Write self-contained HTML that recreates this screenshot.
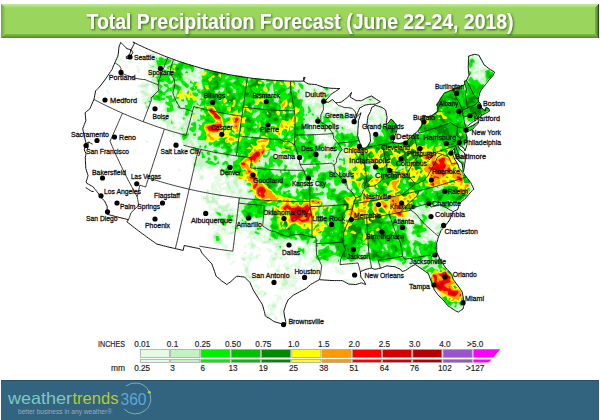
<!DOCTYPE html>
<html><head><meta charset="utf-8"><style>
html,body{margin:0;padding:0;background:#fff;width:600px;height:420px;overflow:hidden}
svg{display:block;font-family:"Liberation Sans",sans-serif}
</style></head><body>
<svg width="600" height="420" viewBox="0 0 600 420">
<defs>
<filter id="tsh" x="-5%" y="-30%" width="110%" height="160%"><feGaussianBlur in="SourceAlpha" stdDeviation="0.9"/><feOffset dx="1" dy="1.2" result="o"/><feFlood flood-color="#1a3a00" flood-opacity="0.75"/><feComposite in2="o" operator="in"/><feMerge><feMergeNode/><feMergeNode in="SourceGraphic"/></feMerge></filter>
</defs>
<rect width="600" height="420" fill="#fff"/>
<!-- header -->
<defs>
<linearGradient id="gt" x1="0" y1="0" x2="0" y2="1"><stop offset="0" stop-color="#C2EC9C"/><stop offset="1" stop-color="#A3DA6A"/></linearGradient>
<linearGradient id="gb" x1="0" y1="0" x2="0" y2="1"><stop offset="0" stop-color="#82BD4A"/><stop offset="1" stop-color="#4F8A24"/></linearGradient>
<linearGradient id="gl" x1="0" y1="0" x2="1" y2="0"><stop offset="0" stop-color="#6DAA38"/><stop offset="1" stop-color="#92CD58"/></linearGradient>
<linearGradient id="gr" x1="0" y1="0" x2="1" y2="0"><stop offset="0" stop-color="#7FB848"/><stop offset="1" stop-color="#3E6E1C"/></linearGradient>
</defs>
<rect x="1" y="4" width="598" height="34" fill="#9AD55D"/>
<polygon points="1,4 599,4 595,7.5 5,7.5" fill="url(#gt)"/>
<polygon points="1,4 5,7.5 5,34 1,38" fill="url(#gl)"/>
<polygon points="1,38 5,34 595,34 599,38" fill="url(#gb)"/>
<polygon points="599,4 599,38 595,34 595,7.5" fill="url(#gr)"/>
<line x1="598.6" y1="4" x2="598.6" y2="38" stroke="#203810" stroke-width="0.8"/>
<text x="86.5" y="29" font-size="21.3" font-weight="bold" fill="#fff" textLength="427" lengthAdjust="spacingAndGlyphs" filter="url(#tsh)">Total Precipitation Forecast (June 22-24, 2018)</text>
<!-- map -->
<g id="precip"><path fill="#E6FBE6" fill-rule="evenodd" d="M134.0 50.7 133.0 50.8 131.8 49.0 133.0 47.6 134.8 48.0 135.3 49.0 134.0 50.7ZM141.0 50.3 140.0 50.5 138.8 49.0 141.0 48.3 141.7 49.0 141.0 50.3ZM131.0 54.9 129.2 52.0 130.0 50.5 131.9 52.0 131.0 54.9ZM458.0 312.1 456.0 310.1 453.0 309.1 451.0 307.1 446.9 305.0 443.8 300.0 439.0 296.0 438.5 295.0 439.7 293.0 439.0 290.6 437.0 292.1 434.9 291.0 430.8 283.0 430.8 280.0 427.8 273.0 415.0 264.1 413.0 263.8 413.0 265.0 410.0 266.1 407.0 269.0 403.0 268.0 402.0 270.1 401.0 270.0 400.9 268.0 400.0 266.7 397.0 266.8 395.4 266.0 394.0 263.6 393.0 263.5 392.0 264.7 390.0 263.3 385.9 263.0 383.2 265.0 382.0 267.0 380.0 268.1 378.3 268.0 378.0 265.9 374.0 264.1 371.8 268.0 369.4 268.0 368.1 265.0 369.0 262.7 366.0 261.4 363.0 262.2 361.0 261.1 356.0 261.7 353.1 264.0 353.3 266.0 351.0 267.5 349.3 267.0 348.9 266.0 350.4 265.0 350.5 264.0 348.0 262.5 341.0 262.4 337.0 264.3 335.0 263.8 333.0 264.9 331.0 263.2 329.0 262.9 327.8 264.0 328.0 266.1 325.0 265.8 324.0 267.2 320.0 263.8 318.1 266.0 317.5 269.0 315.1 270.0 317.2 272.0 317.7 273.0 317.0 274.0 314.0 271.3 310.8 270.0 310.7 269.0 313.4 266.0 313.0 263.6 310.0 266.3 303.7 264.0 304.0 262.8 306.0 263.5 309.0 262.3 310.5 260.0 308.4 257.0 310.0 256.5 311.0 257.6 312.0 257.3 313.7 255.0 313.9 254.0 311.6 253.0 311.2 252.0 312.1 251.0 312.4 248.0 313.5 247.0 313.0 245.4 312.0 245.1 310.2 249.0 307.6 259.0 305.0 261.1 304.0 258.0 303.0 257.3 302.0 257.9 299.6 269.0 300.2 270.0 300.0 271.7 298.6 271.0 297.0 268.1 295.0 268.7 293.0 266.5 290.0 270.4 289.8 271.0 291.0 271.1 293.0 273.0 297.0 273.8 298.1 275.0 297.0 276.8 296.0 274.3 294.3 275.0 297.0 277.0 298.3 280.0 298.1 282.0 295.7 284.0 295.8 286.0 298.8 289.0 296.0 291.0 297.0 293.0 292.0 294.5 291.0 294.0 291.0 292.6 293.0 293.0 294.5 292.0 295.0 288.0 294.0 287.4 290.1 288.0 288.0 290.2 284.0 289.3 281.0 290.2 278.1 289.0 278.5 288.0 280.8 287.0 280.3 281.0 282.2 276.0 283.0 275.2 286.0 277.7 287.2 277.0 286.7 275.0 287.6 272.0 285.1 270.0 284.4 267.0 282.5 266.0 282.2 265.0 288.0 261.0 289.0 262.9 288.3 265.0 289.0 266.0 291.0 264.2 294.0 263.5 296.0 261.9 297.0 262.4 299.3 259.0 291.7 253.0 293.3 250.0 289.0 245.6 287.0 245.5 283.4 248.0 286.0 249.5 287.0 251.0 289.7 252.0 290.7 253.0 290.5 254.0 288.6 255.0 286.0 251.6 281.3 254.0 281.0 255.0 282.0 255.8 286.0 255.6 287.0 256.3 287.8 258.0 287.0 259.9 286.0 260.5 284.0 259.8 281.0 260.5 278.0 258.6 275.4 261.0 275.0 267.7 273.0 267.0 268.0 267.7 267.0 267.4 266.3 265.0 268.0 262.8 268.3 266.0 269.0 266.9 270.7 265.0 269.2 261.0 270.1 256.0 271.0 254.7 273.5 254.0 274.0 252.1 275.6 251.0 272.0 244.1 271.0 243.7 269.0 244.6 261.9 244.0 260.0 242.2 257.0 241.6 253.0 238.7 252.2 239.0 251.7 240.0 256.0 244.0 257.0 246.8 259.0 246.9 260.8 249.0 261.0 250.3 259.0 251.6 258.7 249.0 257.0 247.2 252.0 249.7 248.4 249.0 250.4 247.0 250.0 245.5 247.0 245.1 246.0 245.5 245.9 247.0 244.0 247.9 242.9 247.0 245.0 244.5 247.0 244.6 250.3 241.0 250.0 238.9 246.3 238.0 245.7 237.0 248.6 235.0 246.8 232.0 243.0 231.5 241.0 235.5 237.0 232.0 234.0 234.4 228.3 235.0 226.0 237.0 224.0 233.2 222.0 232.9 222.6 238.0 224.2 240.0 223.6 243.0 225.0 244.3 228.3 245.0 227.1 251.0 231.0 252.5 233.0 251.4 234.3 254.0 234.0 255.1 231.0 254.9 230.5 258.0 228.0 260.7 227.0 258.0 224.5 255.0 225.0 253.0 226.6 252.0 226.4 250.0 220.0 245.2 218.0 245.6 214.0 244.0 212.9 242.0 211.7 236.0 214.7 231.0 216.7 230.0 216.7 228.0 217.9 226.0 215.3 226.0 214.0 227.0 212.0 223.5 209.2 222.0 209.1 221.0 211.3 220.0 210.3 218.0 210.0 212.5 212.2 213.0 213.4 212.0 213.2 211.0 210.0 210.2 209.0 209.2 208.2 205.0 205.1 203.0 205.0 200.4 202.0 201.1 201.0 199.0 202.0 195.7 203.0 195.0 205.0 196.3 206.0 195.0 206.5 194.0 205.1 192.0 206.0 190.0 208.0 189.1 210.0 190.8 211.3 190.0 210.7 183.0 214.2 181.0 214.8 179.0 213.6 177.0 214.2 176.0 217.0 175.1 218.3 173.0 217.0 167.4 214.6 168.0 214.7 170.0 213.0 170.9 207.0 169.8 204.9 168.0 202.8 170.0 203.5 172.0 203.0 172.5 201.7 171.0 200.0 170.8 199.0 174.0 197.0 172.1 195.0 172.7 194.0 172.0 192.8 171.0 194.6 169.0 194.1 168.0 192.0 167.1 191.2 157.0 190.3 155.0 187.8 153.0 187.8 151.0 185.2 148.0 184.0 148.1 183.1 147.0 178.5 134.0 177.0 133.2 174.6 137.0 172.8 137.0 171.4 133.0 172.0 131.6 171.0 131.0 170.3 132.0 170.8 133.0 169.6 134.0 168.0 133.3 167.7 130.0 166.4 128.0 166.1 125.0 165.0 123.1 158.0 121.1 154.2 117.0 156.0 114.1 157.0 113.7 159.0 115.2 164.8 114.0 165.1 113.0 164.0 112.1 160.3 112.0 161.0 110.0 163.0 109.0 162.7 106.0 164.0 104.0 163.5 103.0 163.0 102.4 162.0 104.6 160.5 105.0 160.0 108.8 157.7 108.0 159.2 104.0 157.0 102.0 153.0 103.4 152.8 107.0 152.0 107.9 150.0 107.6 148.8 110.0 147.0 110.1 144.6 108.0 144.5 105.0 141.9 103.0 142.2 101.0 140.5 97.0 141.4 95.0 139.5 92.0 140.0 90.3 143.8 89.0 138.0 87.5 136.8 86.0 141.9 83.0 143.0 81.4 145.0 83.4 147.0 82.2 150.0 82.9 150.7 82.0 150.8 79.0 148.5 77.0 148.0 74.0 147.1 73.0 148.3 66.0 147.8 63.0 151.0 63.7 152.8 61.0 152.0 60.2 148.0 60.6 147.3 59.0 147.6 57.0 146.3 54.0 144.3 52.0 145.0 51.4 147.0 52.0 149.0 54.0 153.0 51.3 154.0 51.5 156.6 53.0 156.7 55.0 158.0 55.7 163.0 55.1 164.0 57.1 169.0 57.0 175.0 59.9 180.0 60.9 181.0 61.8 183.0 61.8 187.0 63.8 192.0 64.8 193.0 65.8 200.0 66.8 204.0 68.8 208.0 68.8 209.0 69.8 215.0 70.8 216.0 71.7 225.0 72.8 226.0 73.8 229.0 73.8 230.0 74.8 236.0 74.8 237.0 75.8 250.0 76.8 251.0 77.8 257.0 77.8 258.0 78.8 268.0 78.8 269.0 79.8 286.0 79.9 287.0 80.9 302.8 81.0 302.7 82.0 304.0 82.9 306.0 81.9 309.0 83.9 316.0 84.0 315.3 85.0 316.0 86.7 318.0 85.7 322.0 85.9 323.0 86.8 327.0 86.8 328.0 87.8 337.7 88.0 338.1 89.0 336.0 90.0 335.0 88.6 334.0 88.2 333.0 89.0 332.7 90.0 334.1 92.0 330.0 94.1 325.1 100.0 325.2 101.0 326.0 101.9 328.0 101.9 332.0 98.9 335.4 102.0 332.0 106.2 334.0 107.4 337.0 105.4 339.0 106.1 339.6 107.0 339.0 111.4 343.0 111.0 342.8 109.0 344.0 105.4 347.0 107.3 350.0 105.5 351.0 105.7 352.0 108.7 355.0 109.4 358.0 104.7 360.0 104.4 362.0 102.2 365.7 102.0 366.1 100.0 364.9 98.0 366.0 96.9 368.0 96.9 371.0 94.9 375.0 98.9 380.0 101.0 379.0 102.1 377.0 102.1 375.0 104.2 366.0 104.0 365.0 105.1 363.0 105.1 356.5 110.0 357.0 112.0 356.0 112.4 353.0 112.2 348.0 108.7 346.0 109.0 346.0 112.0 350.0 113.1 351.6 115.0 351.0 116.6 349.1 118.0 348.5 120.0 350.4 122.0 350.8 124.0 350.0 125.1 348.0 123.3 344.0 122.2 342.8 124.0 344.0 125.1 346.0 124.9 347.9 126.0 348.3 127.0 351.0 128.0 354.0 127.5 354.7 127.0 353.1 125.0 352.4 121.0 360.0 114.6 360.0 116.0 358.0 119.0 358.0 123.1 356.3 125.0 357.5 127.0 356.9 129.0 357.2 136.0 359.2 140.0 359.1 143.0 360.1 145.0 363.0 147.8 366.8 146.0 369.9 141.0 370.0 137.4 371.0 136.0 370.0 135.6 370.0 133.0 372.0 132.9 374.0 134.5 375.0 134.3 375.6 132.0 377.2 130.0 376.9 129.0 375.0 127.8 373.9 128.0 373.8 130.0 369.0 130.8 368.3 129.0 369.4 126.0 369.0 125.4 367.0 125.9 365.9 125.0 367.7 121.0 367.0 118.0 367.9 117.0 368.0 115.0 369.0 113.1 371.0 113.3 374.8 111.0 375.0 110.0 374.0 109.4 371.0 108.9 370.9 107.0 372.0 106.0 374.0 106.8 376.0 105.8 380.0 106.0 384.0 109.0 386.1 113.0 386.1 116.0 387.1 117.0 386.1 118.0 386.1 123.0 387.0 123.9 391.0 118.8 393.2 120.0 397.1 128.0 396.2 129.0 396.3 132.0 394.2 135.0 394.3 137.0 392.3 141.0 396.0 142.8 402.0 142.7 403.0 141.8 405.0 141.8 407.0 139.8 408.0 139.8 409.8 138.0 409.8 137.0 412.7 135.0 412.7 134.0 415.0 132.8 418.8 129.0 421.8 123.0 419.8 119.0 421.0 117.8 423.0 117.7 425.0 115.8 431.0 115.8 436.8 111.0 436.7 108.0 437.7 106.0 435.7 105.0 438.8 101.0 439.8 98.0 445.0 91.8 449.0 90.8 450.0 89.8 452.0 89.7 454.0 87.8 456.0 87.7 457.0 86.7 459.0 86.7 464.8 84.0 463.8 81.0 466.9 79.0 468.8 75.0 468.8 73.0 467.8 72.0 467.8 56.0 472.0 53.9 475.6 54.0 475.2 55.0 476.0 56.5 478.0 55.3 482.7 63.0 479.7 65.0 478.7 67.0 480.0 67.8 482.0 67.6 484.9 66.0 485.0 65.0 486.0 67.4 494.1 71.0 493.2 72.0 493.3 74.0 492.3 76.0 486.2 82.0 484.2 86.0 479.3 92.0 479.3 94.0 478.2 95.0 478.3 101.0 480.3 103.0 480.3 105.0 479.2 106.0 481.0 106.7 484.0 109.7 486.0 106.8 488.2 108.0 489.3 111.0 487.0 111.3 477.0 119.2 475.0 119.2 467.2 125.0 466.2 127.0 467.0 127.8 473.0 124.8 478.2 121.0 475.2 126.0 472.0 129.2 468.0 130.2 465.2 133.0 467.3 137.0 467.2 142.0 466.2 143.0 464.1 150.0 463.9 149.0 460.0 145.2 458.0 144.2 457.2 145.0 462.0 150.9 464.1 152.0 464.0 154.0 465.0 155.0 465.0 156.8 464.0 156.2 463.3 157.0 464.2 167.0 463.2 168.0 463.2 171.0 462.2 172.0 463.2 174.0 465.0 175.7 466.0 175.8 466.2 177.0 469.2 180.0 471.0 184.0 471.0 186.9 473.0 188.0 473.0 189.0 468.1 193.0 467.3 196.0 464.2 198.0 464.1 199.0 461.2 201.0 459.0 204.1 456.0 204.7 452.8 208.0 451.8 211.0 448.1 213.0 448.2 214.0 450.0 215.4 450.1 218.0 449.0 219.8 447.3 219.0 447.3 216.0 446.0 214.1 443.0 212.5 441.0 213.2 437.5 208.0 435.0 206.3 429.6 213.0 431.5 215.0 431.4 220.0 432.0 220.7 434.0 220.3 435.0 220.9 436.0 222.9 439.0 223.0 441.0 222.2 442.0 223.8 443.5 223.0 443.0 221.7 442.0 221.8 440.0 220.4 438.0 220.8 437.3 220.0 439.0 218.8 442.0 220.6 444.0 219.2 446.7 222.0 446.1 224.0 441.1 229.0 438.1 235.0 438.1 237.0 437.0 238.0 437.1 240.0 436.2 241.0 436.2 253.0 439.1 257.0 442.2 264.0 450.2 272.0 453.2 278.0 453.2 280.0 459.2 287.0 459.2 288.0 462.1 292.0 462.1 296.0 463.1 297.0 463.2 301.0 464.0 302.0 464.0 304.0 462.1 308.0 458.0 312.1ZM120.0 65.1 117.0 65.5 117.0 62.4 116.0 61.4 115.0 61.7 114.9 60.0 118.0 55.2 119.0 55.1 119.5 56.0 118.9 58.0 120.0 58.3 121.2 58.0 123.0 55.4 123.9 56.0 123.5 58.0 119.7 63.0 120.0 65.1ZM131.0 57.6 129.1 57.0 131.0 55.0 131.8 56.0 131.0 57.6ZM133.0 63.1 128.0 63.2 127.2 60.0 129.0 57.7 129.1 59.0 134.0 61.4 134.0 62.9 133.0 63.1ZM126.0 69.3 125.1 68.0 125.4 66.0 128.0 64.3 128.6 67.0 126.0 69.3ZM143.0 66.6 141.1 66.0 143.0 64.9 143.7 66.0 143.0 66.6ZM140.0 73.0 138.6 73.0 136.6 71.0 137.6 68.0 135.7 67.0 136.0 65.6 137.0 65.6 139.9 68.0 140.0 73.0ZM146.0 70.2 145.0 70.7 144.0 70.0 144.3 69.0 145.8 69.0 146.0 70.2ZM477.7 76.0 477.0 74.8 475.6 75.0 475.3 76.0 476.0 76.6 477.7 76.0ZM303.0 80.9 303.0 77.2 304.0 77.8 304.0 79.0 303.0 80.9ZM152.1 93.0 152.6 92.0 151.1 90.0 151.7 87.0 151.0 85.8 150.0 85.6 147.5 88.0 147.0 91.0 151.0 93.4 152.1 93.0ZM322.1 91.0 323.4 90.0 321.0 87.9 319.7 90.0 320.4 91.0 322.1 91.0ZM108.0 95.0 105.6 90.0 106.0 88.8 109.3 92.0 109.2 94.0 108.0 95.0ZM309.1 98.0 311.0 97.0 309.1 95.0 309.0 93.1 311.5 92.0 311.0 90.7 307.0 90.1 305.0 92.0 304.6 94.0 306.0 97.3 309.1 98.0ZM331.8 92.0 332.0 91.0 331.0 90.4 329.7 91.0 330.0 92.2 331.0 92.7 331.8 92.0ZM138.0 93.0 137.0 93.8 136.0 93.5 135.2 93.0 135.3 92.0 137.4 92.0 138.0 93.0ZM320.5 98.0 321.2 96.0 320.0 92.7 319.6 97.0 320.0 98.5 320.5 98.0ZM99.0 99.1 96.9 98.0 97.0 95.1 98.0 95.0 99.0 96.1 99.5 98.0 99.0 99.1ZM132.0 98.1 130.9 97.0 131.5 96.0 134.0 95.4 135.6 96.0 135.5 97.0 132.0 98.1ZM115.0 98.7 113.6 97.0 114.0 96.3 115.6 97.0 115.0 98.7ZM345.0 103.0 342.4 102.0 342.0 100.0 344.6 99.0 345.8 102.0 345.0 103.0ZM313.2 103.0 314.0 101.9 316.5 101.0 315.5 100.0 313.0 99.7 311.9 103.0 313.2 103.0ZM308.2 103.0 309.3 102.0 309.0 101.0 306.3 101.0 305.5 102.0 308.2 103.0ZM339.0 103.6 337.8 102.0 340.2 102.0 339.0 103.6ZM357.0 104.1 355.3 103.0 356.0 101.2 357.0 101.0 357.7 102.0 357.0 104.1ZM117.0 107.5 116.1 107.0 117.0 105.9 117.8 107.0 117.0 107.5ZM337.1 116.0 335.3 113.0 335.0 111.0 332.3 110.0 331.0 107.5 324.0 107.8 323.1 109.0 324.0 111.0 327.0 112.4 330.0 110.4 332.0 110.2 332.7 113.0 334.6 114.0 336.0 116.4 337.1 116.0ZM383.2 114.0 383.0 112.0 382.0 112.0 382.0 113.8 383.2 114.0ZM318.6 114.0 318.0 112.5 317.0 112.3 316.4 113.0 316.7 114.0 318.6 114.0ZM178.4 127.0 179.6 125.0 178.2 124.0 178.1 123.0 179.7 120.0 177.0 117.4 176.5 114.0 174.0 113.2 173.3 114.0 174.7 118.0 174.4 120.0 176.0 123.9 177.2 125.0 177.2 127.0 178.0 127.6 178.4 127.0ZM180.3 115.0 180.0 114.3 178.4 115.0 179.0 115.7 180.3 115.0ZM377.8 116.0 376.0 114.2 374.0 114.1 373.6 115.0 377.0 116.9 377.8 116.0ZM164.3 118.0 165.7 116.0 165.0 115.7 162.8 117.0 163.0 118.1 164.3 118.0ZM378.2 124.0 379.3 120.0 379.0 118.7 378.0 118.6 376.0 120.0 377.8 122.0 378.0 124.7 378.2 124.0ZM183.4 122.0 182.0 120.4 180.6 120.0 181.0 122.0 183.4 122.0ZM375.3 122.0 375.0 120.9 374.3 122.0 375.0 122.8 375.3 122.0ZM313.3 132.0 314.0 131.0 316.8 130.0 318.0 127.5 319.3 127.0 317.0 126.4 315.2 124.0 313.0 123.8 312.0 121.3 311.0 121.1 310.4 124.0 312.6 129.0 312.7 132.0 313.3 132.0ZM338.4 123.0 340.0 122.9 340.4 122.0 338.0 121.2 337.0 121.6 337.0 122.4 338.4 123.0ZM372.1 125.0 372.8 123.0 371.0 121.8 370.1 125.0 372.1 125.0ZM160.0 128.0 159.7 126.0 161.0 125.9 161.0 127.5 160.0 128.0ZM353.0 126.4 351.6 126.0 353.0 125.1 353.7 126.0 353.0 126.4ZM331.3 142.0 331.3 139.0 327.0 138.3 326.8 135.0 326.0 134.4 325.0 134.1 323.0 135.3 321.2 134.0 322.5 131.0 322.0 129.7 317.7 134.0 319.1 137.0 319.0 142.1 321.7 141.0 323.0 138.3 326.0 138.8 330.0 142.7 331.3 142.0ZM330.3 132.0 330.0 130.9 328.7 132.0 330.3 132.0ZM372.3 140.0 372.0 138.6 371.0 138.1 370.0 139.0 372.3 140.0ZM149.0 143.0 146.0 142.9 144.7 141.0 146.0 140.3 147.0 140.7 149.1 142.0 149.0 143.0ZM190.1 150.0 191.1 149.0 190.0 146.3 188.9 148.0 190.1 150.0ZM328.7 150.0 329.5 149.0 329.0 147.9 324.6 149.0 324.5 150.0 326.0 151.0 328.7 150.0ZM137.0 150.7 135.0 150.4 135.0 149.1 137.0 149.3 137.0 150.7ZM462.8 170.0 461.7 164.0 455.7 157.0 453.7 153.0 453.8 150.0 453.0 149.2 451.2 151.0 453.3 155.0 453.3 158.0 456.3 161.0 458.3 165.0 459.2 169.0 461.0 170.8 462.8 170.0ZM198.7 156.0 197.0 152.8 195.0 151.7 194.5 153.0 196.0 155.0 197.0 156.1 198.7 156.0ZM300.9 161.0 301.8 159.0 300.0 157.9 297.3 160.0 297.1 161.0 299.0 161.7 300.9 161.0ZM296.2 168.0 295.7 167.0 293.9 167.0 295.0 168.3 296.2 168.0ZM137.0 169.1 135.9 169.0 136.0 167.8 136.9 168.0 137.0 169.1ZM180.0 171.3 178.0 170.6 178.0 167.6 180.6 170.0 180.9 171.0 180.0 171.3ZM203.0 180.3 201.0 180.6 200.0 180.0 198.8 177.0 199.0 174.0 200.0 173.5 201.0 174.4 204.0 174.3 204.8 178.0 203.0 180.3ZM221.3 183.0 224.8 181.0 225.0 178.0 220.7 178.0 222.7 180.0 219.7 182.0 219.6 183.0 221.3 183.0ZM230.7 181.0 232.7 178.0 231.0 177.5 230.0 178.0 228.8 180.0 230.7 181.0ZM216.2 184.0 214.9 183.0 215.0 184.6 216.2 184.0ZM225.1 187.0 226.1 185.0 225.0 183.4 221.3 186.0 221.1 187.0 222.0 187.6 225.1 187.0ZM245.1 192.0 246.2 190.0 246.3 187.0 242.5 185.0 240.0 184.8 240.0 186.5 242.0 187.2 244.0 191.7 245.1 192.0ZM219.9 190.0 219.4 188.0 218.0 186.7 217.0 185.9 216.0 186.5 217.0 189.0 219.0 190.7 219.9 190.0ZM294.2 190.0 294.0 189.0 290.8 189.0 293.0 190.5 294.2 190.0ZM236.7 208.0 238.1 202.0 235.0 195.3 233.7 195.0 233.1 196.0 233.5 198.0 229.0 199.7 228.4 198.0 230.7 195.0 230.0 193.2 229.0 192.7 227.0 193.9 226.0 193.6 225.0 190.7 224.0 190.1 222.3 191.0 221.3 192.0 221.6 196.0 219.0 199.7 217.9 200.0 220.0 204.7 225.0 205.0 229.0 201.3 230.0 202.6 231.0 207.0 233.0 207.0 236.0 208.9 236.7 208.0ZM236.6 192.0 237.0 190.6 236.0 190.4 236.0 192.3 236.6 192.0ZM211.8 195.0 211.7 193.0 210.0 191.8 207.8 194.0 210.0 195.9 211.8 195.0ZM204.0 194.0 203.0 195.0 202.7 194.0 204.0 192.9 204.0 194.0ZM217.9 194.0 218.0 192.8 216.8 193.0 216.4 194.0 217.9 194.0ZM211.4 199.0 211.0 197.6 210.0 197.5 210.0 199.6 211.0 199.7 211.4 199.0ZM217.0 207.0 216.9 206.0 214.0 203.9 212.2 204.0 211.6 205.0 211.3 207.0 212.0 207.8 217.0 207.0ZM178.0 208.1 177.0 208.9 175.3 208.0 175.8 207.0 177.0 206.8 178.2 207.0 178.0 208.1ZM419.9 212.0 418.0 209.0 415.8 210.0 415.6 211.0 417.0 212.3 419.0 212.6 419.9 212.0ZM236.8 212.0 236.0 209.6 235.0 210.1 235.0 212.0 236.8 212.0ZM215.4 216.0 214.0 215.0 213.3 216.0 215.4 216.0ZM268.1 217.0 268.0 215.1 267.0 214.2 265.9 215.0 265.9 216.0 267.0 217.8 268.1 217.0ZM411.3 220.0 410.2 216.0 409.0 214.7 407.5 215.0 406.9 216.0 408.0 218.0 411.3 220.0ZM434.0 217.3 433.0 217.0 433.0 215.8 434.4 216.0 434.0 217.3ZM239.1 221.0 239.0 219.6 237.7 219.0 238.0 221.7 239.1 221.0ZM268.1 220.0 267.0 218.3 265.7 220.0 267.0 220.8 268.1 220.0ZM256.2 223.0 256.4 221.0 255.0 219.9 254.0 220.0 255.0 222.9 256.2 223.0ZM416.3 221.0 415.0 220.2 413.6 221.0 415.0 221.7 416.3 221.0ZM254.9 227.0 255.2 226.0 254.0 224.2 252.0 224.1 249.5 222.0 250.0 226.0 253.0 227.9 254.9 227.0ZM435.7 239.0 436.8 236.0 435.0 234.0 435.6 231.0 432.9 231.0 433.7 229.0 433.2 226.0 434.3 224.0 430.0 222.6 429.0 223.0 431.0 223.0 431.9 227.0 431.0 228.7 429.0 230.0 429.3 231.0 433.3 235.0 433.0 235.9 431.0 235.9 430.9 237.0 433.0 236.1 434.0 238.7 435.7 239.0ZM234.4 224.0 233.0 223.4 232.6 224.0 234.0 224.6 234.4 224.0ZM213.0 229.9 211.9 229.0 213.0 226.4 213.9 227.0 213.0 229.9ZM411.1 230.0 410.0 227.8 409.4 230.0 411.1 230.0ZM229.9 231.0 229.4 229.0 228.0 228.6 228.0 232.0 229.9 231.0ZM233.2 230.0 232.0 229.2 230.4 230.0 232.0 230.6 233.2 230.0ZM240.7 231.0 241.0 229.8 240.0 229.7 239.3 231.0 240.7 231.0ZM267.6 236.0 268.0 234.0 265.0 231.7 264.0 231.2 261.9 232.0 262.1 234.0 263.0 234.5 266.0 233.2 266.2 236.0 267.0 237.0 267.6 236.0ZM426.2 235.0 426.0 233.7 425.0 233.2 424.4 234.0 426.2 235.0ZM261.7 237.0 261.8 236.0 261.0 235.3 260.1 236.0 261.0 237.6 261.7 237.0ZM263.3 240.0 264.2 239.0 263.0 238.4 262.4 239.0 263.3 240.0ZM296.4 248.0 297.0 245.5 303.0 246.5 304.6 246.0 303.0 244.0 300.0 242.4 299.0 240.3 298.0 240.4 296.4 242.0 296.3 245.0 294.3 246.0 295.0 248.9 296.0 249.0 296.4 248.0ZM294.0 243.0 293.0 242.0 290.4 243.0 294.0 243.0ZM235.0 245.5 234.0 245.9 232.2 244.0 233.1 243.0 237.0 242.9 237.5 244.0 235.0 245.5ZM238.0 249.0 235.0 247.8 239.0 247.7 238.0 249.0ZM271.0 253.4 269.5 253.0 266.1 248.0 268.0 247.7 271.0 248.9 272.0 248.3 272.5 251.0 273.9 252.0 271.0 253.4ZM246.0 254.1 244.0 253.9 242.8 252.0 246.0 252.0 247.3 253.0 246.0 254.1ZM253.0 282.4 250.6 282.0 248.8 279.0 245.0 277.0 245.6 275.0 244.1 271.0 244.6 267.0 243.0 266.1 242.3 264.0 244.0 263.0 243.7 262.0 239.3 258.0 245.0 256.0 247.0 257.2 250.1 253.0 252.0 251.7 253.0 252.6 253.0 255.0 254.0 256.5 258.0 253.5 261.0 254.3 261.1 255.0 260.8 256.0 259.0 256.5 258.0 259.1 255.0 259.1 250.4 262.0 249.7 265.0 248.7 266.0 249.2 275.0 254.0 276.1 255.0 278.4 258.2 277.0 258.0 280.7 256.0 280.7 253.0 282.4ZM246.6 264.0 246.7 262.0 249.2 261.0 247.0 258.3 245.3 262.0 244.0 263.0 246.0 265.0 246.6 264.0ZM232.0 265.0 229.0 264.0 235.0 259.9 235.0 263.0 233.0 263.5 232.0 265.0ZM279.0 273.1 278.0 273.5 277.0 273.0 275.3 271.0 276.0 268.2 278.0 268.0 279.0 262.5 280.7 264.0 279.9 269.0 281.0 271.0 279.0 273.1ZM347.0 267.1 345.9 267.0 346.0 265.8 347.0 266.0 347.0 267.1ZM341.0 275.1 335.0 272.2 335.5 270.0 334.0 267.0 336.0 266.4 338.0 267.4 338.8 268.0 339.0 270.8 341.0 270.1 345.0 272.7 345.6 274.0 341.0 275.1ZM341.0 269.8 340.0 269.8 339.3 268.0 341.0 267.5 341.0 269.8ZM358.0 271.3 356.0 271.0 356.2 270.0 358.0 269.6 360.0 267.7 362.0 267.4 364.0 268.9 365.0 268.3 365.0 269.0 363.0 270.0 361.0 270.1 360.0 271.0 359.0 270.2 358.0 271.3ZM294.0 270.0 292.3 270.0 292.4 269.0 294.0 268.0 294.8 269.0 294.0 270.0ZM322.0 275.1 320.6 275.0 322.0 272.5 323.0 274.0 322.0 275.1ZM240.0 276.0 238.0 276.0 237.7 275.0 239.0 274.3 240.0 274.8 240.0 276.0ZM350.0 278.3 349.0 278.7 349.0 276.2 350.2 277.0 350.0 278.3ZM361.0 282.0 358.6 282.0 359.7 280.0 357.3 278.0 359.0 277.6 360.0 276.5 362.8 280.0 361.0 282.0ZM292.7 280.0 292.0 278.7 288.8 279.0 290.0 280.5 292.7 280.0ZM349.0 284.0 348.0 284.0 345.0 281.1 344.1 281.0 344.0 279.0 349.0 279.2 349.0 284.0ZM354.0 284.0 351.7 284.0 355.0 279.7 354.9 284.0 354.0 284.0ZM269.0 284.3 267.9 284.0 268.0 282.8 269.2 283.0 269.0 284.3ZM261.0 298.1 260.0 295.6 257.0 296.0 256.0 295.0 257.6 292.0 254.0 291.1 254.0 289.8 256.6 289.0 257.4 288.0 255.0 287.7 253.3 286.0 256.0 283.6 257.9 284.0 259.0 285.6 261.2 286.0 261.0 287.3 259.0 288.0 259.1 290.0 265.0 290.3 266.7 292.0 267.4 294.0 266.9 295.0 265.0 297.0 261.0 298.1ZM301.0 290.0 299.1 290.0 300.0 285.5 301.8 288.0 301.0 290.0ZM271.0 319.0 270.0 319.0 268.0 317.1 266.0 317.0 265.0 315.0 265.0 313.9 267.0 312.4 269.0 313.2 270.4 312.0 267.2 306.0 269.0 304.3 271.0 304.0 273.0 301.3 274.0 301.1 275.0 302.6 276.2 302.0 275.8 301.0 277.7 297.0 277.0 296.2 274.0 296.2 273.8 295.0 277.0 294.4 281.0 295.1 283.1 299.0 278.4 301.0 277.0 304.0 277.3 307.0 275.9 310.0 273.9 311.0 273.6 312.0 274.8 315.0 270.4 316.0 270.3 318.0 271.6 319.0 271.0 319.0ZM285.0 296.2 284.0 296.6 283.4 296.0 284.0 294.3 285.6 295.0 285.0 296.2ZM283.0 317.1 279.8 316.0 280.2 314.0 279.3 311.0 281.0 307.3 282.8 310.0 283.0 317.1ZM278.0 320.3 275.0 319.9 274.3 319.0 275.0 315.1 276.4 316.0 278.0 320.3ZM283.0 323.0 280.9 323.0 281.0 321.1 283.0 321.8 283.0 323.0Z"/>
<path fill="#C4F3C4" fill-rule="evenodd" d="M153.0 56.4 151.3 54.0 153.0 52.9 154.8 54.0 153.3 55.0 153.0 56.4ZM456.0 309.3 453.0 309.0 451.0 307.0 446.9 305.0 446.9 304.0 440.0 295.8 439.8 295.0 441.4 293.0 440.0 289.0 437.0 289.2 435.0 290.5 430.9 283.0 430.9 280.0 429.9 279.0 430.0 276.6 431.0 275.6 430.7 274.0 430.0 273.3 429.0 274.9 426.0 271.1 425.0 271.1 419.4 267.0 419.9 265.0 419.0 263.5 417.0 265.7 414.0 262.5 408.0 262.1 405.3 265.0 408.9 266.0 407.0 268.2 405.8 268.0 404.3 266.0 402.0 266.3 400.0 265.2 397.0 265.7 396.8 264.0 398.3 262.0 397.3 261.0 394.0 260.0 392.0 262.3 385.0 262.5 380.0 266.6 378.0 264.1 371.0 262.4 369.0 259.0 368.0 258.9 367.0 260.2 363.0 261.1 361.0 260.3 357.0 260.4 351.0 263.1 347.0 260.6 343.0 261.9 341.0 261.1 337.0 263.4 335.6 263.0 335.0 261.6 333.0 262.9 330.0 261.4 326.0 263.2 324.0 263.4 323.0 264.4 321.5 263.0 322.0 261.6 323.0 262.0 323.5 261.0 323.0 260.7 321.0 261.8 317.0 260.1 315.9 261.0 316.0 262.1 312.0 262.2 311.8 261.0 314.0 259.6 314.0 257.0 316.6 253.0 313.8 251.0 314.0 249.0 315.2 248.0 314.9 247.0 314.0 245.0 312.0 244.1 309.0 246.7 307.0 246.6 305.3 244.0 305.0 240.9 302.0 242.2 301.0 242.0 299.0 239.1 296.0 240.8 293.0 240.2 291.0 240.8 289.0 239.6 285.7 240.0 281.5 244.0 282.6 247.0 281.0 249.6 279.0 250.5 277.3 250.0 277.9 248.0 277.0 246.9 276.0 247.8 275.6 246.0 273.0 243.0 274.0 242.4 276.0 244.1 278.0 242.2 280.0 243.7 280.0 242.7 277.4 241.0 274.0 239.8 273.0 241.0 273.0 242.8 271.0 241.8 269.0 243.1 262.6 243.0 262.6 242.0 265.0 240.8 267.4 241.0 269.4 234.0 268.6 232.0 270.2 230.0 269.0 229.8 267.0 231.4 266.0 231.0 265.0 229.4 266.8 229.0 266.9 228.0 265.0 227.4 263.7 225.0 265.0 224.0 268.3 225.0 268.3 223.0 269.6 221.0 269.4 218.0 272.3 217.0 272.0 215.2 271.0 214.5 269.0 215.1 268.8 213.0 268.0 212.6 266.0 213.3 264.6 215.0 265.0 218.6 262.0 218.8 260.5 220.0 262.0 223.0 259.9 226.0 263.8 229.0 259.4 231.0 260.7 234.0 258.0 236.6 256.8 236.0 256.0 234.1 254.6 234.0 253.0 235.5 250.0 234.4 249.1 233.0 251.0 230.4 253.0 230.7 254.8 230.0 255.5 228.0 256.8 227.0 256.2 225.0 257.6 223.0 257.4 220.0 254.0 218.0 252.6 220.0 253.5 222.0 253.0 223.2 252.0 223.0 251.0 220.8 248.9 221.0 247.7 222.0 248.7 224.0 248.4 226.0 250.3 228.0 250.0 228.6 245.0 226.6 242.0 228.3 240.0 228.1 238.0 230.3 237.0 230.4 231.0 227.1 232.0 225.4 234.0 226.6 237.0 226.1 240.0 226.9 245.2 225.0 242.0 222.7 239.5 223.0 240.3 218.0 243.0 217.5 243.4 216.0 237.6 210.0 239.5 205.0 238.0 195.0 239.0 197.2 241.0 195.4 242.0 195.6 242.4 198.0 245.0 197.6 247.0 199.0 246.0 203.1 248.0 201.0 250.0 200.4 251.0 198.6 253.0 197.2 253.0 195.7 251.2 195.0 253.0 193.0 252.0 192.5 250.0 194.4 246.4 193.0 247.0 189.9 248.0 189.0 249.7 189.0 249.0 187.7 244.1 184.0 243.0 179.9 238.0 179.0 237.5 182.0 238.3 185.0 238.0 187.8 236.5 187.0 233.2 183.0 233.4 181.0 235.5 178.0 234.6 177.0 230.0 176.5 227.0 179.4 224.9 175.0 224.0 174.6 222.9 176.0 220.8 176.0 219.3 171.0 219.9 166.0 219.0 165.0 214.0 166.5 210.0 169.1 207.5 168.0 207.3 167.0 209.6 166.0 207.0 164.5 206.1 165.0 206.0 166.2 203.0 165.8 202.0 167.0 202.3 168.0 200.0 169.4 199.2 169.0 200.4 167.0 198.0 166.2 195.0 167.2 193.0 166.0 193.0 163.1 195.5 161.0 195.0 159.2 192.9 158.0 195.0 156.8 199.0 157.6 200.5 156.0 196.0 150.5 193.0 152.5 190.0 152.9 189.5 152.0 192.0 149.0 191.0 144.0 189.0 142.8 187.0 145.3 185.0 146.0 184.0 145.1 182.5 143.0 180.1 135.0 180.0 134.0 182.2 132.0 180.0 130.4 177.2 130.0 180.0 128.0 180.4 126.0 185.4 122.0 180.9 118.0 180.6 117.0 183.2 116.0 182.7 114.0 183.3 112.0 182.5 111.0 178.0 109.8 176.0 111.4 169.2 113.0 168.0 115.2 167.0 114.8 164.3 110.0 165.7 106.0 164.0 101.7 162.0 101.1 161.0 102.8 157.0 101.1 154.0 102.0 151.0 98.2 150.0 99.0 151.8 101.0 151.8 102.0 150.0 103.6 148.0 103.0 147.1 104.0 147.1 105.0 150.0 106.0 148.0 109.2 145.7 108.0 145.5 105.0 143.1 102.0 146.2 101.0 149.5 96.0 153.8 93.0 156.5 89.0 156.0 88.0 153.0 87.2 151.7 85.0 152.0 83.6 153.9 82.0 152.5 81.0 151.0 77.0 152.0 76.4 154.0 76.8 155.0 76.0 152.0 74.2 151.0 76.9 150.0 76.5 149.0 75.1 149.0 72.0 153.0 70.9 158.0 74.1 158.0 72.0 160.0 70.4 162.0 70.3 162.2 69.0 165.0 68.0 165.4 67.0 164.0 66.2 163.0 66.6 161.0 69.6 159.0 68.6 157.8 69.0 157.0 71.2 156.0 68.0 153.0 68.4 150.0 67.7 149.6 65.0 152.0 65.2 155.3 64.0 153.3 58.0 156.0 56.4 162.0 56.4 165.0 58.0 168.0 57.4 173.0 59.6 174.0 59.0 175.0 60.0 177.0 60.0 175.1 61.0 176.0 62.4 177.3 62.0 177.6 61.0 180.0 60.9 181.0 61.9 186.0 62.9 187.0 63.9 192.0 64.8 193.0 65.9 200.0 66.9 204.0 68.9 208.0 68.9 209.0 69.9 215.0 70.8 216.0 71.8 225.0 72.9 226.0 73.9 229.0 73.9 230.0 74.9 236.0 74.9 237.0 75.8 250.0 76.9 251.0 77.9 257.0 77.9 258.0 78.8 268.0 78.9 269.0 79.9 286.0 80.0 287.0 80.9 300.2 81.0 300.4 82.0 303.0 83.5 304.9 86.0 304.6 88.0 305.3 90.0 302.0 92.0 304.3 96.0 303.7 103.0 308.0 104.3 310.0 103.6 313.0 106.7 314.9 106.0 315.0 102.7 320.0 103.8 320.6 103.0 322.7 94.0 324.7 91.0 321.7 87.0 322.0 86.0 323.0 86.9 327.0 86.9 328.0 87.9 330.4 88.0 330.4 89.0 328.0 92.0 331.0 94.0 330.0 94.1 328.1 96.0 328.1 97.0 325.1 100.0 325.1 101.0 327.0 102.0 329.0 100.9 330.8 101.0 331.0 101.9 333.0 100.0 334.0 102.0 332.0 103.1 331.0 102.0 328.0 103.1 326.0 102.4 323.2 106.0 319.0 108.7 317.0 106.7 316.0 106.9 314.7 110.0 315.0 114.4 316.0 115.1 321.0 115.4 322.2 114.0 321.4 112.0 322.0 111.6 324.0 112.1 326.0 114.5 329.0 111.9 331.0 111.3 331.7 114.0 333.8 115.0 333.9 116.0 332.2 118.0 335.5 122.0 334.7 125.0 335.5 126.0 337.0 126.4 339.0 124.5 345.0 126.1 345.8 127.0 344.5 130.0 345.0 132.8 346.7 132.0 345.5 130.0 346.0 128.9 349.0 128.9 354.0 131.6 357.0 131.0 357.1 136.0 359.1 140.0 359.6 145.0 363.0 147.8 366.9 146.0 369.0 142.0 373.0 141.6 373.4 140.0 372.2 137.0 373.0 135.6 375.0 135.8 379.8 134.0 380.4 133.0 378.8 131.0 379.4 124.0 380.9 119.0 379.4 117.0 380.0 115.0 383.2 119.0 382.2 123.0 383.0 124.2 384.9 123.0 384.5 121.0 386.0 118.8 386.0 123.0 387.0 124.0 391.0 118.9 393.2 120.0 396.1 126.0 396.9 128.0 396.1 129.0 396.2 132.0 394.1 135.0 394.2 137.0 392.2 141.0 393.0 141.8 395.0 142.8 402.0 142.8 408.0 139.9 409.9 138.0 409.9 137.0 412.8 135.0 413.0 133.8 415.0 132.9 418.0 129.9 420.8 126.0 420.8 124.0 421.9 122.0 419.8 119.0 420.8 118.0 423.0 117.8 425.0 115.9 431.0 115.8 436.8 111.0 436.8 108.0 437.8 106.0 435.8 105.0 438.9 101.0 439.9 98.0 445.0 91.9 449.0 90.9 450.0 89.9 452.0 89.8 454.0 87.9 459.0 86.8 464.9 84.0 463.8 81.0 467.0 79.0 468.9 75.0 468.9 73.0 467.9 72.0 468.5 69.0 468.0 58.9 471.7 57.0 472.2 54.0 474.0 54.0 473.6 55.0 475.0 59.6 478.8 62.0 477.0 64.5 474.0 64.8 474.0 67.0 477.0 68.0 472.4 71.0 472.1 75.0 474.8 79.0 478.0 77.7 479.0 79.9 480.0 80.1 482.0 77.2 483.0 77.6 484.0 76.9 484.8 75.0 484.0 73.0 482.0 72.9 480.0 71.0 479.0 71.1 478.0 73.8 475.0 73.8 474.7 73.0 476.0 71.0 479.0 70.8 481.0 69.5 483.0 69.7 484.0 67.9 486.0 69.1 488.0 68.4 490.0 69.0 494.0 71.0 493.1 72.0 493.2 74.0 492.2 76.0 486.1 82.0 484.1 86.0 479.2 92.0 479.2 94.0 478.2 95.0 478.2 101.0 480.2 103.0 480.2 105.0 479.1 106.0 481.0 106.8 484.0 109.8 485.8 108.0 486.0 106.9 488.1 108.0 489.2 111.0 487.0 111.2 477.0 119.1 475.0 119.1 468.0 124.0 466.2 127.0 467.0 127.9 473.0 124.9 478.1 121.0 475.2 126.0 472.0 129.1 468.0 130.1 465.1 133.0 467.2 137.0 467.1 142.0 466.1 143.0 466.0 145.0 464.0 146.3 463.0 148.0 460.0 145.1 458.0 144.2 457.2 145.0 461.0 150.0 461.0 152.0 462.0 152.8 463.0 152.0 463.0 153.2 461.0 153.1 460.4 155.0 462.1 157.0 462.4 160.0 464.0 161.2 464.1 167.0 463.1 168.0 463.1 171.0 462.1 172.0 463.1 174.0 465.0 175.8 466.0 175.9 466.1 177.0 469.1 180.0 470.6 184.0 469.6 186.0 471.4 190.0 471.0 191.1 470.0 191.1 468.1 193.0 467.2 196.0 464.1 198.0 464.1 199.0 463.0 199.1 461.1 201.0 459.1 203.0 459.0 204.0 457.0 203.2 456.0 203.6 450.9 208.0 448.7 209.0 448.0 211.0 441.0 211.4 440.0 210.0 440.9 208.0 440.0 206.1 436.0 204.6 434.0 205.0 432.0 207.3 430.0 207.4 430.0 210.0 429.0 211.5 427.0 212.3 424.3 212.0 427.0 214.7 429.8 215.0 430.0 220.3 428.0 221.2 426.0 221.0 426.5 223.0 424.1 225.0 425.0 226.4 427.3 227.0 429.5 235.0 429.0 235.8 428.0 235.4 427.2 233.0 426.0 232.2 424.0 232.3 421.9 234.0 426.0 237.0 428.0 236.8 429.0 239.1 432.0 238.8 435.0 240.3 437.0 239.7 436.1 241.0 436.1 253.0 439.0 257.0 442.1 264.0 450.1 272.0 453.1 278.0 453.1 280.0 461.1 290.0 462.0 296.0 463.1 297.0 463.6 304.0 463.1 306.0 461.4 308.0 460.0 308.4 459.6 306.0 458.0 305.1 457.0 308.6 456.0 309.3ZM469.0 56.5 468.0 56.9 467.9 56.0 469.5 56.0 469.0 56.5ZM150.0 60.0 148.9 60.0 148.3 59.0 149.0 57.6 151.0 59.0 150.0 60.0ZM481.0 60.7 479.2 59.0 480.0 58.3 481.0 60.7ZM200.4 81.0 200.0 79.3 197.5 78.0 200.3 76.0 200.0 74.1 197.9 73.0 200.8 70.0 198.0 67.5 196.0 67.8 194.4 74.0 196.7 77.0 195.0 78.0 193.1 77.0 190.2 74.0 190.0 72.7 189.4 78.0 193.0 80.6 200.0 81.6 200.4 81.0ZM203.4 72.0 203.0 70.8 201.5 71.0 203.0 72.9 203.4 72.0ZM186.0 77.0 187.3 76.0 187.2 75.0 185.0 74.1 183.8 76.0 186.0 77.0ZM187.1 82.0 188.0 79.7 185.9 79.0 185.1 80.0 187.1 82.0ZM484.0 83.0 484.0 81.6 481.4 82.0 481.3 83.0 484.0 83.0ZM311.0 87.0 310.0 87.0 307.0 84.7 306.3 83.0 308.0 83.0 311.0 84.9 311.0 87.0ZM146.0 87.6 141.0 87.0 140.0 86.0 142.0 84.2 144.0 85.1 147.0 83.5 148.6 84.0 149.1 85.0 146.0 87.6ZM200.5 88.0 202.0 87.2 202.0 86.0 201.0 84.1 200.0 83.8 198.2 88.0 200.5 88.0ZM297.2 89.0 298.1 87.0 297.0 85.2 295.2 88.0 296.0 89.6 297.2 89.0ZM315.0 97.3 313.9 96.0 310.8 95.0 311.0 94.1 313.6 93.0 312.1 90.0 314.0 87.4 315.6 88.0 316.8 90.0 316.3 93.0 314.6 95.0 316.0 96.0 315.0 97.3ZM223.1 90.0 223.0 88.7 221.7 89.0 223.1 90.0ZM149.0 95.6 145.0 95.8 143.0 93.2 141.0 92.2 140.9 91.0 143.6 91.0 149.0 94.6 149.0 95.6ZM186.3 92.0 186.0 90.7 184.7 91.0 185.0 92.3 186.3 92.0ZM302.1 98.0 301.0 93.9 299.1 98.0 302.1 98.0ZM174.6 97.0 174.9 96.0 174.0 94.9 173.3 97.0 174.6 97.0ZM372.0 101.9 369.0 102.0 367.5 101.0 367.4 97.0 371.0 94.9 374.9 99.0 373.2 100.0 372.0 101.9ZM277.5 99.0 277.0 97.8 276.0 97.8 277.0 99.9 277.5 99.0ZM319.0 101.0 316.9 99.0 318.0 98.3 319.6 100.0 319.0 101.0ZM364.0 105.0 362.0 105.9 361.3 104.0 364.2 104.0 364.0 105.0ZM183.3 107.0 183.6 105.0 182.0 104.4 181.3 106.0 182.0 107.7 183.0 107.8 183.3 107.0ZM337.0 111.9 334.3 109.0 337.0 106.9 338.2 108.0 337.0 111.9ZM350.0 108.7 348.8 108.0 350.0 106.7 350.0 108.7ZM358.0 108.2 356.9 108.0 357.3 107.0 359.0 106.6 358.0 108.2ZM194.9 110.0 194.0 108.9 192.9 109.0 193.0 110.3 194.0 110.7 194.9 110.0ZM307.3 110.0 307.0 108.5 306.0 108.4 306.0 111.0 307.3 110.0ZM381.0 110.4 380.2 109.0 381.0 108.1 382.3 109.0 381.0 110.4ZM258.9 113.0 258.8 112.0 258.0 111.8 257.5 113.0 258.9 113.0ZM306.3 113.0 306.0 111.0 304.7 113.0 305.0 113.6 306.3 113.0ZM386.0 116.6 384.6 115.0 385.0 111.9 386.0 113.0 386.0 116.6ZM340.0 120.2 336.7 120.0 335.9 119.0 339.2 116.0 339.7 113.0 341.0 112.1 345.0 113.6 346.8 117.0 346.5 118.0 345.0 119.6 340.0 120.2ZM198.0 116.0 198.0 113.7 196.6 115.0 196.7 116.0 198.0 116.0ZM230.0 115.0 230.1 114.0 228.6 114.0 228.6 115.0 230.0 115.0ZM240.1 116.0 240.9 115.0 240.0 114.2 238.9 115.0 240.1 116.0ZM160.0 118.8 159.1 118.0 161.3 116.0 160.0 118.8ZM172.0 116.6 171.0 116.3 171.0 115.5 172.0 115.8 172.0 116.6ZM192.1 121.0 192.8 120.0 192.7 117.0 192.0 116.5 190.0 115.7 186.2 118.0 186.1 120.0 187.0 120.5 190.0 120.1 192.1 121.0ZM372.0 120.3 369.0 120.0 368.0 118.0 370.4 117.0 371.0 115.4 372.0 115.4 372.8 117.0 372.8 120.0 372.0 120.3ZM168.0 127.7 167.0 126.7 165.9 122.0 162.0 121.7 160.3 119.0 161.0 118.5 163.0 119.2 167.0 116.7 168.0 117.4 169.0 120.0 172.0 119.0 174.6 124.0 173.0 125.5 170.0 124.1 168.9 125.0 168.0 127.7ZM322.2 120.0 322.0 118.0 321.0 116.8 322.0 120.7 322.2 120.0ZM327.6 152.0 331.1 151.0 331.5 146.0 335.1 140.0 333.6 139.0 333.0 135.8 330.0 137.4 328.0 137.0 329.4 134.0 334.2 129.0 333.8 126.0 333.0 125.8 332.0 126.7 331.8 129.0 331.0 129.5 328.0 130.0 327.0 128.2 326.0 128.2 324.0 129.8 316.0 123.2 314.0 122.9 313.1 122.0 313.0 119.1 310.1 120.0 309.0 124.0 311.4 129.0 311.2 132.0 314.0 133.2 316.4 136.0 316.0 137.4 317.0 137.0 318.0 138.0 318.0 139.3 315.9 142.0 318.0 143.5 322.0 142.0 326.0 143.8 328.0 143.5 328.0 146.6 325.0 145.6 325.1 147.0 321.8 150.0 323.0 152.0 327.0 153.0 327.6 152.0ZM467.1 122.0 466.0 119.9 465.6 122.0 467.0 122.6 467.1 122.0ZM357.0 122.8 355.2 122.0 356.0 120.3 357.5 122.0 357.0 122.8ZM306.1 123.0 305.0 121.4 305.0 123.8 306.0 123.8 306.1 123.0ZM368.0 124.3 367.0 124.7 367.0 122.6 369.0 122.6 368.0 124.3ZM188.2 125.0 188.8 124.0 188.0 123.6 187.7 125.0 188.2 125.0ZM232.4 125.0 232.0 123.9 231.0 124.0 231.2 125.0 232.4 125.0ZM185.7 128.0 186.4 127.0 185.0 125.6 184.0 125.7 183.9 128.0 185.7 128.0ZM173.0 129.1 172.3 128.0 173.0 126.3 175.0 126.2 175.8 127.0 175.4 128.0 173.0 129.1ZM371.0 129.1 370.0 129.1 369.9 128.0 371.0 126.8 371.5 128.0 371.0 129.1ZM306.1 131.0 306.7 130.0 306.0 128.2 305.5 130.0 306.1 131.0ZM320.0 130.2 319.0 130.9 318.3 130.0 319.0 128.9 320.4 129.0 320.0 130.2ZM340.5 130.0 340.0 128.8 339.2 129.0 339.5 130.0 340.5 130.0ZM199.5 135.0 200.0 131.6 197.8 133.0 198.3 135.0 199.0 135.5 199.5 135.0ZM324.0 133.1 323.0 133.0 324.0 131.3 325.0 131.2 325.7 132.0 324.0 133.1ZM307.0 134.0 307.0 133.0 306.0 132.6 305.5 134.0 306.0 134.6 307.0 134.0ZM256.3 136.0 256.0 134.8 253.8 135.0 254.2 136.0 256.3 136.0ZM197.7 146.0 198.7 145.0 196.2 142.0 196.7 139.0 196.0 138.3 194.0 139.8 192.0 138.1 190.9 138.0 190.5 139.0 193.8 143.0 194.2 146.0 196.0 146.5 197.7 146.0ZM201.2 143.0 201.4 142.0 199.3 142.0 200.0 143.3 201.2 143.0ZM281.1 151.0 281.3 150.0 280.0 148.9 276.8 148.0 279.6 151.0 281.1 151.0ZM200.1 151.0 201.1 150.0 200.6 149.0 198.6 149.0 199.0 151.2 200.1 151.0ZM319.0 152.0 318.9 150.0 317.9 149.0 317.2 150.0 319.0 152.0ZM350.4 155.0 352.9 153.0 352.8 152.0 351.0 151.6 348.0 152.8 346.4 152.0 345.0 149.7 344.0 150.0 342.8 153.0 344.0 153.0 346.0 154.8 350.4 155.0ZM462.9 170.0 461.8 164.0 455.8 157.0 453.8 153.0 453.9 150.0 453.0 149.1 451.1 151.0 453.2 155.0 453.3 158.0 457.2 163.0 459.1 169.0 461.0 170.9 462.9 170.0ZM271.4 154.0 273.0 153.0 273.2 152.0 272.0 151.5 271.1 152.0 270.7 154.0 271.4 154.0ZM280.1 157.0 280.8 156.0 278.0 153.1 276.0 152.4 274.3 153.0 275.0 156.5 279.0 157.6 280.1 157.0ZM297.4 173.0 298.3 169.0 296.3 166.0 294.3 165.0 294.2 164.0 296.0 162.6 301.0 162.9 303.1 159.0 303.0 157.9 299.0 155.3 297.0 156.0 297.6 158.0 293.0 161.5 293.1 164.0 291.0 165.6 288.5 164.0 291.0 161.0 289.5 159.0 291.0 158.5 290.9 157.0 289.0 154.9 286.0 153.5 282.3 155.0 288.2 158.0 288.0 158.7 286.0 158.3 285.0 160.0 288.8 167.0 290.0 167.6 292.0 167.1 295.6 170.0 295.6 172.0 297.0 173.8 297.4 173.0ZM222.2 162.0 226.4 159.0 225.0 157.3 222.0 158.6 221.1 158.0 220.4 155.0 218.0 154.9 217.9 156.0 220.4 159.0 221.0 162.8 222.2 162.0ZM233.1 158.0 233.5 157.0 232.0 154.5 229.9 156.0 230.0 158.2 232.0 159.0 233.1 158.0ZM342.0 157.0 341.9 156.0 340.5 156.0 340.6 157.0 342.0 157.0ZM349.3 161.0 349.0 158.7 346.0 155.7 345.7 157.0 346.9 160.0 349.0 161.5 349.3 161.0ZM213.3 159.0 213.0 157.4 211.3 157.0 212.0 159.3 213.3 159.0ZM338.6 164.0 340.0 163.0 336.8 161.0 337.0 158.5 333.1 158.0 335.8 161.0 335.7 163.0 337.0 164.7 338.0 164.8 338.6 164.0ZM205.3 160.0 204.0 159.2 202.8 160.0 204.0 160.8 205.3 160.0ZM262.0 165.0 263.4 163.0 263.0 160.4 262.0 159.3 260.5 163.0 261.0 164.9 262.0 165.0ZM304.0 168.0 310.2 166.0 310.0 165.0 307.4 164.0 307.3 163.0 309.5 161.0 308.3 160.0 307.0 161.0 306.8 163.0 305.6 164.0 303.0 165.4 301.0 165.1 300.3 166.0 301.0 167.4 304.0 168.0ZM322.3 168.0 325.0 166.1 328.0 165.2 330.0 165.9 331.0 165.2 330.3 161.0 325.9 160.0 325.4 165.0 325.0 165.7 323.0 164.3 322.0 164.8 321.6 167.0 322.3 168.0ZM231.5 163.0 230.9 162.0 228.8 162.0 230.0 163.6 231.0 163.9 231.5 163.0ZM351.0 167.0 352.3 166.0 352.2 165.0 350.0 163.8 349.0 162.0 347.0 162.3 347.6 167.0 349.0 167.8 351.0 167.0ZM425.2 166.0 424.6 165.0 423.6 165.0 424.0 166.5 425.0 166.7 425.2 166.0ZM283.1 168.0 283.0 166.3 282.0 165.7 281.0 168.0 282.0 168.6 283.1 168.0ZM225.4 168.0 225.0 166.6 223.6 167.0 223.3 168.0 224.0 168.8 225.4 168.0ZM274.2 172.0 276.0 169.2 277.8 169.0 277.0 166.6 276.0 166.5 272.6 169.0 272.9 172.0 274.2 172.0ZM334.5 169.0 335.0 168.0 334.0 166.7 332.6 167.0 331.7 169.0 333.0 169.7 334.5 169.0ZM401.6 168.0 402.0 166.4 399.8 167.0 400.0 168.5 401.6 168.0ZM380.1 176.0 380.6 174.0 377.0 174.8 374.5 171.0 372.8 171.0 373.4 174.0 380.1 176.0ZM347.1 175.0 347.3 174.0 346.0 172.9 345.9 174.0 347.1 175.0ZM201.0 179.2 200.0 176.7 203.0 175.9 203.3 177.0 201.0 179.2ZM216.0 178.6 215.5 178.0 216.0 176.9 216.9 178.0 216.0 178.6ZM296.5 181.0 297.5 180.0 297.3 179.0 296.0 178.6 295.3 180.0 296.0 181.4 296.5 181.0ZM315.2 187.0 317.1 183.0 317.0 181.4 316.0 180.6 315.0 180.9 312.2 185.0 314.0 187.1 315.2 187.0ZM350.1 187.0 350.6 186.0 349.4 183.0 349.8 181.0 349.0 180.0 348.0 180.1 346.7 181.0 347.8 187.0 349.0 187.6 350.1 187.0ZM230.0 190.7 229.0 190.1 227.5 186.0 226.8 183.0 228.0 181.7 229.2 182.0 229.1 185.0 230.8 187.0 230.0 190.7ZM304.2 184.0 304.0 182.0 301.8 182.0 303.0 184.7 304.0 184.7 304.2 184.0ZM334.9 187.0 333.0 182.0 331.1 182.0 332.7 187.0 334.9 187.0ZM310.0 183.0 309.0 182.1 308.0 183.0 309.0 183.6 310.0 183.0ZM233.0 187.1 232.1 187.0 231.9 186.0 233.0 185.6 233.0 187.1ZM341.7 187.0 342.0 185.7 340.0 185.8 341.0 187.6 341.7 187.0ZM213.0 188.0 211.9 188.0 212.0 186.5 213.0 186.4 213.0 188.0ZM295.4 195.0 295.8 194.0 294.5 192.0 295.5 190.0 295.0 188.3 292.0 187.1 289.8 188.0 289.6 189.0 291.3 191.0 293.0 195.9 295.4 195.0ZM240.0 193.4 239.0 193.3 238.3 192.0 239.0 189.4 241.0 188.5 242.2 192.0 240.0 193.4ZM285.0 190.0 285.8 189.0 283.8 189.0 285.0 190.0ZM389.1 190.0 389.0 188.8 387.6 189.0 388.0 190.1 389.1 190.0ZM349.0 191.0 349.0 189.6 347.2 190.0 348.0 191.1 349.0 191.0ZM208.0 192.7 206.6 192.0 207.0 190.7 208.0 190.3 208.9 192.0 208.0 192.7ZM234.0 193.5 232.0 193.0 230.4 191.0 234.0 190.8 234.7 192.0 234.0 193.5ZM219.0 197.2 219.0 195.0 220.1 194.0 220.9 195.0 219.0 197.2ZM218.0 204.8 215.9 204.0 215.0 202.4 209.0 203.3 207.0 202.8 206.0 199.3 203.3 199.0 203.0 197.1 205.0 197.7 207.0 195.6 208.0 195.6 209.0 200.0 211.0 201.3 212.1 200.0 211.9 197.0 213.0 195.8 217.9 203.0 218.0 204.8ZM325.6 203.0 326.0 201.9 328.4 201.0 325.7 198.0 323.0 198.3 320.5 197.0 320.6 198.0 322.5 199.0 324.0 203.7 325.0 203.9 325.6 203.0ZM333.7 203.0 334.8 202.0 333.0 201.1 332.0 201.5 332.0 202.6 333.7 203.0ZM226.0 226.4 223.0 226.4 219.7 223.0 218.0 219.8 216.2 221.0 217.0 224.1 215.0 224.9 213.7 224.0 214.5 218.0 218.0 217.9 218.7 217.0 214.4 213.0 214.9 211.0 214.1 209.0 216.0 208.0 217.4 209.0 218.0 211.1 221.8 212.0 221.3 209.0 218.2 208.0 218.4 206.0 219.0 205.5 224.0 206.8 228.0 204.2 229.0 204.6 229.2 206.0 226.8 209.0 228.0 209.9 231.0 208.8 233.0 209.9 233.0 211.4 229.0 210.2 227.0 211.9 225.0 211.1 222.2 213.0 225.3 214.0 226.0 216.3 226.2 215.0 229.0 212.8 231.0 213.5 233.0 213.1 235.0 214.5 239.0 214.3 239.9 215.0 240.0 217.0 238.0 217.4 236.0 216.6 235.0 216.9 234.6 218.0 237.0 222.8 239.4 224.0 238.0 224.9 235.9 223.0 233.0 222.3 231.6 223.0 231.0 224.6 228.0 221.7 226.8 223.0 227.5 225.0 226.0 226.4ZM411.8 231.0 412.2 230.0 411.4 227.0 414.6 223.0 416.0 222.6 420.0 223.7 418.7 219.0 415.0 218.9 413.0 218.0 412.7 217.0 414.0 214.6 416.0 214.7 421.1 213.0 421.1 211.0 418.0 207.4 415.0 209.5 409.0 211.5 407.2 214.0 405.4 215.0 405.2 218.0 406.0 218.2 408.7 223.0 406.9 225.0 408.0 227.0 408.0 230.6 411.0 231.8 411.8 231.0ZM349.1 220.0 349.7 219.0 349.2 218.0 346.0 217.5 349.1 220.0ZM401.3 219.0 401.0 217.6 400.2 218.0 400.0 219.0 401.3 219.0ZM353.2 221.0 353.0 219.6 351.8 220.0 352.0 221.3 353.2 221.0ZM441.0 230.0 439.0 228.7 436.0 229.8 434.7 229.0 434.8 228.0 438.0 224.5 440.0 224.0 443.0 225.4 446.0 222.9 446.0 224.0 441.1 229.0 441.0 230.0ZM430.0 228.3 428.5 228.0 428.7 227.0 430.0 226.4 430.8 227.0 430.0 228.3ZM225.0 231.2 221.0 228.8 223.0 228.1 225.0 228.5 226.3 230.0 225.0 231.2ZM438.0 235.5 436.1 233.0 440.0 230.1 440.1 232.0 438.0 235.5ZM231.0 234.2 229.4 234.0 229.1 233.0 233.0 231.6 234.3 232.0 234.0 233.0 231.0 234.2ZM222.0 244.5 218.7 244.0 218.0 243.0 215.0 243.0 214.4 242.0 214.7 240.0 213.0 237.7 212.9 236.0 217.0 232.1 220.5 235.0 220.3 238.0 222.4 241.0 222.0 244.5ZM412.3 240.0 414.7 238.0 415.0 236.0 412.0 235.1 411.0 233.7 409.2 234.0 408.2 235.0 409.2 239.0 410.0 240.1 412.3 240.0ZM265.0 237.6 263.6 237.0 264.0 235.5 265.0 235.6 265.0 237.6ZM255.0 238.5 254.0 237.9 254.0 236.5 255.5 237.0 255.0 238.5ZM320.4 238.0 319.0 236.4 317.7 237.0 319.0 238.3 320.4 238.0ZM426.8 241.0 427.3 240.0 426.0 238.3 423.0 237.4 421.0 237.8 419.9 239.0 421.0 241.1 424.0 240.4 426.0 241.8 426.8 241.0ZM311.0 242.0 312.2 241.0 311.0 240.0 311.0 242.0ZM254.0 247.4 252.0 247.9 251.4 247.0 251.2 243.0 252.0 242.3 253.0 244.0 255.3 245.0 254.0 247.4ZM292.0 247.2 290.0 245.0 291.0 244.3 292.7 245.0 292.0 247.2ZM227.0 247.0 226.0 247.6 225.6 247.0 226.0 246.2 227.0 247.0ZM305.0 257.3 301.0 255.3 299.0 256.5 296.0 253.6 294.1 253.0 297.0 250.5 298.0 246.3 305.3 248.0 307.5 253.0 305.0 257.3ZM368.9 251.0 369.3 250.0 367.2 247.0 365.0 246.4 364.2 247.0 365.0 248.6 367.8 251.0 368.9 251.0ZM335.3 251.0 335.0 249.9 334.0 249.7 334.1 251.0 335.0 251.5 335.3 251.0ZM229.0 255.1 226.7 254.0 229.1 253.0 230.1 254.0 229.0 255.1ZM277.0 255.2 276.0 255.8 275.0 254.6 275.2 253.0 276.0 252.6 277.0 253.2 277.0 255.2ZM364.2 255.0 365.0 252.6 361.0 253.3 361.0 255.8 364.2 255.0ZM257.0 257.6 255.5 257.0 257.0 255.6 257.0 257.6ZM274.0 260.9 271.8 259.0 273.0 257.6 275.0 257.5 276.0 256.4 276.7 257.0 276.4 258.0 274.0 260.9ZM337.3 258.0 336.1 257.0 334.2 257.0 336.0 258.3 337.3 258.0ZM244.0 260.8 241.4 259.0 245.0 257.6 245.3 259.0 244.0 260.8ZM251.0 259.3 249.1 259.0 249.3 258.0 250.7 258.0 251.0 259.3ZM281.0 259.2 279.8 258.0 281.0 257.1 282.2 258.0 281.0 259.2ZM425.2 263.0 425.6 262.0 424.4 260.0 423.0 259.6 422.8 261.0 424.0 263.4 425.2 263.0ZM381.4 263.0 380.0 262.0 378.4 263.0 381.4 263.0ZM434.0 264.0 433.0 262.8 432.4 264.0 434.0 264.0ZM411.0 266.0 409.6 266.0 409.1 265.0 410.0 263.3 411.5 265.0 411.0 266.0ZM296.0 266.4 294.4 265.0 296.0 265.0 296.0 266.4ZM247.0 274.3 245.0 270.0 246.0 267.0 247.0 266.6 248.0 269.0 247.0 274.3ZM288.0 270.1 287.0 270.2 286.0 269.0 286.0 266.7 289.6 268.0 288.0 270.1ZM361.0 270.0 360.0 269.0 361.0 268.0 362.2 269.0 361.0 270.0ZM278.0 272.3 276.3 271.0 277.0 269.6 278.7 270.0 279.5 271.0 278.0 272.3ZM251.0 278.2 247.2 277.0 247.0 275.6 251.6 277.0 251.7 278.0 251.0 278.2ZM291.0 277.5 289.6 277.0 291.0 275.6 292.0 276.0 291.0 277.5ZM285.0 286.8 284.0 285.7 283.0 286.6 281.4 284.0 283.5 282.0 283.8 279.0 282.7 278.0 283.0 276.8 287.1 280.0 288.1 283.0 287.9 284.0 286.1 285.0 285.0 286.8ZM295.0 278.5 293.5 278.0 293.7 277.0 295.0 277.4 295.0 278.5ZM294.0 286.2 292.0 285.2 290.0 286.0 289.0 285.0 294.0 284.4 294.8 285.0 294.0 286.2ZM260.0 294.3 258.0 294.0 260.0 292.7 260.6 293.0 260.0 294.3ZM265.0 295.2 264.0 295.0 264.0 292.1 265.0 292.3 266.1 294.0 265.0 295.2ZM274.0 308.0 272.0 307.0 273.0 303.7 275.4 305.0 275.4 307.0 274.0 308.0ZM268.0 317.0 267.0 316.9 265.8 315.0 267.0 314.0 269.1 315.0 269.0 316.2 268.0 317.0Z"/>
<path fill="#00EE00" fill-rule="evenodd" d="M158.0 67.1 156.1 61.0 157.0 60.0 159.0 60.6 158.7 58.0 160.0 57.2 161.3 57.0 164.0 58.7 168.0 58.8 171.3 60.0 171.0 61.8 169.0 63.8 166.0 64.9 162.0 65.1 158.0 67.1ZM156.0 60.2 155.8 58.0 157.3 58.0 156.0 60.2ZM470.0 69.0 468.6 64.0 469.6 62.0 469.5 60.0 472.0 58.5 473.0 58.8 475.2 62.0 472.5 63.0 472.7 66.0 470.9 67.0 470.0 69.0ZM168.0 112.2 167.0 112.0 166.7 108.0 168.0 107.5 169.1 108.0 170.3 107.0 165.8 104.0 165.3 102.0 166.0 101.5 168.0 102.2 169.2 101.0 168.0 98.4 166.0 97.7 165.6 96.0 171.0 95.3 171.9 96.0 172.0 98.7 175.0 98.6 177.7 91.0 176.0 89.2 174.0 88.9 172.0 91.6 170.0 90.8 166.0 92.7 165.0 95.3 162.0 95.4 161.4 96.0 162.0 98.1 165.0 97.4 165.8 98.0 164.0 100.4 162.0 99.7 160.0 101.1 154.0 99.8 152.5 98.0 152.3 96.0 158.0 94.6 158.6 94.0 157.8 91.0 159.7 89.0 159.1 86.0 158.2 85.0 158.8 83.0 156.5 81.0 157.3 79.0 155.7 78.0 155.6 77.0 158.3 76.0 160.0 72.0 164.0 73.9 166.0 73.8 166.6 72.0 163.5 71.0 164.0 69.7 165.0 69.4 167.0 70.8 169.0 74.9 174.0 72.2 174.3 71.0 172.0 69.4 168.0 69.0 166.8 68.0 167.0 67.0 174.0 63.2 177.0 64.2 180.0 62.0 183.0 61.9 187.0 64.0 192.0 64.9 194.0 66.0 194.4 68.0 193.0 72.3 191.6 72.0 191.0 69.0 189.0 68.3 186.0 69.3 184.0 67.2 181.3 71.0 182.0 73.0 183.2 74.0 182.3 76.0 182.9 80.0 189.0 85.0 188.6 87.0 187.0 88.3 182.7 85.0 180.0 80.5 174.0 81.2 172.0 83.7 170.0 84.1 169.0 84.0 165.0 80.6 163.0 82.2 161.0 82.1 159.3 83.0 161.0 85.0 163.1 86.0 160.2 89.0 164.0 92.5 168.0 88.0 164.0 85.7 163.5 85.0 164.0 83.6 168.0 84.6 169.0 87.9 172.0 87.2 173.0 84.6 174.0 84.1 177.0 84.3 181.4 87.0 181.4 91.0 179.0 93.0 180.0 94.0 182.0 93.2 182.6 95.0 182.0 97.0 180.0 98.2 176.2 99.0 175.0 101.7 171.9 102.0 171.6 103.0 172.5 104.0 173.8 110.0 172.0 111.4 168.0 112.2ZM153.0 67.3 151.6 67.0 154.0 65.9 153.0 67.3ZM403.0 265.0 402.0 263.3 402.5 262.0 404.3 261.0 404.0 260.2 401.0 261.8 398.0 260.0 393.0 259.1 390.8 260.0 390.3 261.0 386.0 261.2 383.0 262.4 377.0 261.1 376.0 260.2 373.0 261.6 368.0 257.3 363.0 260.1 359.0 258.0 351.0 262.1 348.0 258.9 343.0 260.8 341.0 257.7 334.0 254.6 327.9 258.0 329.0 259.0 328.0 261.0 322.0 259.2 320.0 260.5 316.4 259.0 315.5 257.0 316.0 256.0 318.2 255.0 318.2 250.0 322.9 249.0 329.0 245.0 329.8 250.0 332.0 250.2 335.0 253.2 336.4 251.0 334.7 246.0 334.0 245.3 330.0 245.6 328.0 243.6 325.0 245.0 324.0 246.3 322.3 246.0 319.6 243.0 320.2 240.0 322.5 238.0 322.3 236.0 317.0 233.7 316.0 236.6 314.0 237.3 313.0 238.5 310.0 238.5 308.6 243.0 307.0 244.7 306.4 243.0 306.8 241.0 306.0 240.0 302.0 240.7 301.3 240.0 296.5 232.0 296.0 229.9 295.0 230.9 295.6 233.0 294.7 236.0 297.2 238.0 297.3 239.0 296.0 240.0 293.0 238.5 291.0 238.9 288.0 237.9 284.0 238.9 283.0 237.7 279.0 236.3 278.0 236.4 277.7 239.0 277.0 239.5 274.0 238.6 270.4 236.0 270.7 232.0 271.9 230.0 269.7 226.0 271.4 224.0 271.9 222.0 270.3 219.0 273.3 217.0 272.8 215.0 270.5 212.0 271.9 211.0 271.9 208.0 273.8 206.0 273.0 204.8 269.0 206.4 268.0 205.3 266.0 206.7 265.4 208.0 265.7 212.0 263.1 215.0 262.9 217.0 256.0 218.2 254.0 215.5 251.0 219.4 247.0 220.7 246.2 220.0 241.0 211.0 244.4 209.0 244.3 206.0 246.0 205.6 248.7 202.0 251.0 201.3 255.0 198.1 254.8 196.0 256.0 193.8 252.0 191.3 249.0 192.8 247.9 192.0 250.6 190.0 251.0 186.8 253.0 186.4 253.4 185.0 251.0 185.8 248.0 185.4 246.5 184.0 248.0 182.8 249.0 183.0 252.4 177.0 251.0 176.9 248.0 180.8 246.0 181.5 245.2 181.0 245.5 179.0 244.0 177.5 240.0 178.3 238.0 176.3 236.0 176.0 232.8 171.0 233.0 169.0 232.0 167.6 228.9 170.0 230.4 172.0 230.0 174.8 228.5 175.0 227.0 177.5 225.7 174.0 221.1 171.0 220.9 170.0 221.0 169.0 222.0 168.7 225.0 169.8 226.5 168.0 227.0 166.0 226.0 164.3 225.0 163.9 224.0 165.3 222.2 165.0 222.5 163.0 225.3 161.0 227.1 161.0 229.8 166.0 232.0 166.6 233.0 165.0 233.0 161.8 238.1 159.0 237.5 155.0 238.3 153.0 235.0 153.1 234.0 150.3 233.0 150.0 236.2 146.0 236.7 144.0 236.0 143.3 234.0 145.0 232.0 145.2 231.3 148.0 233.0 150.0 232.8 151.0 228.5 156.0 228.0 158.1 225.0 154.5 222.5 153.0 226.2 151.0 226.3 150.0 225.0 148.6 222.0 148.9 220.0 147.1 214.0 146.8 213.0 143.7 210.0 145.9 208.6 144.0 209.0 140.3 210.0 141.4 211.5 141.0 211.1 139.0 213.0 136.8 215.0 137.7 218.0 136.2 221.0 136.0 220.4 135.0 221.0 134.3 226.0 134.0 226.5 133.0 224.6 131.0 225.0 129.4 226.0 129.0 229.0 131.0 231.0 128.2 234.0 127.0 234.5 125.0 232.0 121.8 229.0 123.7 226.0 123.1 225.0 124.0 225.5 125.0 227.0 125.8 229.0 125.3 230.2 127.0 229.8 128.0 229.0 128.4 227.0 126.8 223.0 129.5 220.0 130.1 218.0 132.7 216.0 131.4 214.0 131.9 210.0 136.4 208.8 140.0 208.0 140.4 198.0 139.9 197.6 137.0 200.4 136.0 201.7 132.0 201.0 130.4 198.9 130.0 198.2 129.0 199.3 127.0 198.7 125.0 199.0 124.3 201.0 125.4 202.0 125.0 202.2 123.0 204.8 121.0 204.0 119.0 198.7 121.0 197.6 121.0 197.2 120.0 198.0 119.3 200.0 120.0 200.5 119.0 200.0 114.5 202.0 115.5 206.0 114.0 205.0 113.8 203.0 110.3 201.0 111.4 200.0 110.0 202.0 107.9 204.0 107.3 204.0 105.4 200.0 106.4 197.0 109.0 194.6 108.0 195.0 107.3 197.9 107.0 196.4 104.0 197.0 102.1 198.8 105.0 200.0 104.9 201.4 101.0 201.0 99.4 200.0 99.9 199.5 99.0 201.4 98.0 201.4 94.0 198.0 92.8 196.7 90.0 197.0 89.0 202.0 89.9 203.3 89.0 201.5 81.0 202.4 78.0 201.7 77.0 202.0 75.5 204.0 76.1 204.4 75.0 204.8 72.0 204.0 69.0 208.0 69.0 212.0 70.9 220.0 71.9 221.0 72.9 225.0 73.0 226.0 74.0 229.0 74.0 230.0 75.0 242.0 75.8 243.0 76.9 246.2 77.0 246.9 79.0 249.0 81.0 251.0 78.2 252.0 78.0 264.2 79.0 263.0 79.9 262.0 79.1 261.2 81.0 264.0 82.2 265.2 85.0 262.5 89.0 264.0 90.2 266.0 89.4 266.1 85.0 267.0 83.0 269.0 83.2 269.8 82.0 268.0 81.5 267.0 82.2 265.9 81.0 266.4 79.0 273.0 80.2 283.9 80.0 284.2 83.0 287.0 87.8 288.0 87.7 290.9 85.0 290.2 82.0 290.8 81.0 295.0 81.5 295.0 86.0 294.0 88.2 292.1 90.0 297.9 93.0 297.3 94.0 298.0 99.0 302.0 99.2 303.1 100.0 301.9 103.0 301.9 106.0 303.4 107.0 304.6 111.0 303.6 113.0 304.8 115.0 302.5 117.0 305.1 119.0 304.9 120.0 303.0 121.0 304.5 126.0 303.6 127.0 304.8 132.0 304.6 135.0 306.2 138.0 308.0 139.4 308.2 138.0 306.8 136.0 308.0 134.4 313.6 134.0 314.2 139.0 313.2 143.0 315.3 144.0 317.0 146.0 322.7 143.0 323.6 144.0 323.7 146.0 323.6 147.0 321.0 149.3 320.0 149.5 319.0 147.5 315.2 149.0 318.3 154.0 317.6 160.0 321.0 162.0 320.0 163.2 318.6 163.0 320.3 167.0 320.0 168.3 318.1 170.0 318.0 171.9 315.0 170.5 313.3 171.0 313.2 174.0 314.2 177.0 310.9 177.0 310.2 180.0 306.5 182.0 307.9 185.0 306.0 186.0 305.3 185.0 305.6 182.0 304.0 175.8 302.8 177.0 302.6 180.0 300.2 181.0 299.7 183.0 302.8 186.0 302.4 188.0 301.0 188.0 299.0 186.4 297.0 187.0 297.1 188.0 298.1 189.0 299.0 191.9 303.0 188.5 304.0 189.2 307.0 189.1 309.0 187.0 311.0 186.3 313.6 188.0 313.9 189.0 313.0 193.1 319.0 192.9 322.0 191.3 323.5 192.0 324.4 193.0 323.0 195.0 315.9 196.0 316.0 197.0 318.0 196.3 322.6 203.0 322.6 205.0 319.4 208.0 319.6 210.0 318.4 212.0 319.5 213.0 319.7 215.0 322.5 216.0 322.9 218.0 324.0 218.7 325.6 217.0 321.5 213.0 323.3 211.0 322.0 207.5 325.0 208.3 329.0 206.3 331.0 208.7 332.0 207.7 332.7 205.0 334.0 204.2 337.0 205.8 337.5 204.0 335.0 200.4 333.0 199.6 331.0 200.6 329.8 199.0 328.0 198.9 327.0 197.7 326.8 195.0 326.0 194.0 328.2 191.0 327.9 188.0 325.0 187.1 323.0 189.0 318.4 186.0 320.9 184.0 318.0 182.0 317.0 179.4 315.8 179.0 318.3 178.0 317.8 175.0 318.7 174.0 321.0 172.2 326.0 172.4 330.0 170.2 333.0 171.9 333.0 173.3 340.0 173.5 341.8 172.0 342.0 170.5 338.0 170.4 337.0 168.0 337.5 167.0 341.0 165.0 342.0 167.1 346.0 167.7 346.8 170.0 345.0 171.0 343.8 173.0 345.7 176.0 346.2 179.0 344.0 177.6 341.9 179.0 341.7 180.0 344.0 183.0 340.0 183.8 338.0 185.5 336.0 185.9 335.0 185.0 334.1 182.0 334.1 179.0 333.0 178.5 330.0 180.6 328.0 179.1 326.0 179.8 325.3 182.0 327.0 183.9 329.0 182.5 330.9 184.0 329.1 187.0 331.0 188.5 335.0 188.4 335.8 189.0 336.5 190.0 334.7 193.0 335.6 194.0 337.6 194.0 342.0 190.3 346.0 190.4 349.0 193.0 350.5 191.0 350.8 189.0 352.0 188.2 352.8 189.0 351.8 192.0 355.0 193.3 355.8 192.0 355.4 190.0 352.2 188.0 352.8 187.0 351.6 185.0 352.1 183.0 351.0 179.0 351.2 176.0 347.7 171.0 350.0 170.1 352.8 171.0 352.0 169.0 355.9 166.0 354.3 163.0 356.5 161.0 355.0 158.5 352.0 158.7 350.4 157.0 354.0 153.4 354.5 150.0 355.3 149.0 359.0 149.5 362.0 147.1 364.0 147.9 366.0 146.9 368.5 144.0 373.0 142.8 374.2 141.0 373.3 138.0 373.7 137.0 380.0 135.3 384.0 137.0 384.0 135.0 381.0 131.0 382.4 128.0 380.0 127.1 380.6 124.0 382.0 125.7 386.2 126.0 388.3 125.0 388.0 123.0 391.0 119.0 393.0 119.9 396.1 126.0 396.1 132.0 394.0 135.0 394.1 137.0 392.1 141.0 395.0 142.9 396.6 143.0 397.0 143.9 398.4 143.0 405.0 141.9 410.0 138.0 410.0 137.0 411.0 136.9 414.0 133.0 417.0 134.7 420.0 133.4 422.0 134.1 425.1 133.0 421.0 132.6 418.5 130.0 418.9 128.0 420.9 126.0 420.9 124.0 421.9 123.0 419.9 119.0 421.0 117.9 423.0 117.8 425.0 115.9 431.0 115.9 436.9 111.0 436.9 108.0 437.8 106.0 435.9 105.0 438.9 101.0 440.0 98.0 445.0 92.2 449.0 91.0 450.0 90.0 452.0 89.9 454.0 87.9 459.0 86.8 462.0 85.0 462.8 85.0 462.9 86.0 462.7 89.0 465.7 90.0 466.1 88.0 463.9 81.0 465.0 80.1 467.0 80.5 468.0 82.6 469.5 83.0 469.7 82.0 467.7 80.0 471.0 76.6 474.0 80.6 477.0 79.5 480.6 84.0 484.0 84.5 484.1 86.0 481.1 89.0 478.1 95.0 478.1 101.0 480.1 103.0 480.1 105.0 479.0 106.0 481.0 106.9 484.0 109.9 485.9 108.0 486.0 106.9 488.0 108.0 489.1 111.0 487.0 111.1 477.0 119.0 475.0 119.1 473.0 121.0 471.0 121.7 468.0 121.1 466.8 118.0 467.0 116.8 464.8 117.0 464.5 119.0 463.1 120.0 464.2 123.0 467.0 124.7 467.1 126.0 466.1 127.0 467.0 127.9 468.0 127.0 470.0 127.8 470.2 126.0 473.0 125.0 475.0 123.0 476.0 124.0 472.0 129.1 470.0 130.1 464.5 130.0 463.7 133.0 465.0 133.5 467.1 137.0 467.1 142.0 466.0 144.0 463.8 144.0 462.5 147.0 458.0 144.1 457.1 145.0 460.0 149.0 458.8 155.0 461.3 158.0 459.6 160.0 464.0 162.1 464.0 166.3 463.0 168.0 463.0 171.0 462.0 172.0 463.1 174.0 466.1 176.0 466.1 177.0 470.1 182.0 470.0 183.4 468.0 186.0 469.5 188.0 470.2 191.0 467.1 193.0 467.1 196.0 466.0 196.1 459.0 203.0 457.0 202.2 455.0 202.8 453.0 201.0 451.9 201.0 450.1 205.0 450.0 207.0 449.0 207.4 445.0 207.9 444.0 207.2 442.0 207.3 440.4 205.0 442.9 203.0 442.5 202.0 439.5 202.0 438.0 203.4 436.3 203.0 436.0 201.6 435.0 203.5 430.0 204.9 427.0 208.5 425.0 207.0 425.0 205.0 424.0 203.5 422.7 203.0 424.0 202.0 423.0 201.3 422.0 202.6 420.0 201.7 418.8 203.0 421.2 204.0 421.0 206.0 418.5 205.0 416.0 201.8 416.9 207.0 416.0 208.1 410.0 210.0 408.0 209.4 406.1 211.0 406.8 212.0 406.1 213.0 397.0 215.9 395.6 219.0 396.4 221.0 396.0 223.0 397.0 224.6 399.0 225.0 400.0 224.3 399.8 222.0 402.5 220.0 403.0 217.6 404.2 220.0 406.5 222.0 406.0 223.3 404.1 224.0 407.0 227.4 406.5 231.0 406.0 231.8 401.5 231.0 404.0 232.3 406.0 232.4 408.1 240.0 410.2 242.0 409.1 244.0 409.6 246.0 411.3 248.0 410.8 251.0 412.6 254.0 412.0 256.1 415.1 254.0 412.4 251.0 413.9 249.0 413.7 246.0 412.0 244.0 414.3 242.0 414.8 240.0 418.0 241.0 423.0 244.2 426.0 243.2 428.0 244.5 428.9 244.0 428.0 242.0 429.0 240.7 432.0 240.6 434.0 242.3 436.0 240.8 436.0 253.0 437.0 254.0 437.0 255.3 431.7 255.0 432.6 259.0 429.0 264.8 428.0 264.7 427.6 262.0 429.1 260.0 427.0 255.8 422.3 259.0 421.0 261.3 419.0 261.2 414.5 260.0 412.0 257.5 407.0 256.9 405.9 255.0 405.6 252.0 404.0 251.2 403.2 252.0 403.6 254.0 403.0 255.6 399.0 255.0 400.5 257.0 402.0 257.6 404.0 256.5 406.0 256.2 406.9 257.0 406.4 262.0 403.0 265.0ZM486.0 83.0 485.7 81.0 486.6 79.0 485.4 77.0 485.7 73.0 485.0 71.0 489.0 69.5 491.0 71.9 493.0 71.8 493.1 74.0 492.2 76.0 486.0 82.0 486.0 83.0ZM188.0 73.3 185.0 73.0 185.0 72.0 187.0 70.9 188.2 72.0 188.0 73.3ZM470.0 75.4 469.0 75.4 468.3 72.0 470.0 71.1 471.6 73.0 470.0 75.4ZM172.0 81.0 173.8 78.0 172.0 76.0 170.0 75.8 169.1 77.0 171.0 80.9 172.0 81.0ZM226.7 79.0 228.9 77.0 228.0 76.2 225.3 77.0 225.3 79.0 226.0 79.6 226.7 79.0ZM176.9 79.0 176.8 78.0 176.0 77.9 175.1 79.0 176.0 79.6 176.9 79.0ZM233.2 82.0 235.1 81.0 235.3 80.0 234.0 78.8 229.2 81.0 232.0 82.7 233.2 82.0ZM193.0 91.3 191.0 90.2 189.8 88.0 193.1 86.0 193.5 85.0 192.0 83.2 190.0 83.4 189.9 81.0 191.0 80.4 192.0 82.6 194.0 81.6 196.6 82.0 197.8 85.0 197.0 89.0 193.0 91.3ZM245.0 85.0 244.6 83.0 245.5 81.0 244.0 80.2 242.1 84.0 243.0 85.2 245.0 85.0ZM281.2 83.0 281.6 82.0 281.0 81.7 279.6 83.0 280.0 83.8 281.2 83.0ZM224.4 84.0 224.0 82.2 221.5 83.0 220.8 84.0 223.0 84.8 224.4 84.0ZM302.0 89.4 299.2 86.0 298.0 82.6 302.0 84.1 303.7 86.0 302.8 89.0 302.0 89.4ZM273.7 96.0 274.0 92.0 275.0 91.1 276.9 91.0 277.3 90.0 276.0 89.4 274.0 92.0 273.1 88.0 273.3 84.0 272.0 83.6 269.6 87.0 269.8 90.0 267.3 93.0 270.0 96.5 273.7 96.0ZM235.6 93.0 236.1 92.0 235.3 89.0 233.0 88.6 232.0 86.4 231.0 86.2 230.2 87.0 232.5 89.0 233.4 91.0 232.8 93.0 235.6 93.0ZM328.0 90.1 326.0 90.6 323.0 87.0 326.8 87.0 328.3 89.0 328.0 90.1ZM217.6 93.0 219.0 90.3 221.0 92.5 223.0 91.8 224.4 90.0 224.2 88.0 221.0 87.2 219.0 90.0 215.9 90.0 215.1 91.0 215.1 93.0 216.0 93.5 217.6 93.0ZM288.7 93.0 290.5 90.0 288.0 88.7 285.5 92.0 287.0 93.8 288.7 93.0ZM299.0 92.9 298.0 93.0 297.3 91.0 299.0 89.1 299.9 90.0 299.0 92.9ZM315.0 90.7 314.0 90.8 313.7 90.0 315.0 89.0 315.0 90.7ZM187.0 116.3 184.5 115.0 186.0 110.0 186.9 109.0 185.0 107.4 184.8 106.0 185.3 105.0 187.0 104.9 187.9 104.0 187.6 102.0 185.6 99.0 186.1 97.0 184.2 95.0 184.6 94.0 187.0 92.9 188.0 90.6 192.0 92.8 194.0 92.3 197.7 93.0 198.5 96.0 194.5 97.0 196.7 102.0 193.3 103.0 192.0 107.2 189.3 111.0 189.2 114.0 187.0 116.3ZM467.4 95.0 467.0 91.9 465.6 95.0 466.0 95.6 467.4 95.0ZM326.0 97.1 324.0 94.9 326.0 95.2 328.0 93.9 329.2 94.0 328.0 96.2 326.0 97.1ZM279.1 103.0 278.3 102.0 279.0 99.0 278.5 97.0 280.7 95.0 279.0 94.5 274.7 97.0 274.0 101.0 274.6 102.0 279.1 103.0ZM374.0 98.3 373.0 98.5 372.2 97.0 373.0 97.0 374.0 98.3ZM184.0 101.7 180.9 101.0 182.0 97.3 183.8 99.0 184.0 101.7ZM190.1 100.0 190.0 98.4 187.9 98.0 188.2 100.0 189.0 100.5 190.1 100.0ZM207.5 100.0 207.0 98.0 206.2 99.0 207.0 100.8 207.5 100.0ZM323.0 104.2 322.0 104.6 321.8 103.0 322.7 98.0 324.0 97.6 324.7 98.0 324.2 100.0 324.9 102.0 323.0 104.2ZM220.6 101.0 222.5 100.0 221.0 98.8 218.7 100.0 219.0 101.2 220.6 101.0ZM242.3 102.0 244.7 100.0 244.0 98.5 240.5 100.0 240.0 102.7 242.3 102.0ZM253.1 109.0 254.0 105.3 257.0 105.3 258.2 104.0 257.6 100.0 256.1 99.0 253.8 99.0 255.8 102.0 254.0 104.9 251.8 106.0 251.6 108.0 253.1 109.0ZM371.0 100.6 369.0 100.1 369.0 98.9 371.5 99.0 371.0 100.6ZM150.0 102.4 148.4 102.0 149.0 100.6 150.5 101.0 150.0 102.4ZM449.2 103.0 450.1 102.0 450.0 100.8 448.4 101.0 449.2 103.0ZM177.0 103.6 176.0 103.0 176.3 102.0 177.3 102.0 177.9 103.0 177.0 103.6ZM146.0 103.8 144.9 103.0 146.0 102.2 146.0 103.8ZM213.6 104.0 212.0 102.9 211.5 104.0 213.6 104.0ZM240.6 106.0 240.0 103.1 238.3 105.0 239.0 106.2 240.6 106.0ZM228.3 106.0 228.5 105.0 227.0 104.1 224.8 105.0 227.0 106.2 228.3 106.0ZM180.0 108.4 178.0 108.0 177.3 106.0 180.0 106.1 180.0 108.4ZM262.7 109.0 263.4 108.0 262.0 105.1 261.3 109.0 262.7 109.0ZM309.0 113.2 307.7 113.0 308.5 110.0 307.8 107.0 309.0 105.7 311.3 111.0 309.0 113.2ZM147.0 108.1 146.4 107.0 147.0 106.5 148.1 107.0 147.0 108.1ZM284.3 114.0 285.6 113.0 285.6 112.0 283.3 110.0 283.7 109.0 283.0 108.1 281.1 108.0 280.4 109.0 283.0 111.0 282.7 114.0 284.3 114.0ZM291.0 113.0 293.1 112.0 293.3 111.0 292.0 108.8 290.0 108.4 288.7 112.0 289.0 113.0 291.0 113.0ZM214.5 116.0 214.0 110.3 213.0 109.8 211.7 115.0 213.0 117.0 214.5 116.0ZM255.2 118.0 259.8 114.0 259.9 111.0 258.0 110.5 256.0 112.7 254.0 112.7 253.0 115.0 251.8 116.0 253.0 118.2 255.2 118.0ZM279.1 112.0 278.0 110.0 277.8 112.0 279.1 112.0ZM240.5 119.0 240.6 117.0 242.9 114.0 242.0 111.5 237.9 114.0 237.5 115.0 239.7 119.0 240.5 119.0ZM195.0 114.1 192.0 114.8 190.8 114.0 193.0 113.8 194.0 112.9 195.0 114.1ZM225.3 119.0 227.0 117.4 230.0 117.4 232.0 115.2 234.0 115.0 235.0 113.0 234.0 112.3 232.0 113.2 229.0 112.9 225.0 113.9 223.8 115.0 223.3 117.0 225.3 119.0ZM307.0 116.0 305.3 115.0 307.0 113.9 307.0 116.0ZM313.0 115.7 311.4 114.0 312.0 113.0 313.6 114.0 314.0 115.0 313.0 115.7ZM344.0 119.1 339.9 118.0 340.9 116.0 341.0 113.7 342.5 114.0 345.4 117.0 344.0 119.1ZM221.2 117.0 219.0 115.1 217.8 116.0 218.0 117.0 219.0 117.4 221.2 117.0ZM323.0 126.8 321.0 126.1 320.0 124.2 318.0 124.0 317.3 123.0 320.0 120.1 321.0 122.4 323.1 122.0 323.8 120.0 323.0 116.0 324.0 115.8 327.0 117.9 329.0 117.0 329.3 119.0 331.0 121.5 333.8 123.0 333.6 124.0 332.0 124.8 331.0 122.3 327.0 122.2 324.3 124.0 323.0 126.8ZM281.3 118.0 281.0 116.6 279.3 117.0 280.0 118.4 281.3 118.0ZM319.0 119.8 316.9 119.0 316.4 117.0 317.0 116.5 319.0 117.1 319.7 119.0 319.0 119.8ZM166.0 120.0 164.0 120.7 163.5 120.0 167.0 117.7 167.5 119.0 166.0 120.0ZM184.0 119.8 182.9 119.0 183.0 117.5 184.7 118.0 184.9 119.0 184.0 119.8ZM265.3 121.0 266.5 119.0 266.0 118.6 264.3 121.0 265.0 121.8 265.3 121.0ZM295.9 123.0 298.4 121.0 296.0 118.4 294.8 119.0 295.4 122.0 292.7 123.0 295.0 123.9 295.9 123.0ZM457.2 121.0 459.4 120.0 457.7 120.0 457.2 121.0ZM173.0 123.2 172.0 123.8 171.1 123.0 171.0 120.4 173.0 123.2ZM258.1 124.0 256.4 121.0 255.0 121.1 255.0 123.1 257.0 124.4 258.1 124.0ZM193.0 132.4 189.4 130.0 189.3 129.0 190.0 127.5 192.9 127.0 192.9 126.0 190.9 125.0 191.0 123.4 195.0 121.6 196.2 123.0 196.3 128.0 195.0 130.9 193.0 132.4ZM425.9 123.0 425.0 121.8 422.6 122.0 424.0 123.9 425.9 123.0ZM276.1 134.0 279.6 133.0 278.5 131.0 278.8 130.0 275.0 128.0 273.0 129.4 269.5 127.0 271.0 125.9 276.0 126.0 277.4 125.0 274.0 124.0 267.0 125.0 266.5 126.0 268.9 128.0 270.0 132.6 272.0 132.3 273.3 133.0 274.0 134.5 276.1 134.0ZM223.8 126.0 224.0 124.8 221.8 126.0 223.8 126.0ZM257.2 128.0 257.0 125.5 253.1 127.0 254.0 128.3 257.2 128.0ZM281.5 129.0 280.0 125.6 279.3 129.0 280.0 129.5 281.5 129.0ZM285.2 128.0 286.5 127.0 286.0 126.0 284.0 125.9 282.7 127.0 283.2 128.0 285.2 128.0ZM309.0 127.5 308.0 127.4 307.2 126.0 309.0 125.8 309.0 127.5ZM330.0 129.1 328.7 129.0 328.0 128.1 328.0 125.5 330.0 125.3 330.9 126.0 330.9 128.0 330.0 129.1ZM182.0 129.5 181.4 129.0 182.0 127.0 182.7 129.0 182.0 129.5ZM343.0 129.6 341.3 128.0 342.0 126.6 343.7 128.0 343.0 129.6ZM292.6 130.0 293.0 128.0 290.0 127.1 290.0 130.8 292.6 130.0ZM349.0 151.6 347.2 151.0 346.5 149.0 348.5 144.0 348.0 141.0 346.0 140.6 344.6 141.0 344.9 143.0 346.3 145.0 345.0 147.5 343.0 145.1 342.0 145.0 341.0 146.0 340.5 148.0 342.2 150.0 341.0 151.8 340.0 151.9 338.5 150.0 337.0 149.5 336.0 147.5 334.6 148.0 335.0 151.5 334.0 151.8 332.3 150.0 331.8 149.0 333.0 146.0 335.0 142.9 336.0 142.0 338.0 143.2 338.8 142.0 334.6 137.0 336.9 134.0 336.3 132.0 335.0 131.0 336.0 129.0 337.0 128.8 339.0 133.9 342.0 132.2 345.0 134.6 348.0 133.6 350.0 133.9 351.0 132.7 352.0 132.6 354.0 135.6 355.0 136.2 357.0 135.3 358.1 137.0 359.0 140.9 358.0 140.8 357.2 142.0 358.4 145.0 355.0 145.7 354.0 148.0 350.2 150.0 349.0 151.6ZM236.1 134.0 236.0 131.9 234.0 133.0 232.0 132.0 231.6 133.0 234.0 134.9 236.1 134.0ZM242.0 133.0 242.6 132.0 241.0 131.3 238.5 133.0 241.0 133.7 242.0 133.0ZM249.3 140.0 250.9 139.0 252.0 135.4 254.0 137.1 258.9 137.0 260.0 133.0 258.0 131.9 256.0 133.5 253.0 133.4 251.0 132.4 250.0 132.9 249.9 135.0 247.9 137.0 247.2 139.0 249.3 140.0ZM240.3 139.0 240.4 138.0 242.0 136.9 245.0 137.0 244.5 133.0 243.0 135.0 241.0 134.9 239.9 136.0 238.9 138.0 240.0 139.6 240.3 139.0ZM333.0 134.3 331.4 134.0 333.0 132.5 334.0 132.6 333.0 134.3ZM184.0 140.3 183.0 139.9 181.5 135.0 184.0 133.1 186.0 133.7 189.0 133.3 189.3 134.0 187.0 137.8 184.0 140.3ZM196.0 135.8 194.0 135.9 193.0 135.0 193.1 134.0 194.0 133.2 196.0 133.4 196.0 135.8ZM290.7 138.0 290.0 133.9 287.3 137.0 288.0 138.5 290.7 138.0ZM435.0 135.0 433.5 134.0 434.0 135.4 435.0 135.0ZM283.2 138.0 284.1 137.0 284.0 134.9 282.0 135.0 280.0 134.1 278.2 136.0 278.2 137.0 280.0 138.1 282.0 138.7 283.2 138.0ZM304.3 143.0 306.4 141.0 301.0 138.3 299.0 135.6 298.7 137.0 299.8 139.0 299.0 141.1 303.0 143.1 304.3 143.0ZM340.1 138.0 340.0 136.9 339.0 136.3 338.4 137.0 340.1 138.0ZM219.6 141.0 219.0 139.4 216.4 140.0 217.0 141.3 219.6 141.0ZM275.8 141.0 274.0 140.0 273.8 141.0 275.0 142.0 275.8 141.0ZM418.6 142.0 419.2 141.0 418.0 140.6 417.9 142.0 418.6 142.0ZM293.2 146.0 291.0 141.2 290.0 141.6 289.5 143.0 290.0 143.8 292.0 146.3 293.2 146.0ZM232.3 144.0 232.0 142.2 230.9 144.0 232.0 145.0 232.3 144.0ZM440.0 145.0 440.9 144.0 440.0 142.0 438.3 144.0 439.0 145.8 440.0 145.0ZM286.1 144.0 285.0 143.4 284.5 144.0 285.0 144.6 286.1 144.0ZM426.7 150.0 426.3 147.0 427.7 145.0 426.0 144.0 424.6 146.0 423.8 150.0 425.0 150.8 426.7 150.0ZM205.0 149.6 204.0 146.5 206.0 144.5 206.8 147.0 205.0 149.6ZM223.3 146.0 223.0 144.5 222.0 144.5 220.1 145.0 219.7 146.0 220.0 146.9 223.3 146.0ZM337.5 146.0 337.0 144.3 336.0 145.0 336.0 146.5 337.5 146.0ZM201.0 147.5 200.0 147.8 198.7 147.0 201.0 145.1 201.0 147.5ZM296.4 196.0 297.5 195.0 295.7 192.0 297.0 187.0 296.3 184.0 298.6 179.0 296.9 177.0 299.0 172.5 301.0 171.9 303.0 170.0 305.0 170.6 307.0 168.0 312.0 168.4 312.8 168.0 313.0 165.7 315.0 167.0 315.9 166.0 316.0 164.0 315.0 163.0 313.5 163.0 312.0 164.5 310.1 163.0 312.0 159.0 311.0 159.8 307.0 159.0 304.0 163.4 303.0 163.1 302.7 161.0 304.2 158.0 303.0 156.1 301.0 155.2 300.0 153.3 298.0 154.3 296.2 154.0 295.6 152.0 294.0 151.0 292.9 152.0 294.1 156.0 294.0 157.0 293.0 157.3 290.2 155.0 290.0 152.9 286.0 152.7 282.0 153.7 281.0 153.0 282.8 150.0 277.0 145.9 274.7 147.0 276.3 150.0 276.0 150.8 274.0 151.3 271.0 149.9 270.0 150.3 269.2 151.0 270.0 152.0 269.7 153.0 267.0 157.3 264.0 157.7 262.0 155.2 259.9 158.0 260.0 161.7 259.0 161.9 256.5 160.0 256.8 157.0 256.0 155.1 251.8 161.0 253.4 163.0 252.9 165.0 253.5 166.0 256.5 167.0 255.6 169.0 257.0 170.2 257.8 169.0 257.3 167.0 259.0 166.5 264.4 167.0 265.0 162.0 266.0 162.0 266.9 164.0 269.0 165.1 268.7 159.0 271.0 155.8 272.8 156.0 274.0 157.7 282.0 160.0 283.0 161.0 282.8 162.0 279.0 167.4 276.3 163.0 273.0 162.1 272.6 164.0 275.1 165.0 274.0 166.5 270.6 167.0 270.2 168.0 271.5 172.0 275.0 175.6 277.0 174.1 278.6 176.0 280.0 176.2 281.9 174.0 279.6 172.0 280.0 170.3 281.1 170.0 282.0 172.9 283.0 173.3 285.0 172.1 287.4 172.0 289.0 169.2 290.9 175.0 293.0 175.2 295.0 174.2 296.5 176.0 296.0 176.9 294.0 177.7 293.1 180.0 290.3 181.0 289.6 182.0 292.0 184.0 290.8 186.0 289.0 187.4 286.0 188.1 283.0 187.3 280.5 191.0 282.0 195.2 283.2 191.0 286.0 191.5 289.0 189.7 290.2 191.0 289.1 193.0 291.0 193.5 292.0 196.3 295.0 196.8 296.4 196.0ZM194.0 150.1 193.0 151.0 193.0 146.9 196.5 148.0 196.5 149.0 194.0 150.1ZM442.5 148.0 442.0 146.2 440.0 147.0 439.7 148.0 441.0 149.0 442.5 148.0ZM217.0 153.6 215.0 153.4 213.3 150.0 216.0 149.4 217.0 150.2 218.1 152.0 217.0 153.6ZM463.0 170.0 461.9 164.0 455.9 157.0 453.8 153.0 453.9 150.0 453.0 149.0 451.1 151.0 453.2 155.0 453.2 158.0 457.2 163.0 459.0 169.0 461.0 171.0 463.0 170.0ZM266.8 155.0 268.8 151.0 268.0 150.6 266.0 151.0 264.2 153.0 264.7 155.0 266.0 155.6 266.8 155.0ZM420.5 152.0 420.0 150.8 419.3 151.0 419.5 152.0 420.5 152.0ZM204.0 158.2 201.8 158.0 201.7 154.0 200.7 152.0 202.0 151.3 205.5 157.0 204.0 158.2ZM210.0 154.4 208.0 154.9 207.0 154.3 206.4 153.0 207.0 151.5 209.0 151.4 210.6 154.0 210.0 154.4ZM242.2 155.0 243.0 153.9 240.7 154.0 241.0 155.6 242.2 155.0ZM329.0 159.0 327.7 158.0 327.7 155.0 330.0 153.1 331.0 153.1 331.6 157.0 329.0 159.0ZM326.0 158.2 324.6 158.0 325.0 154.2 327.8 156.0 326.0 158.2ZM216.0 160.3 215.0 160.8 214.3 160.0 213.4 156.0 214.0 155.5 216.0 156.0 217.8 158.0 216.0 160.3ZM345.0 164.6 344.0 164.8 342.9 164.0 343.8 161.0 340.0 160.0 339.0 160.6 338.8 158.0 343.0 159.4 344.0 156.8 345.1 160.0 345.0 164.6ZM215.0 165.1 210.0 164.6 204.9 162.0 207.9 160.0 207.3 158.0 209.0 157.0 210.8 159.0 210.5 160.0 208.3 161.0 209.0 161.5 211.0 160.7 213.5 162.0 214.0 163.1 216.0 163.5 219.0 160.8 219.0 163.6 215.0 165.1ZM443.9 160.0 443.0 158.9 442.4 160.0 443.0 161.0 443.9 160.0ZM334.0 161.6 333.0 161.8 332.7 160.0 334.0 160.2 334.0 161.6ZM440.0 162.0 440.5 161.0 438.7 161.0 440.0 162.0ZM397.9 171.0 398.2 170.0 401.0 169.4 409.0 164.0 408.0 163.1 406.0 163.6 403.0 162.4 402.0 162.9 402.0 165.0 399.0 166.4 398.0 169.1 396.0 170.2 396.0 171.2 397.9 171.0ZM426.2 171.0 429.0 166.0 429.2 164.0 425.0 163.7 423.0 162.6 422.1 165.0 422.5 168.0 421.7 169.0 425.0 171.8 426.0 171.8 426.2 171.0ZM195.0 165.6 193.8 164.0 195.0 163.2 196.0 165.0 195.0 165.6ZM380.3 181.0 380.2 178.0 382.3 174.0 382.1 173.0 377.8 173.0 373.0 165.5 370.0 163.9 366.0 163.9 365.3 165.0 368.0 166.2 370.0 166.1 370.4 167.0 369.1 171.0 369.7 172.0 368.4 174.0 369.0 175.5 370.3 175.0 371.0 173.6 373.0 176.6 375.0 177.3 376.0 180.5 380.3 181.0ZM411.2 169.0 412.5 165.0 411.0 163.7 410.4 164.0 410.0 166.8 407.0 168.0 406.8 169.0 408.0 169.7 411.2 169.0ZM285.0 171.8 283.2 170.0 284.4 168.0 284.0 165.5 285.0 164.5 287.0 165.6 287.5 167.0 286.0 168.8 285.0 171.8ZM445.1 167.0 445.0 164.9 443.0 165.0 443.0 167.6 445.1 167.0ZM251.4 171.0 251.7 169.0 250.0 168.7 250.0 171.0 251.0 171.9 251.4 171.0ZM455.4 173.0 456.7 172.0 453.9 171.0 454.0 172.5 455.4 173.0ZM307.0 174.0 307.2 172.0 306.0 171.4 305.0 173.1 306.0 174.3 307.0 174.0ZM244.3 176.0 245.3 174.0 243.0 173.4 242.7 175.0 244.3 176.0ZM446.6 176.0 447.3 175.0 447.0 173.6 444.0 173.6 444.4 176.0 446.6 176.0ZM356.0 176.0 356.0 174.9 354.4 175.0 356.0 176.0ZM456.1 179.0 459.5 177.0 459.0 175.2 455.7 175.0 455.1 178.0 456.1 179.0ZM285.1 179.0 285.8 177.0 284.0 176.4 283.8 178.0 285.1 179.0ZM257.2 179.0 257.0 177.0 256.0 177.2 255.3 178.0 256.0 179.0 257.2 179.0ZM313.0 181.2 312.2 180.0 313.0 179.6 313.7 180.0 313.0 181.2ZM405.8 184.0 405.4 180.0 404.0 179.4 403.1 180.0 402.9 183.0 405.8 184.0ZM447.8 183.0 445.0 180.9 443.0 180.8 441.0 179.5 440.4 180.0 442.7 182.0 443.0 183.5 446.0 183.9 447.8 183.0ZM263.1 185.0 265.0 182.8 261.2 184.0 262.0 185.8 263.1 185.0ZM277.3 191.0 278.3 188.0 281.6 185.0 281.0 183.6 279.0 182.3 277.9 183.0 277.5 186.0 275.4 188.0 275.8 190.0 277.3 191.0ZM346.0 185.8 345.0 186.0 344.0 183.0 346.0 183.2 346.5 185.0 346.0 185.8ZM440.0 190.0 443.7 188.0 444.0 187.0 441.0 183.6 438.3 185.0 438.4 188.0 437.0 188.0 436.0 186.3 435.0 186.4 432.6 189.0 433.0 191.0 439.0 190.7 440.0 190.0ZM360.9 192.0 362.9 190.0 361.0 185.9 358.8 188.0 359.6 190.0 359.2 192.0 360.0 192.8 360.9 192.0ZM376.7 195.0 375.3 193.0 377.6 191.0 377.2 190.0 374.7 189.0 374.5 186.0 373.0 185.7 371.5 189.0 368.8 190.0 369.0 191.3 373.0 192.1 375.0 193.3 376.0 195.3 376.7 195.0ZM408.3 189.0 407.0 186.3 404.7 188.0 407.0 189.6 408.3 189.0ZM464.7 189.0 465.7 188.0 465.0 186.4 464.0 186.7 463.5 188.0 463.9 189.0 464.7 189.0ZM318.0 190.2 317.0 190.9 315.2 189.0 317.0 187.1 318.0 190.2ZM389.2 191.0 390.8 190.0 390.0 188.2 388.0 187.6 386.5 188.0 387.0 191.2 389.2 191.0ZM420.1 195.0 423.9 191.0 424.0 188.5 423.0 188.2 422.2 191.0 419.0 192.4 418.4 195.0 419.0 195.5 420.1 195.0ZM393.3 191.0 393.9 190.0 393.0 189.3 392.3 190.0 393.3 191.0ZM264.1 193.0 263.6 191.0 263.0 190.3 262.0 190.7 262.0 192.4 264.1 193.0ZM270.5 193.0 271.0 192.0 270.0 190.8 269.4 192.0 270.5 193.0ZM404.4 192.0 404.0 190.4 403.0 191.0 403.0 192.1 404.4 192.0ZM433.3 193.0 433.0 191.0 431.2 192.0 431.7 193.0 433.3 193.0ZM287.2 194.0 288.9 193.0 287.0 192.3 286.5 193.0 287.0 194.6 287.2 194.0ZM366.1 196.0 367.9 194.0 368.0 192.8 363.9 195.0 364.3 196.0 366.1 196.0ZM455.4 195.0 455.0 192.6 454.0 192.0 453.9 194.0 455.4 195.0ZM386.3 199.0 387.9 197.0 391.0 196.7 391.6 196.0 391.0 194.4 387.0 193.4 385.8 196.0 383.0 196.1 381.0 197.0 382.0 199.8 386.3 199.0ZM301.2 199.0 302.1 197.0 301.0 196.0 299.4 197.0 299.4 198.0 300.0 199.2 301.2 199.0ZM346.7 196.0 346.0 195.3 344.3 196.0 346.7 196.0ZM377.6 199.0 378.2 198.0 377.0 197.0 373.6 197.0 374.0 199.2 377.6 199.0ZM350.2 200.0 350.0 199.0 349.0 199.5 349.0 200.7 350.2 200.0ZM434.9 201.0 433.0 198.2 432.2 199.0 432.6 201.0 434.9 201.0ZM296.8 202.0 297.0 201.0 296.0 199.4 293.0 199.8 295.0 202.1 296.8 202.0ZM313.5 206.0 310.8 204.0 310.7 201.0 310.0 200.3 309.0 199.8 307.0 201.0 307.3 203.0 310.6 205.0 310.9 206.0 313.5 206.0ZM450.5 201.0 449.0 200.0 446.9 200.0 449.0 201.9 450.5 201.0ZM383.4 204.0 384.3 203.0 382.0 200.5 379.7 202.0 382.0 204.0 383.4 204.0ZM279.2 206.0 283.0 203.3 283.0 202.0 277.0 204.2 277.0 205.9 279.2 206.0ZM448.0 205.0 447.0 203.9 444.8 204.0 445.0 205.1 446.0 205.5 448.0 205.0ZM289.0 207.0 289.3 206.0 288.0 204.2 287.3 205.0 289.0 207.0ZM305.2 206.0 305.0 204.8 304.0 204.8 304.0 206.3 305.2 206.0ZM376.7 209.0 377.1 208.0 376.2 206.0 373.0 204.8 372.0 207.0 373.1 209.0 375.0 209.7 376.7 209.0ZM354.1 211.0 353.9 208.0 350.0 206.0 350.7 209.0 354.1 211.0ZM297.3 209.0 300.0 206.9 296.6 208.0 296.7 209.0 297.3 209.0ZM294.5 211.0 295.8 209.0 295.6 208.0 294.0 207.7 291.9 211.0 293.0 212.0 294.5 211.0ZM332.7 215.0 334.9 214.0 334.4 212.0 335.3 210.0 335.0 209.0 333.0 209.6 333.7 212.0 331.4 214.0 331.2 215.0 332.7 215.0ZM306.5 217.0 305.6 215.0 307.0 211.6 308.0 210.6 310.0 212.5 310.6 212.0 310.9 211.0 309.0 209.2 307.0 210.5 303.8 211.0 303.7 213.0 302.1 215.0 304.0 217.2 305.0 217.7 306.5 217.0ZM359.5 214.0 360.6 213.0 360.0 211.4 359.0 211.4 356.5 214.0 358.0 215.0 359.5 214.0ZM221.0 215.6 220.0 215.9 216.0 213.0 217.0 212.1 220.0 213.0 221.3 214.0 221.0 215.6ZM254.1 214.0 255.4 213.0 253.0 212.7 254.1 214.0ZM317.5 223.0 317.8 221.0 319.5 219.0 318.0 215.7 317.0 214.8 315.0 216.5 314.0 216.2 312.0 213.0 308.1 214.0 308.6 217.0 307.5 219.0 308.0 220.6 310.0 220.0 310.7 217.0 312.0 216.8 312.5 222.0 315.0 223.4 317.5 223.0ZM353.9 222.0 355.4 219.0 350.0 216.9 349.0 216.0 348.9 214.0 347.0 213.8 344.9 217.0 345.0 218.5 352.0 222.6 353.9 222.0ZM384.1 217.0 384.2 216.0 386.0 215.0 386.1 214.0 385.0 213.1 382.8 217.0 384.0 217.8 384.1 217.0ZM420.0 237.5 417.0 237.0 416.0 234.4 415.0 233.8 413.0 234.8 411.6 233.0 413.0 230.6 415.6 230.0 412.7 228.0 415.0 223.9 421.1 225.0 420.2 220.0 421.0 219.2 422.0 220.0 423.7 219.0 421.3 215.0 423.0 213.9 427.4 217.0 427.0 218.9 425.2 220.0 424.3 223.0 422.7 225.0 424.0 227.8 426.0 227.9 426.8 230.0 426.2 231.0 420.0 233.1 419.4 234.0 421.5 236.0 420.0 237.5ZM233.0 221.1 229.0 220.8 227.8 220.0 227.6 216.0 229.0 214.3 231.0 215.8 233.1 215.0 233.5 216.0 233.0 217.0 231.4 217.0 231.1 218.0 233.6 220.0 233.0 221.1ZM294.2 220.0 295.8 217.0 294.0 217.1 293.3 218.0 293.4 220.0 294.2 220.0ZM392.2 221.0 392.2 219.0 390.0 218.4 388.0 216.5 387.2 219.0 385.1 220.0 386.0 221.1 389.0 220.4 392.2 221.0ZM278.6 224.0 279.4 222.0 279.0 220.0 280.4 219.0 280.0 217.8 278.0 218.4 276.8 222.0 277.0 224.0 278.6 224.0ZM225.0 225.7 223.0 225.1 221.0 223.0 219.7 220.0 220.0 218.4 223.0 218.6 224.6 220.0 225.9 224.0 226.0 225.0 225.0 225.7ZM242.0 221.1 242.0 219.2 243.1 220.0 243.0 221.0 242.0 221.1ZM247.0 224.2 245.0 223.3 244.0 222.0 246.0 220.4 247.0 224.2ZM327.1 227.0 327.3 225.0 324.0 224.3 321.0 222.0 318.5 224.0 320.0 226.0 320.6 225.0 323.0 224.2 324.2 227.0 327.1 227.0ZM309.1 227.0 309.4 225.0 308.0 223.6 307.1 224.0 307.3 226.0 309.1 227.0ZM313.5 227.0 313.9 226.0 312.0 224.4 311.9 227.0 313.5 227.0ZM284.1 229.0 285.0 228.2 284.6 227.0 283.0 226.2 282.0 226.7 282.0 228.0 284.1 229.0ZM395.2 233.0 397.0 228.0 397.0 226.7 396.0 226.2 393.2 227.0 393.1 228.0 391.0 230.0 395.2 233.0ZM442.0 228.0 441.0 228.4 440.0 227.0 441.0 226.9 442.0 228.0ZM238.0 229.1 236.0 229.2 235.2 228.0 237.0 227.2 238.3 228.0 238.0 229.1ZM258.0 230.1 257.0 230.0 256.5 229.0 257.1 228.0 260.0 227.3 261.5 228.0 261.0 229.3 258.0 230.1ZM312.2 234.0 314.0 232.1 315.3 232.0 313.0 231.9 311.0 230.0 309.3 233.0 310.0 234.0 312.2 234.0ZM364.5 233.0 364.0 230.2 363.0 229.3 362.3 232.0 363.0 233.1 364.5 233.0ZM277.9 231.0 277.0 230.5 275.8 231.0 277.0 231.5 277.9 231.0ZM336.4 232.0 337.4 231.0 337.0 230.5 334.8 231.0 336.4 232.0ZM346.3 233.0 346.0 230.9 345.3 233.0 346.0 233.6 346.3 233.0ZM259.0 234.5 254.8 233.0 254.5 232.0 256.0 231.1 258.0 232.7 259.0 232.5 259.7 233.0 259.0 234.5ZM333.1 233.0 333.0 231.8 331.7 233.0 333.1 233.0ZM438.0 234.1 437.2 233.0 439.0 232.5 439.0 233.5 438.0 234.1ZM218.0 241.1 216.3 241.0 215.4 236.0 218.3 236.0 219.8 240.0 218.0 241.1ZM329.2 238.0 329.0 236.8 328.0 236.8 327.1 238.0 328.0 238.7 329.2 238.0ZM270.0 240.3 269.3 240.0 270.0 238.5 271.0 240.0 270.0 240.3ZM315.0 243.1 312.8 243.0 314.0 240.8 317.0 239.3 318.2 240.0 317.2 242.0 315.0 243.1ZM368.5 243.0 368.8 241.0 367.0 239.8 365.6 240.0 364.2 242.0 366.0 243.9 368.5 243.0ZM399.2 241.0 399.0 239.5 396.7 240.0 399.2 241.0ZM361.4 257.0 365.0 256.3 367.0 252.4 371.0 253.0 371.0 249.5 366.0 244.2 363.0 245.7 361.4 244.0 360.3 245.0 361.0 245.9 362.6 246.0 362.5 247.0 360.0 248.0 360.1 250.0 358.6 252.0 359.6 254.0 359.4 257.0 360.0 257.9 361.4 257.0ZM388.3 250.0 386.9 247.0 387.6 245.0 386.0 244.1 384.0 244.2 383.5 246.0 385.4 248.0 386.0 250.0 387.0 250.5 388.3 250.0ZM318.0 246.1 317.0 246.9 315.6 246.0 315.8 245.0 317.0 244.5 318.5 245.0 318.0 246.1ZM406.0 248.0 407.3 245.0 406.0 244.2 402.9 246.0 405.0 248.1 406.0 248.0ZM281.0 247.5 280.0 248.0 279.0 246.0 280.7 246.0 281.0 247.5ZM357.5 247.0 358.0 245.8 356.8 246.0 356.8 247.0 357.5 247.0ZM421.3 255.0 419.8 253.0 420.0 251.1 421.0 250.6 420.0 250.9 419.0 250.0 418.8 247.0 417.0 245.6 415.1 249.0 417.0 251.0 418.0 254.3 420.0 255.6 421.3 255.0ZM304.0 253.5 303.0 253.7 302.0 251.3 299.0 252.3 298.2 251.0 298.2 248.0 299.0 247.4 302.0 248.9 304.0 248.3 304.6 252.0 304.0 253.5ZM364.0 251.2 363.2 250.0 365.1 250.0 364.0 251.2ZM383.5 251.0 383.9 250.0 383.0 249.1 382.0 249.2 382.0 250.8 383.0 251.4 383.5 251.0ZM392.1 252.0 392.0 250.7 391.0 250.3 390.0 251.0 391.0 252.6 392.1 252.0ZM398.4 254.0 397.0 253.3 396.4 254.0 397.0 254.6 398.4 254.0ZM320.7 257.0 321.0 255.9 319.1 256.0 319.6 257.0 320.7 257.0ZM456.0 307.6 453.6 307.0 455.5 305.0 455.4 304.0 454.0 302.8 452.0 303.7 451.0 306.2 447.0 304.3 443.0 299.0 441.7 295.0 442.5 293.0 442.7 288.0 442.0 287.0 438.0 287.4 437.0 285.7 433.0 286.0 431.0 283.0 430.9 280.0 430.0 279.0 432.1 276.0 431.1 272.0 429.0 271.7 428.0 274.0 428.0 273.0 426.0 271.0 425.0 271.0 432.0 266.8 434.6 269.0 438.1 270.0 438.2 271.0 437.1 272.0 438.0 273.1 439.0 272.8 440.2 270.0 437.6 266.0 439.4 264.0 436.0 263.9 434.5 262.0 434.8 259.0 436.0 257.8 438.0 260.7 440.0 259.0 442.0 263.0 441.6 265.0 442.7 268.0 445.0 267.5 445.9 269.0 446.0 271.5 447.7 271.0 448.0 270.0 450.1 272.0 453.0 278.0 453.0 280.0 459.0 287.0 459.0 288.8 456.7 288.0 455.1 293.0 455.3 294.0 460.0 296.6 461.0 298.3 463.0 297.6 462.7 305.0 461.0 306.3 458.0 302.2 456.7 304.0 456.0 307.6ZM339.0 261.2 338.0 261.7 338.0 260.0 339.0 259.5 339.0 261.2ZM417.0 264.1 416.0 264.0 416.0 262.3 417.5 263.0 417.0 264.1ZM425.0 269.2 424.0 269.6 421.9 268.0 427.0 264.9 429.0 265.8 425.0 269.2ZM445.7 279.0 445.0 278.4 443.7 279.0 444.0 279.6 445.7 279.0ZM446.1 289.0 448.0 286.5 449.2 287.0 446.0 283.6 441.0 283.2 440.5 282.0 441.9 280.0 441.0 279.3 440.0 279.5 438.5 283.0 440.0 284.4 443.0 284.7 446.1 289.0ZM449.7 295.0 449.0 294.0 448.3 295.0 449.0 295.8 449.7 295.0ZM456.5 301.0 456.5 298.0 455.0 297.5 453.6 299.0 453.9 300.0 455.0 301.5 456.5 301.0Z"/>
<path fill="#00C400" fill-rule="evenodd" d="M162.0 63.3 160.9 63.0 161.4 61.0 160.3 59.0 161.0 57.8 162.6 61.0 162.0 63.3ZM472.0 62.3 471.0 62.8 470.7 62.0 471.0 60.5 472.0 60.1 472.9 61.0 472.0 62.3ZM181.0 78.4 179.0 78.6 178.8 77.0 178.0 76.4 175.0 76.7 174.0 76.0 173.5 74.0 175.9 72.0 174.0 69.0 175.0 66.9 180.0 63.4 182.0 63.3 183.0 62.0 184.0 62.9 185.7 63.0 183.2 65.0 182.0 68.5 180.0 70.0 180.9 73.0 181.0 78.4ZM160.0 65.0 159.0 63.7 160.6 64.0 160.0 65.0ZM192.0 67.6 189.7 67.0 189.0 65.0 192.0 65.0 192.6 67.0 192.0 67.6ZM209.0 98.4 207.0 96.0 204.0 96.9 202.5 95.0 202.0 92.0 204.3 91.0 204.2 87.0 206.0 86.6 207.9 84.0 207.7 82.0 206.0 81.5 203.0 82.0 202.5 80.0 205.0 79.0 207.0 76.4 209.0 76.9 210.0 75.5 212.0 76.1 211.9 74.0 211.0 73.8 210.0 74.9 209.3 74.0 208.9 73.0 210.0 71.3 215.0 71.0 216.0 71.9 224.0 73.0 224.7 75.0 224.0 75.6 223.0 74.8 219.9 75.0 221.0 75.3 221.9 77.0 221.4 80.0 219.5 83.0 219.9 86.0 219.0 88.1 218.0 89.1 215.0 89.5 213.0 92.8 212.0 92.0 210.4 97.0 209.0 98.4ZM489.0 79.0 488.3 79.0 486.7 74.0 486.8 72.0 488.0 70.6 489.1 71.0 490.0 74.3 493.0 73.2 492.1 76.0 489.0 79.0ZM161.0 76.6 159.9 76.0 161.0 74.6 161.6 76.0 161.0 76.6ZM251.0 114.4 248.0 112.1 246.0 112.5 245.0 113.6 244.0 113.4 243.2 111.0 244.8 108.0 244.0 107.3 240.4 110.0 239.0 112.2 237.0 112.1 234.0 110.1 232.0 111.9 229.0 112.0 228.1 111.0 227.5 108.0 232.0 106.6 232.0 104.7 228.0 103.1 223.6 103.0 223.3 102.0 224.9 101.0 225.5 99.0 223.0 98.1 223.0 96.3 224.0 95.7 227.0 96.7 228.1 96.0 228.0 94.3 226.1 92.0 225.6 88.0 226.5 86.0 225.7 84.0 226.0 82.6 228.0 82.4 231.6 84.0 231.7 85.0 230.0 85.0 229.1 86.0 229.2 88.0 232.0 91.0 231.1 93.0 233.0 94.5 235.3 95.0 237.0 99.7 237.9 99.0 238.6 96.0 237.3 95.0 237.2 94.0 238.0 92.8 241.0 92.2 243.5 90.0 240.0 85.9 238.0 85.4 236.0 86.1 233.8 84.0 234.0 82.7 236.8 81.0 237.0 80.0 235.4 77.0 236.0 75.9 238.0 76.5 242.0 75.9 243.0 76.9 245.2 77.0 245.0 78.5 241.0 77.8 238.4 79.0 238.5 80.0 239.7 81.0 239.7 83.0 242.0 85.8 245.6 87.0 246.1 91.0 249.0 92.0 249.4 89.0 246.4 86.0 246.0 82.6 250.0 85.0 251.2 84.0 250.5 81.0 252.0 79.1 253.0 79.4 254.0 81.4 255.0 81.0 254.0 79.0 255.0 78.1 260.1 79.0 259.8 82.0 260.9 84.0 260.7 86.0 259.0 87.5 257.0 86.3 255.0 87.3 253.0 86.8 251.5 88.0 251.5 89.0 254.2 92.0 251.4 95.0 253.0 95.2 255.3 95.0 257.0 92.3 259.0 91.8 260.0 88.4 261.0 89.1 262.3 91.0 260.0 98.0 259.0 98.9 255.0 97.7 246.0 97.1 241.0 95.0 242.0 97.0 239.3 100.0 237.0 105.0 237.8 107.0 237.0 107.9 235.0 107.1 234.5 108.0 235.0 109.8 236.0 109.5 238.0 107.4 241.7 107.0 243.0 103.2 244.0 102.8 246.0 104.2 249.0 101.8 254.0 100.9 254.6 102.0 254.1 103.0 251.8 104.0 250.6 109.0 248.9 110.0 249.0 111.4 251.0 109.2 252.1 110.0 252.0 113.9 251.0 114.4ZM209.6 80.0 210.2 78.0 209.0 77.2 208.6 80.0 209.0 80.5 209.6 80.0ZM160.0 81.4 158.5 81.0 159.0 79.3 162.0 79.8 164.0 78.7 163.5 80.0 160.0 81.4ZM169.0 80.2 168.0 80.3 168.0 78.7 169.3 79.0 169.0 80.2ZM465.0 83.1 464.0 81.0 466.1 82.0 465.0 83.1ZM186.0 85.4 184.8 85.0 184.6 84.0 186.0 84.2 186.5 85.0 186.0 85.4ZM262.0 87.2 261.1 86.0 261.2 84.0 263.0 83.1 263.9 85.0 263.0 86.9 262.0 87.2ZM277.0 84.8 275.6 84.0 277.0 83.3 277.8 84.0 277.0 84.8ZM214.3 86.0 214.0 84.9 212.0 84.8 210.7 85.0 210.2 86.0 212.0 86.7 214.3 86.0ZM383.0 260.5 379.0 260.4 376.0 257.7 373.0 260.4 370.6 258.0 370.0 256.0 372.3 253.0 372.2 250.0 373.0 249.1 376.0 250.5 379.4 250.0 379.4 249.0 377.3 247.0 380.0 245.4 380.6 244.0 379.3 242.0 378.0 241.5 377.0 242.0 376.9 244.0 376.0 245.3 372.0 242.8 370.0 239.5 367.7 238.0 370.0 236.1 369.0 235.0 366.0 237.8 363.1 238.0 363.0 240.8 362.0 241.0 358.0 239.2 357.0 239.9 356.2 244.0 352.4 246.0 355.6 248.0 355.8 254.0 357.0 253.4 357.6 254.0 357.9 256.0 357.0 257.4 353.0 259.3 352.6 258.0 351.0 256.8 349.0 258.0 347.0 257.5 344.0 258.9 341.0 256.2 337.2 255.0 340.3 251.0 338.0 250.9 337.0 249.8 335.0 244.5 331.0 244.6 330.0 243.4 329.4 240.0 331.6 238.0 331.4 237.0 328.0 235.7 326.2 237.0 325.0 239.4 324.0 237.7 326.3 234.0 325.0 232.0 323.0 232.2 320.0 233.9 319.2 233.0 322.0 228.4 323.0 227.9 327.0 228.5 328.0 227.8 328.7 224.0 325.0 222.0 329.0 216.0 330.0 216.4 331.0 221.0 332.0 221.8 334.0 221.0 334.9 222.0 334.6 226.0 335.6 228.0 335.0 229.0 330.0 231.7 329.7 233.0 332.0 235.4 335.0 233.3 336.9 234.0 336.8 235.0 334.9 237.0 332.6 238.0 332.3 239.0 336.0 241.9 337.0 242.1 337.9 241.0 336.5 237.0 337.3 234.0 339.2 232.0 339.2 228.0 340.2 225.0 339.6 221.0 339.0 219.9 337.0 219.2 336.0 218.0 334.0 218.7 332.2 217.0 333.0 215.9 336.5 215.0 335.9 212.0 337.0 208.0 340.0 205.7 342.0 210.2 344.0 210.8 344.6 210.0 343.2 208.0 343.1 205.0 342.0 202.7 339.0 203.6 335.8 200.0 334.0 196.2 332.0 197.6 330.3 197.0 330.2 196.0 332.0 193.0 330.9 192.0 331.1 191.0 333.0 189.6 335.0 189.5 335.0 191.3 332.0 193.0 335.0 195.4 338.2 195.0 343.0 191.4 345.0 191.1 346.3 192.0 346.7 193.0 346.0 193.8 342.0 194.6 341.4 196.0 344.0 197.4 347.0 197.3 347.9 198.0 347.6 202.0 348.9 203.0 349.2 209.0 346.0 212.7 342.4 219.0 343.0 219.8 345.9 220.0 352.0 223.6 356.0 223.9 356.6 223.0 356.5 219.0 355.1 216.0 359.0 215.6 361.0 217.5 364.0 212.6 365.6 213.0 366.2 216.0 367.0 216.5 369.0 215.7 369.4 214.0 366.9 212.0 365.0 206.7 362.0 206.5 361.0 205.2 355.0 206.4 352.3 206.0 351.9 205.0 353.0 204.7 355.0 205.3 356.4 203.0 356.0 202.0 352.3 202.0 351.0 201.0 352.2 199.0 348.9 196.0 351.0 193.3 353.1 194.0 355.0 196.5 358.0 195.7 361.0 199.0 363.0 198.3 363.8 199.0 362.3 203.0 363.0 204.9 365.0 204.8 367.0 202.1 370.0 200.4 371.0 200.5 372.3 203.0 371.0 205.7 370.0 206.4 368.6 206.0 368.7 208.0 371.0 208.5 373.0 210.9 375.0 211.3 377.0 213.5 378.7 209.0 378.1 206.0 380.0 204.2 382.9 206.0 382.9 208.0 384.0 208.3 384.3 207.0 383.2 206.0 386.2 203.0 384.3 201.0 384.9 200.0 387.0 200.5 389.0 197.8 391.0 202.8 396.0 202.0 394.0 200.1 393.9 196.0 392.8 194.0 395.0 192.1 395.9 189.0 394.0 187.6 392.0 188.4 389.0 186.7 385.3 186.0 381.5 179.0 383.0 175.0 387.0 174.5 390.8 177.0 390.1 179.0 391.0 179.5 391.3 177.0 393.1 174.0 390.0 173.9 388.8 173.0 389.0 170.0 387.8 170.0 385.6 172.0 385.1 169.0 387.1 167.0 386.0 166.0 384.8 167.0 384.7 169.0 383.3 171.0 382.0 171.6 380.0 171.1 375.0 167.1 374.3 165.0 376.5 164.0 378.0 162.0 378.0 160.0 377.0 159.1 373.0 158.6 371.0 160.2 366.0 161.0 364.0 159.7 362.5 161.0 365.0 162.0 363.4 166.0 368.6 168.0 367.6 170.0 367.3 174.0 368.0 175.9 369.0 176.8 371.0 176.3 374.9 179.0 375.0 181.2 376.5 184.0 376.0 184.9 372.0 185.4 370.0 188.6 368.0 187.4 364.1 187.0 363.0 185.0 359.0 184.6 356.0 182.0 354.0 182.9 353.0 182.0 352.1 179.0 353.0 176.3 355.0 177.0 357.0 179.5 358.0 179.4 360.0 177.2 362.0 177.0 361.3 175.0 360.0 174.4 358.0 175.3 356.0 173.8 354.0 173.5 353.0 175.4 352.0 175.4 350.9 174.0 351.0 173.0 353.8 172.0 357.0 168.6 359.0 168.4 360.8 167.0 356.5 164.0 359.0 161.5 360.0 162.3 361.0 161.6 361.2 160.0 360.0 159.3 358.0 160.2 356.9 159.0 357.7 156.0 357.2 155.0 355.0 155.3 355.0 153.7 356.0 152.5 358.0 153.8 362.0 153.2 363.3 154.0 362.2 157.0 363.0 157.6 366.6 154.0 366.5 153.0 362.2 149.0 362.6 148.0 367.0 146.6 370.0 144.5 372.0 144.9 374.0 146.9 374.8 144.0 375.9 143.0 374.7 138.0 376.9 137.0 381.0 136.7 383.0 139.8 385.5 139.0 386.6 133.0 384.0 129.0 385.5 127.0 389.5 126.0 390.8 124.0 390.7 122.0 392.5 120.0 394.0 122.0 392.9 126.0 395.0 127.1 396.1 132.0 393.4 134.0 394.0 137.0 392.1 141.0 395.5 143.0 395.7 144.0 395.0 145.9 391.0 144.1 390.0 144.6 387.6 149.0 390.0 147.5 396.0 147.4 399.0 144.9 400.4 145.0 400.7 143.0 408.0 140.8 411.0 138.9 411.1 137.0 413.0 135.0 413.0 134.0 413.9 134.0 415.0 138.1 416.6 139.0 415.6 144.0 417.0 144.3 420.8 142.0 420.6 141.0 418.1 139.0 418.9 137.0 417.9 136.0 419.0 135.7 419.0 137.0 421.4 138.0 422.0 139.0 423.0 136.0 424.2 135.0 429.3 133.0 429.2 132.0 428.0 131.1 421.0 131.0 420.9 130.0 419.0 129.1 418.9 128.0 420.9 126.0 421.0 124.0 422.0 122.9 424.0 124.8 427.0 125.0 429.0 124.2 432.0 125.5 432.8 125.0 432.0 121.8 430.0 119.3 429.0 119.2 427.0 121.4 421.0 120.2 420.2 119.0 425.5 116.0 431.0 116.0 432.0 117.0 433.0 116.6 434.0 113.0 435.0 113.0 437.0 111.0 436.9 108.0 437.9 106.0 435.9 105.0 437.0 103.0 439.2 102.0 439.2 100.0 442.0 97.4 445.0 95.6 448.0 95.2 449.0 93.4 451.4 92.0 451.4 90.0 460.0 85.9 461.1 86.0 462.0 90.7 463.9 91.0 464.7 92.0 463.3 96.0 463.9 97.0 466.0 97.6 469.5 94.0 468.9 92.0 469.5 91.0 468.0 89.8 467.2 87.0 467.0 85.0 468.0 84.1 475.6 85.0 476.4 86.0 475.3 88.0 476.0 88.9 477.6 88.0 479.0 85.0 483.0 85.2 483.8 86.0 481.0 89.5 479.1 90.0 479.8 91.0 478.0 95.7 476.0 92.7 473.4 93.0 473.1 94.0 474.0 95.5 477.0 95.1 478.0 96.1 478.1 101.0 480.0 103.0 480.1 105.0 479.0 105.0 478.0 103.7 475.0 104.9 473.0 103.9 472.6 105.0 475.0 105.1 478.0 107.5 481.0 107.0 484.0 110.0 486.0 107.7 488.0 108.8 489.0 111.1 487.0 111.0 485.0 112.6 483.0 112.1 482.0 112.8 482.0 115.0 481.0 116.0 479.0 116.5 476.0 115.6 475.0 117.7 474.0 117.9 470.6 115.0 470.3 113.0 469.0 111.6 467.0 113.0 465.0 111.7 464.0 113.9 462.9 114.0 463.0 116.0 457.0 118.8 456.0 118.6 455.6 117.0 457.5 114.0 458.0 110.8 454.0 114.8 452.0 114.3 449.0 114.9 448.6 116.0 450.0 118.2 452.0 117.9 452.8 122.0 450.0 122.4 449.0 119.7 447.9 123.0 451.0 124.1 461.0 121.5 461.7 122.0 460.8 124.0 461.0 125.5 464.0 124.7 466.0 126.9 463.0 128.1 461.0 127.1 460.3 130.0 462.9 134.0 465.0 135.7 466.0 135.4 467.1 137.0 466.8 142.0 466.0 142.8 461.0 142.6 459.0 140.4 458.0 140.7 457.1 140.0 457.0 136.4 456.0 136.1 455.0 137.9 454.0 138.1 453.0 136.6 452.0 136.9 450.6 139.0 451.0 140.8 457.0 140.0 457.8 141.0 457.6 143.0 458.5 144.0 457.0 144.7 456.0 143.8 454.5 145.0 455.0 145.9 457.0 146.3 456.9 148.0 455.0 148.6 452.0 146.4 450.3 147.0 450.0 150.0 453.1 155.0 453.1 158.0 456.0 161.0 458.1 165.0 458.0 167.7 456.0 169.2 454.9 169.0 452.0 164.6 450.9 165.0 453.3 168.0 452.2 169.0 453.8 177.0 453.1 179.0 455.0 180.2 458.0 180.1 459.2 182.0 459.8 179.0 462.2 177.0 460.1 173.0 461.0 172.7 463.0 174.8 465.9 176.0 466.0 180.3 469.0 180.1 469.9 182.0 469.0 183.4 467.0 184.2 465.0 183.7 463.0 184.8 461.8 184.0 462.7 186.0 461.8 189.0 462.2 190.0 465.0 190.0 467.0 188.0 468.2 188.0 468.4 189.0 466.0 192.2 464.9 195.0 467.0 194.9 467.1 196.0 464.0 197.1 461.0 200.1 456.0 201.0 452.0 198.5 451.2 197.0 452.0 195.7 453.0 195.5 456.0 196.8 458.3 195.0 455.0 191.0 451.0 190.3 447.0 196.4 446.5 194.0 445.0 193.9 442.5 198.0 442.2 200.0 441.0 200.8 438.0 201.2 435.3 199.0 434.2 197.0 436.0 191.6 440.0 192.6 442.2 190.0 449.0 186.9 451.0 188.0 454.3 185.0 453.3 183.0 451.0 182.0 450.8 181.0 452.9 179.0 452.6 178.0 451.0 177.4 448.0 181.2 446.0 180.4 445.0 178.6 441.0 178.1 439.0 180.0 439.9 182.0 439.2 183.0 438.0 183.6 436.1 183.0 436.0 181.6 435.4 182.0 436.5 184.0 435.9 185.0 432.7 186.0 432.4 185.0 433.7 182.0 432.7 181.0 432.8 176.0 430.0 172.0 427.9 171.0 430.4 166.0 434.3 164.0 434.5 163.0 432.8 161.0 434.0 159.2 435.0 159.3 436.0 162.2 438.6 163.0 441.4 165.0 440.7 168.0 441.8 170.0 438.0 172.7 438.0 174.9 442.0 175.4 445.0 177.9 448.0 176.1 449.7 171.0 452.0 169.0 451.0 167.4 448.0 167.5 447.0 166.6 446.8 164.0 444.4 162.0 444.6 158.0 441.0 152.6 439.3 153.0 439.6 159.0 437.0 159.0 436.0 156.0 433.0 157.6 430.0 155.5 429.1 158.0 430.8 160.0 430.4 162.0 425.8 162.0 428.7 159.0 426.4 154.0 428.0 150.7 429.0 150.0 429.4 152.0 432.0 152.8 436.9 151.0 434.0 148.7 433.1 147.0 435.9 146.0 435.6 144.0 434.0 143.2 432.0 144.2 431.0 143.5 431.0 141.0 433.0 137.1 435.0 137.7 437.7 141.0 437.0 145.3 436.1 146.0 438.7 148.0 440.0 150.8 445.0 150.3 447.3 149.0 448.3 147.0 447.0 146.1 445.0 146.7 443.8 143.0 439.5 139.0 442.7 136.0 442.0 134.7 439.2 135.0 438.0 137.5 436.0 132.2 435.0 132.7 432.0 131.8 431.0 133.8 430.0 134.0 429.1 137.0 424.4 140.0 425.0 143.0 422.2 150.0 424.0 152.4 422.7 153.0 421.4 150.0 419.0 148.1 417.5 149.0 417.4 151.0 418.5 153.0 423.0 156.3 423.4 158.0 422.0 158.9 421.0 157.5 417.0 156.2 416.2 159.0 416.7 160.0 418.0 160.2 422.0 159.1 422.7 161.0 421.0 164.2 417.1 165.0 417.6 166.0 420.9 167.0 420.0 170.4 422.7 172.0 424.0 174.4 421.0 175.6 420.0 174.3 418.9 176.0 424.0 177.5 428.0 176.4 429.8 178.0 429.5 180.0 430.4 182.0 429.0 185.0 430.0 188.0 427.0 190.0 426.4 191.0 427.4 194.0 426.0 194.4 425.3 196.0 430.0 197.5 431.0 200.0 430.0 202.2 428.1 203.0 427.0 206.6 426.0 206.2 425.5 202.0 424.0 199.8 420.5 199.0 423.2 198.0 423.1 197.0 421.2 196.0 421.3 195.0 422.0 194.0 425.0 193.4 425.9 191.0 425.4 189.0 427.0 186.5 426.5 185.0 428.2 181.0 426.0 178.9 425.3 181.0 424.0 181.1 423.5 182.0 425.8 185.0 425.3 186.0 424.0 186.6 422.6 186.0 423.0 185.0 422.0 183.9 421.7 186.0 420.0 187.4 418.8 187.0 419.0 183.0 420.1 181.0 419.0 180.0 413.8 184.0 415.5 186.0 415.2 188.0 415.8 189.0 420.7 190.0 417.2 194.0 417.4 197.0 413.7 200.0 415.9 207.0 413.0 208.2 409.0 208.3 406.0 207.7 402.0 204.5 401.0 205.9 397.0 204.7 396.4 208.0 394.7 210.0 397.0 211.9 398.2 211.0 398.2 209.0 400.0 208.2 402.8 210.0 403.1 212.0 399.0 214.0 394.0 214.2 392.5 212.0 392.9 210.0 391.0 209.9 389.8 214.0 391.0 215.6 393.1 216.0 391.0 216.8 385.9 212.0 383.6 212.0 380.8 217.0 381.1 218.0 383.4 220.0 385.0 222.8 389.0 221.6 391.9 225.0 390.0 226.4 388.0 224.6 385.0 223.7 381.9 226.0 381.5 228.0 383.0 228.2 386.0 225.2 387.5 227.0 387.3 229.0 389.1 231.0 392.0 231.9 393.0 233.0 392.6 234.0 390.0 235.4 388.0 234.0 389.5 239.0 390.0 239.9 392.0 238.4 394.6 241.0 392.0 242.7 390.0 242.8 388.0 241.8 386.0 242.3 385.0 241.0 386.6 239.0 381.0 237.8 380.0 235.9 379.0 236.4 378.4 238.0 378.9 239.0 382.4 243.0 382.5 247.0 380.3 249.0 380.2 250.0 382.3 253.0 380.7 254.0 380.5 255.0 382.8 255.0 383.4 253.0 388.0 251.8 390.0 253.7 392.0 254.0 393.2 252.0 393.3 250.0 389.6 248.0 391.0 246.4 391.1 245.0 393.0 243.6 395.8 245.0 399.0 249.6 400.0 249.8 403.0 247.7 404.5 249.0 404.4 250.0 402.0 251.1 400.0 250.5 395.0 253.0 394.7 256.0 397.3 257.0 396.6 259.0 393.0 257.7 388.0 259.2 387.0 257.3 386.0 256.9 383.0 260.5ZM178.0 89.1 174.5 86.0 177.0 85.6 179.3 87.0 179.5 88.0 178.0 89.1ZM193.0 89.1 192.0 89.4 191.4 88.0 194.0 87.7 196.0 86.4 195.2 88.0 193.0 89.1ZM268.0 90.3 267.2 90.0 267.1 89.0 268.0 86.9 268.9 89.0 268.0 90.3ZM281.0 93.0 279.0 93.3 277.9 92.0 281.0 86.7 285.6 89.0 284.0 91.4 281.0 93.0ZM472.2 92.0 472.8 89.0 472.0 86.4 470.0 88.0 470.0 90.0 471.0 92.3 472.2 92.0ZM206.7 91.0 209.5 89.0 206.5 88.0 205.7 91.0 206.7 91.0ZM238.0 90.6 237.5 90.0 238.0 87.8 239.0 89.0 238.0 90.6ZM161.0 94.1 159.4 93.0 159.1 92.0 160.0 90.9 162.0 91.8 162.5 93.0 161.0 94.1ZM189.0 95.6 188.0 95.9 186.7 95.0 189.0 91.9 190.5 93.0 189.0 95.6ZM266.0 92.6 264.3 92.0 266.0 91.3 266.0 92.6ZM286.0 123.4 285.0 123.7 283.5 121.0 281.5 120.0 282.6 117.0 280.0 115.3 278.2 117.0 279.4 120.0 278.5 123.0 273.0 122.1 271.0 122.5 270.0 121.6 269.0 123.4 266.5 123.0 266.6 121.0 268.6 120.0 269.0 119.0 265.3 116.0 264.6 114.0 262.0 113.0 261.5 112.0 265.3 109.0 265.5 106.0 264.0 103.9 262.0 103.6 260.0 104.5 259.4 103.0 260.0 101.4 262.1 101.0 261.8 98.0 262.3 97.0 266.0 94.2 267.6 96.0 264.4 98.0 264.0 99.2 269.1 99.0 269.0 101.1 270.0 99.6 273.0 98.7 273.5 100.0 272.5 102.0 276.2 103.0 278.4 105.0 276.3 106.0 277.0 112.9 279.0 113.7 281.0 111.2 281.4 114.0 283.0 115.5 285.5 114.0 286.8 112.0 286.0 109.0 283.4 107.0 285.9 105.0 287.0 101.0 290.2 97.0 287.7 95.0 289.3 94.0 291.0 91.3 294.0 93.3 296.8 97.0 296.7 100.0 299.5 100.0 300.9 101.0 300.2 102.0 300.5 104.0 299.0 106.0 300.1 107.0 296.0 108.8 296.4 111.0 295.0 111.3 292.3 104.0 291.0 102.8 290.0 103.1 287.2 112.0 289.0 114.1 291.0 114.5 293.0 113.4 296.8 115.0 296.6 116.0 293.0 117.5 291.0 122.0 289.7 121.0 289.5 118.0 288.5 118.0 287.8 121.0 286.0 123.4ZM463.4 105.0 463.0 98.0 461.2 97.0 461.9 95.0 460.0 92.4 457.3 94.0 457.4 97.0 460.8 101.0 460.0 105.4 463.4 105.0ZM220.0 104.2 219.0 104.8 217.0 103.6 215.0 103.6 213.2 102.0 212.5 99.0 214.0 94.2 219.4 96.0 219.7 97.0 217.1 98.0 217.1 99.0 217.4 102.0 219.5 103.0 220.0 104.2ZM159.0 99.5 156.6 98.0 156.2 97.0 157.0 96.3 159.0 96.0 160.0 96.6 160.1 98.0 159.0 99.5ZM179.0 97.3 177.3 97.0 178.0 95.3 179.9 96.0 179.0 97.3ZM281.0 98.6 279.9 98.0 281.0 96.8 281.0 98.6ZM193.0 101.0 191.6 101.0 192.0 99.6 194.8 100.0 193.0 101.0ZM294.8 101.0 294.0 100.0 292.1 101.0 294.0 101.8 294.8 101.0ZM451.7 108.0 449.7 105.0 451.4 102.0 451.5 100.0 450.0 99.4 447.0 100.0 445.5 103.0 446.0 103.9 448.1 105.0 449.4 108.0 451.0 108.9 451.7 108.0ZM203.0 104.0 202.0 102.7 204.0 100.1 205.0 100.3 205.5 103.0 203.0 104.0ZM209.0 104.2 205.5 104.0 210.0 100.2 210.9 101.0 210.8 102.0 209.0 104.2ZM283.0 106.8 280.0 106.9 278.6 106.0 281.3 104.0 279.7 102.0 280.0 100.3 282.0 101.9 285.0 102.0 285.9 103.0 283.0 104.6 283.7 106.0 283.0 106.8ZM273.0 106.0 272.2 104.0 271.0 103.5 269.2 105.0 269.6 106.0 271.0 106.6 273.0 106.0ZM457.2 109.0 456.0 105.5 453.0 103.9 454.4 109.0 457.2 109.0ZM209.0 116.5 208.0 116.8 206.6 116.0 209.5 112.0 208.7 111.0 208.0 110.7 206.0 112.5 204.7 112.0 206.0 107.2 208.0 106.9 210.0 105.6 214.0 105.7 215.0 105.8 216.0 107.9 218.0 106.1 219.3 107.0 221.0 110.3 222.0 110.3 222.8 109.0 222.4 107.0 223.0 106.2 226.7 108.0 225.8 109.0 226.1 111.0 222.0 114.2 220.0 111.7 216.0 110.8 215.0 108.5 212.0 109.0 210.0 115.6 209.0 116.5ZM259.0 109.1 258.0 108.0 259.0 105.5 260.0 107.0 259.0 109.1ZM442.6 110.0 445.8 107.0 445.0 105.1 443.1 106.0 442.0 108.3 439.7 109.0 439.0 110.0 442.0 110.7 442.6 110.0ZM467.0 110.0 467.0 108.8 466.0 108.9 465.6 110.0 467.0 110.0ZM299.0 114.7 297.6 114.0 297.7 112.0 299.0 110.9 300.4 112.0 299.0 114.7ZM444.6 115.0 444.7 113.0 443.0 111.4 441.5 113.0 441.9 114.0 444.0 115.8 444.6 115.0ZM187.0 115.1 186.3 115.0 187.0 113.5 187.7 114.0 187.0 115.1ZM255.0 132.2 252.0 130.8 248.0 131.9 246.6 130.0 245.3 127.0 247.0 125.2 250.0 124.8 251.1 123.0 249.0 123.1 241.8 121.0 242.6 117.0 245.0 114.3 248.0 115.2 251.0 117.6 252.0 119.5 253.9 120.0 254.0 125.0 252.1 127.0 253.0 128.7 255.9 130.0 255.0 132.2ZM274.3 117.0 275.2 116.0 272.9 116.0 273.0 117.2 274.3 117.0ZM238.0 120.9 233.0 119.1 233.0 117.2 234.0 116.9 238.4 120.0 238.0 120.9ZM263.0 119.9 261.5 118.0 262.0 116.7 263.9 119.0 263.0 119.9ZM215.0 125.8 212.1 124.0 211.0 121.6 206.6 122.0 205.8 121.0 205.9 119.0 208.0 117.5 210.0 120.1 213.0 121.5 215.6 125.0 215.0 125.8ZM221.0 122.4 216.0 122.0 214.0 119.0 217.0 118.3 222.0 118.8 221.0 122.4ZM230.0 122.3 227.9 122.0 227.0 119.5 228.0 119.0 230.0 120.0 230.5 121.0 230.0 122.3ZM260.0 126.5 258.9 126.0 260.7 124.0 260.0 119.8 261.0 119.9 263.0 122.5 265.4 124.0 263.0 125.8 261.0 125.6 260.0 126.5ZM439.7 122.0 439.7 121.0 438.0 120.0 437.4 121.0 438.0 122.3 439.7 122.0ZM195.0 125.7 193.9 125.0 194.0 124.0 195.0 123.7 195.0 125.7ZM239.0 131.0 237.5 131.0 237.3 128.0 235.9 127.0 237.0 123.2 238.3 124.0 239.0 126.9 243.0 124.9 244.4 127.0 242.3 130.0 239.0 131.0ZM293.0 126.2 291.7 126.0 291.9 125.0 293.2 125.0 293.0 126.2ZM475.0 126.0 473.9 125.0 475.0 124.1 475.0 126.0ZM296.0 142.2 295.0 142.8 294.3 142.0 293.2 139.0 294.2 138.0 294.6 136.0 294.0 134.6 292.0 136.6 292.0 133.6 294.0 133.6 295.7 132.0 294.6 129.0 295.0 126.7 300.0 125.2 302.0 126.3 303.1 130.0 300.0 129.8 298.5 131.0 297.7 135.0 298.4 139.0 296.0 142.2ZM207.0 131.2 205.1 131.0 204.1 130.0 206.0 127.4 207.3 129.0 207.0 131.2ZM210.0 134.1 209.0 134.0 208.8 133.0 210.6 131.0 212.0 127.4 215.2 130.0 213.0 131.0 210.0 134.1ZM285.0 152.1 283.0 152.0 284.1 149.0 283.6 147.0 285.0 146.0 287.3 146.0 287.8 143.0 286.0 142.2 282.0 144.3 280.0 144.0 275.0 138.6 272.6 138.0 274.0 136.2 281.0 139.5 283.0 139.3 285.6 137.0 286.8 132.0 286.2 131.0 283.3 130.0 288.0 128.0 287.3 132.0 288.3 134.0 286.2 137.0 286.3 138.0 288.0 139.9 289.4 140.0 288.1 143.0 290.5 146.0 291.1 149.0 290.0 150.6 285.0 152.1ZM233.0 130.3 232.0 130.7 231.1 130.0 233.0 128.6 234.9 129.0 233.0 130.3ZM262.0 152.3 258.6 147.0 264.0 142.2 265.3 143.0 266.1 142.0 266.1 139.0 264.7 137.0 261.8 137.0 261.5 132.0 258.6 130.0 258.7 129.0 259.0 128.3 260.0 128.6 264.0 131.2 266.0 128.1 267.0 128.1 268.3 130.0 268.3 132.0 266.3 137.0 267.0 137.6 269.4 137.0 270.0 136.0 269.5 135.0 270.8 135.0 270.0 136.0 271.6 143.0 269.6 145.0 270.5 148.0 269.7 149.0 265.0 149.1 263.0 147.2 261.1 148.0 262.7 151.0 262.0 152.3ZM283.0 132.6 281.2 132.0 283.0 130.3 283.0 132.6ZM454.4 134.0 454.8 133.0 454.0 131.8 453.0 132.3 452.7 134.0 454.0 134.6 454.4 134.0ZM248.0 134.6 246.5 134.0 247.0 132.3 248.0 132.0 248.0 134.6ZM302.0 135.2 301.0 135.4 299.9 134.0 303.0 132.9 303.2 134.0 302.0 135.2ZM343.0 140.3 341.8 140.0 340.7 135.0 342.0 133.3 345.0 136.5 348.0 136.0 349.6 139.0 345.0 139.3 343.0 140.3ZM184.0 138.0 183.1 136.0 184.0 135.0 186.0 135.0 186.0 136.0 184.0 138.0ZM233.0 137.2 231.0 136.1 231.0 134.6 233.2 136.0 233.0 137.2ZM237.0 138.6 235.5 137.0 235.7 136.0 238.0 134.3 239.0 134.7 237.0 138.6ZM207.0 139.3 204.1 139.0 206.0 136.0 207.1 136.0 207.0 139.3ZM311.0 138.7 310.0 138.5 309.0 135.6 310.2 136.0 311.0 138.7ZM305.0 138.4 303.2 138.0 303.0 136.7 304.0 136.2 305.0 138.4ZM353.0 147.1 350.0 147.8 348.7 147.0 349.8 144.0 349.3 140.0 351.7 139.0 352.0 136.8 353.0 136.0 354.3 137.0 356.3 141.0 355.8 143.0 353.2 145.0 353.0 147.1ZM448.4 138.0 448.3 137.0 447.0 136.5 444.2 137.0 446.0 138.9 448.4 138.0ZM227.0 155.1 226.0 153.0 227.1 152.0 227.6 149.0 225.0 146.9 224.0 143.0 220.0 143.4 218.0 145.5 215.7 145.0 215.5 144.0 217.0 142.7 220.0 142.6 223.0 138.6 228.0 137.0 230.0 137.5 231.0 140.0 229.8 143.0 229.0 144.1 227.0 144.6 226.8 146.0 230.0 145.9 230.0 148.8 231.5 150.0 231.4 151.0 228.6 153.0 228.0 154.9 227.0 155.1ZM252.0 159.3 250.0 159.9 247.0 158.4 244.3 154.0 244.0 152.1 241.0 152.6 240.3 151.0 241.0 150.4 244.0 152.0 244.8 151.0 244.0 147.0 244.4 145.0 242.7 143.0 244.0 141.9 246.0 141.1 249.0 142.9 250.0 142.8 252.5 140.0 253.0 138.3 256.0 138.1 259.3 139.0 258.7 146.0 255.4 146.0 254.0 144.3 249.6 149.0 255.0 152.0 253.4 158.0 252.0 159.3ZM390.4 141.0 389.7 139.0 387.6 139.0 389.0 141.5 390.0 141.8 390.4 141.0ZM311.0 158.2 310.0 158.7 308.1 158.0 307.4 156.0 308.0 154.0 307.0 153.1 305.0 153.5 303.4 150.0 307.0 150.6 307.8 150.0 308.6 146.0 306.5 143.0 310.0 139.7 311.8 141.0 312.5 145.0 309.7 145.0 309.4 147.0 313.0 148.8 316.6 153.0 314.0 154.2 313.0 156.8 311.0 158.2ZM383.4 143.0 383.0 141.4 381.2 142.0 382.0 143.5 383.4 143.0ZM294.0 144.5 294.0 142.3 294.8 143.0 294.0 144.5ZM305.0 146.3 304.0 146.8 303.1 146.0 305.0 144.8 305.0 146.3ZM238.0 151.1 237.0 151.0 236.3 148.0 238.0 145.7 240.0 145.8 241.5 147.0 240.6 150.0 238.0 151.1ZM299.0 152.3 298.0 152.8 292.6 148.0 295.0 146.1 296.0 147.0 299.0 146.1 301.4 150.0 299.0 152.3ZM274.0 150.3 272.8 150.0 272.4 149.0 273.0 148.4 274.6 149.0 274.0 150.3ZM372.2 156.0 376.4 151.0 374.0 148.5 373.0 153.0 371.4 155.0 372.2 156.0ZM386.1 150.0 385.0 149.0 383.8 150.0 385.0 150.6 386.1 150.0ZM216.0 152.6 215.2 152.0 216.0 150.9 216.8 152.0 216.0 152.6ZM311.2 154.0 311.7 152.0 311.0 150.8 308.1 153.0 310.0 154.5 311.2 154.0ZM457.0 158.0 453.9 153.0 454.0 150.6 457.0 152.6 457.7 158.0 457.0 158.0ZM250.2 157.0 251.3 156.0 251.0 155.0 249.3 154.0 248.0 151.4 247.0 151.7 249.0 157.6 250.2 157.0ZM259.0 156.5 258.6 155.0 260.0 154.0 260.3 155.0 259.0 156.5ZM416.7 155.0 416.0 153.1 415.8 155.0 416.7 155.0ZM240.0 173.2 237.1 173.0 236.8 171.0 239.0 169.0 240.5 165.0 240.3 160.0 243.0 156.3 245.0 159.4 247.8 160.0 245.5 163.0 248.3 165.0 248.2 166.0 245.0 164.6 243.5 165.0 245.0 167.3 245.1 169.0 248.0 169.6 248.2 171.0 247.0 172.1 245.0 171.2 244.9 169.0 242.0 167.3 241.1 168.0 241.1 170.0 239.9 171.0 240.5 172.0 240.0 173.2ZM216.0 159.0 215.0 159.2 215.0 157.5 216.3 158.0 216.0 159.0ZM316.0 162.2 313.0 161.8 312.5 161.0 314.0 157.5 316.5 158.0 317.0 161.0 316.0 162.2ZM398.1 160.0 398.7 159.0 398.0 157.8 393.5 160.0 397.0 160.8 398.1 160.0ZM390.7 163.0 389.0 161.9 388.1 163.0 390.7 163.0ZM406.3 194.0 406.9 192.0 410.0 191.3 410.7 189.0 406.4 181.0 407.9 176.0 409.3 175.0 409.3 174.0 407.7 172.0 409.0 170.9 412.8 170.0 413.5 165.0 412.4 163.0 410.0 161.5 406.0 162.7 400.0 161.2 398.2 162.0 397.8 163.0 401.0 164.1 397.1 166.0 397.0 167.2 395.0 168.5 394.6 170.0 396.0 172.5 400.0 173.0 398.8 175.0 401.6 180.0 401.1 182.0 399.6 183.0 400.0 187.0 402.3 189.0 402.0 190.2 400.3 191.0 403.0 193.5 406.3 194.0ZM462.0 166.0 462.0 164.0 461.0 163.0 462.0 161.9 463.9 163.0 464.0 164.0 462.0 166.0ZM252.0 164.1 250.0 164.8 249.3 163.0 251.0 162.1 252.1 163.0 252.0 164.1ZM236.0 167.4 235.0 167.7 234.0 166.8 235.0 164.1 236.0 163.7 238.0 165.2 239.8 165.0 240.0 166.0 238.0 166.2 236.0 167.4ZM391.1 167.0 391.0 165.4 390.0 165.8 390.0 167.4 391.1 167.0ZM266.0 170.4 264.0 170.6 262.5 169.0 266.0 167.8 266.9 169.0 266.0 170.4ZM442.0 172.1 441.2 171.0 442.0 170.3 446.7 169.0 445.0 171.4 442.0 172.1ZM268.0 190.7 266.1 189.0 265.9 187.0 265.0 186.8 263.0 188.3 262.5 187.0 267.0 182.7 271.0 183.3 272.2 181.0 269.0 178.1 266.0 180.9 262.3 180.0 263.1 181.0 262.0 182.4 260.0 182.2 258.9 181.0 261.0 177.6 261.2 174.0 263.0 173.7 265.0 176.1 265.8 174.0 268.4 172.0 269.0 170.0 270.0 170.7 270.7 174.0 269.0 176.0 270.7 176.0 270.2 175.0 271.0 174.3 273.0 174.9 273.2 177.0 274.7 179.0 274.4 181.0 276.4 183.0 276.4 184.0 276.1 186.0 275.0 187.0 273.0 186.8 272.0 189.2 270.0 189.2 268.0 190.7ZM308.0 180.5 306.0 179.4 305.6 178.0 308.0 175.8 309.0 170.9 311.0 169.7 311.9 170.0 311.7 175.0 310.0 176.2 309.0 179.8 308.0 180.5ZM255.0 172.2 253.9 172.0 254.0 170.0 255.9 171.0 255.0 172.2ZM259.0 174.3 257.7 174.0 258.0 172.0 259.0 171.5 260.0 171.8 260.1 173.0 259.0 174.3ZM405.0 177.6 403.0 177.3 402.6 173.0 405.0 171.0 406.6 176.0 405.0 177.6ZM249.0 177.3 247.5 177.0 248.0 172.3 250.1 175.0 250.2 176.0 249.0 177.3ZM289.0 175.1 286.6 175.0 285.3 174.0 289.0 172.7 289.5 174.0 289.0 175.1ZM324.0 181.4 323.0 181.6 321.0 179.9 319.0 181.5 318.7 180.0 321.9 176.0 322.0 174.0 324.0 172.9 325.8 174.0 326.2 178.0 324.0 181.4ZM301.0 179.1 298.5 177.0 299.0 174.4 300.0 173.9 302.0 174.2 302.4 175.0 301.0 179.1ZM282.0 181.8 281.0 181.9 279.0 180.4 278.0 181.3 277.0 181.1 276.1 179.0 282.0 176.2 283.3 179.0 282.0 181.8ZM292.0 179.2 289.2 179.0 290.0 176.7 291.0 176.3 292.8 177.0 292.0 179.2ZM340.0 182.1 339.0 182.2 337.8 180.0 339.1 180.0 340.0 182.1ZM286.0 187.3 284.0 186.0 283.0 183.0 286.0 182.3 290.1 184.0 289.7 186.0 286.0 187.3ZM260.0 192.5 255.0 192.2 252.0 189.3 252.0 188.0 255.0 185.7 257.0 186.3 259.0 183.3 260.0 184.0 260.6 186.0 260.1 189.0 260.8 191.0 260.0 192.5ZM383.0 195.0 379.0 195.0 378.1 194.0 378.2 193.0 379.9 192.0 379.4 190.0 376.0 188.0 377.0 186.2 380.0 184.6 384.3 187.0 385.1 190.0 383.7 192.0 383.0 195.0ZM322.0 187.1 321.0 185.7 322.6 186.0 322.0 187.1ZM357.0 190.3 354.6 188.0 355.0 186.6 357.1 187.0 357.7 190.0 357.0 190.3ZM280.0 189.3 279.8 188.0 281.0 187.5 281.0 188.7 280.0 189.3ZM306.0 200.0 303.6 199.0 302.2 194.0 300.6 193.0 300.9 192.0 304.0 191.2 306.0 193.4 306.1 192.0 309.4 188.0 311.0 187.5 312.0 188.1 312.3 190.0 311.0 192.4 309.3 193.0 309.4 194.0 310.0 195.0 311.0 193.5 312.0 193.5 314.9 195.0 314.7 198.0 311.0 199.2 309.0 197.1 306.0 200.0ZM460.8 191.0 460.0 188.2 458.1 189.0 460.0 191.9 460.8 191.0ZM274.0 193.2 272.5 193.0 273.0 189.9 275.0 191.9 274.0 193.2ZM284.0 194.3 284.0 191.9 284.9 193.0 284.9 194.0 284.0 194.3ZM363.0 194.2 361.8 194.0 362.0 192.8 363.7 193.0 363.0 194.2ZM263.0 213.4 258.0 213.9 257.3 211.0 257.8 209.0 255.3 207.0 255.6 205.0 253.6 203.0 252.9 201.0 254.0 200.4 255.8 201.0 257.4 205.0 259.0 206.4 260.3 206.0 258.9 204.0 259.2 203.0 263.0 200.9 264.0 199.0 261.0 198.7 258.0 200.3 256.5 199.0 256.7 197.0 260.0 196.2 262.0 194.4 265.0 194.7 268.0 193.4 272.9 196.0 270.0 200.6 267.0 198.5 264.1 199.0 266.0 200.5 266.8 203.0 266.0 204.4 264.0 203.5 262.6 204.0 261.0 211.0 264.0 210.5 264.3 212.0 263.0 213.4ZM372.0 195.3 370.0 195.4 369.6 194.0 371.0 193.4 372.8 195.0 372.0 195.3ZM292.0 208.5 291.0 208.1 290.9 206.0 289.7 204.0 290.0 202.0 287.0 200.0 286.0 202.3 283.7 199.0 284.0 198.4 286.0 198.5 288.8 195.0 290.0 194.5 290.6 197.0 291.8 198.0 291.1 200.0 293.4 203.0 292.4 205.0 293.2 207.0 292.0 208.5ZM431.0 196.0 430.0 196.0 430.2 195.0 431.3 195.0 431.0 196.0ZM276.0 200.7 275.0 196.7 276.0 196.7 277.2 198.0 276.0 200.7ZM404.5 203.0 405.0 202.0 404.5 200.0 407.1 198.0 407.0 196.9 404.0 199.6 402.0 198.8 400.1 200.0 402.0 203.4 404.5 203.0ZM380.0 200.4 379.0 200.0 380.0 197.9 380.7 200.0 380.0 200.4ZM373.0 201.0 371.6 200.0 372.0 199.2 373.7 201.0 373.0 201.0ZM398.2 201.0 399.0 200.0 398.0 199.4 397.0 199.2 396.2 200.0 397.0 201.6 398.2 201.0ZM316.0 211.3 314.0 209.9 311.0 209.4 310.3 208.0 314.0 207.1 315.1 206.0 312.7 204.0 312.6 203.0 315.0 202.4 316.0 200.3 317.0 200.1 317.0 204.6 318.3 206.0 316.4 208.0 316.8 210.0 316.0 211.3ZM276.0 203.3 275.3 203.0 276.0 201.2 277.1 202.0 276.0 203.3ZM376.0 204.0 375.0 203.9 374.0 202.0 376.0 202.3 376.0 204.0ZM296.0 207.2 294.3 206.0 295.0 204.0 298.0 203.4 299.0 202.5 300.5 204.0 296.0 207.2ZM320.0 205.5 318.8 205.0 319.3 203.0 321.0 202.6 321.3 204.0 320.0 205.5ZM248.0 209.3 247.2 209.0 249.0 203.7 252.0 205.9 252.1 207.0 248.0 209.3ZM276.0 220.7 275.0 220.9 273.0 219.0 274.3 216.0 274.1 212.0 272.7 209.0 275.0 207.5 278.0 208.3 278.4 210.0 280.2 212.0 277.0 213.4 275.7 213.0 275.5 216.0 276.6 218.0 276.0 220.7ZM292.0 237.2 288.6 237.0 288.0 236.0 288.7 234.0 288.0 232.3 287.0 231.9 285.0 232.6 284.0 231.7 282.8 232.0 282.6 233.0 284.0 234.8 287.0 236.0 286.0 236.8 283.0 235.7 281.0 236.0 276.4 233.0 278.0 232.4 280.0 229.7 282.0 229.6 284.0 230.6 285.8 229.0 286.0 227.0 285.0 225.7 280.1 225.0 280.0 224.0 283.0 222.3 283.6 221.0 282.0 219.8 281.3 218.0 284.0 212.8 289.7 214.0 287.4 217.0 288.0 217.7 291.0 217.0 290.3 214.0 291.0 213.1 294.0 212.9 296.0 210.7 298.0 210.4 302.0 207.3 303.0 207.5 304.7 209.0 301.0 212.2 299.0 211.6 297.0 213.3 294.4 214.0 291.6 219.0 289.0 219.4 288.0 221.4 288.1 223.0 293.2 227.0 292.0 229.0 291.9 231.0 294.0 231.7 294.3 233.0 293.0 234.1 292.0 237.2ZM327.0 215.3 326.0 215.5 324.9 214.0 325.0 210.0 328.0 207.6 329.0 207.8 329.0 209.3 327.3 210.0 326.1 212.0 327.5 214.0 327.0 215.3ZM290.0 211.7 287.6 210.0 288.0 208.9 289.6 209.0 290.6 210.0 290.0 211.7ZM357.0 211.3 355.7 210.0 356.0 208.3 358.1 210.0 357.0 211.3ZM249.0 219.1 245.0 216.5 246.4 213.0 245.0 211.9 243.4 212.0 243.6 211.0 246.0 209.9 247.0 211.1 251.0 212.2 252.3 215.0 250.0 218.7 249.0 219.1ZM353.0 215.0 350.5 215.0 349.1 212.0 349.5 211.0 351.0 210.6 353.0 212.0 354.5 214.0 353.0 215.0ZM279.0 216.4 277.9 215.0 278.0 213.0 279.8 215.0 279.0 216.4ZM257.0 216.7 256.0 216.8 256.0 214.7 258.0 215.0 257.0 216.7ZM301.0 228.3 299.0 225.1 295.0 224.2 294.0 225.2 291.8 224.0 296.0 220.0 299.0 219.3 302.0 217.5 306.0 219.4 307.6 222.0 306.0 223.3 299.0 221.5 299.0 223.9 301.4 226.0 301.0 228.3ZM361.8 221.0 361.0 219.7 360.1 221.0 361.0 221.6 361.8 221.0ZM395.0 225.4 392.5 224.0 394.0 221.4 395.4 224.0 395.7 225.0 395.0 225.4ZM423.0 223.1 421.9 223.0 422.0 222.0 423.0 221.6 423.5 222.0 423.0 223.1ZM277.0 229.2 272.0 228.5 270.9 226.0 273.0 223.7 274.0 223.9 274.3 225.0 277.0 225.6 278.4 227.0 278.8 228.0 277.0 229.2ZM373.4 233.0 374.0 232.0 373.3 230.0 374.7 227.0 377.9 226.0 378.6 224.0 376.0 223.5 374.0 225.6 371.3 226.0 371.4 231.0 373.4 233.0ZM307.0 234.6 304.7 233.0 305.6 231.0 305.0 225.8 306.0 225.8 309.5 229.0 308.0 234.0 307.0 234.6ZM317.0 230.1 313.4 229.0 316.0 225.7 317.0 225.6 318.2 227.0 318.0 229.3 317.0 230.1ZM365.4 234.0 365.7 232.0 364.7 229.0 366.2 227.0 365.0 225.7 362.2 227.0 361.4 231.0 363.0 234.3 365.4 234.0ZM405.0 230.2 403.1 229.0 404.0 226.0 405.4 227.0 405.0 230.2ZM422.0 228.3 420.0 228.8 415.0 227.4 414.8 226.0 419.0 225.7 421.9 227.0 422.0 228.3ZM349.1 243.0 348.1 239.0 350.8 237.0 351.0 235.0 345.0 227.6 343.4 229.0 344.4 230.0 344.1 236.0 343.3 238.0 345.8 240.0 344.3 243.0 346.0 243.7 349.1 243.0ZM368.4 231.0 370.9 229.0 368.9 229.0 366.6 231.0 367.0 231.5 368.4 231.0ZM397.0 238.1 396.0 238.0 395.7 237.0 398.0 228.6 399.0 231.0 399.0 235.0 398.5 237.0 397.0 238.1ZM418.0 233.1 417.0 233.1 416.6 232.0 418.0 229.3 419.0 229.7 419.4 231.0 418.0 233.1ZM305.0 239.2 303.0 239.4 300.6 237.0 299.7 232.0 303.2 232.0 303.5 234.0 307.0 236.4 307.1 238.0 305.0 239.2ZM401.0 246.1 399.9 245.0 401.8 243.0 400.7 241.0 401.3 238.0 400.5 235.0 402.0 233.0 405.2 234.0 406.8 240.0 405.1 243.0 402.7 244.0 401.0 246.1ZM276.0 238.3 272.3 236.0 272.3 234.0 274.0 233.3 274.9 236.0 276.3 237.0 276.0 238.3ZM341.8 235.0 340.0 233.9 338.5 235.0 340.0 236.0 341.8 235.0ZM310.0 236.3 307.3 236.0 308.0 234.0 310.0 235.0 310.0 236.3ZM361.7 237.0 361.9 236.0 361.0 235.3 360.0 235.0 358.6 236.0 360.0 237.4 361.7 237.0ZM419.0 236.4 417.8 236.0 418.0 235.3 419.6 236.0 419.0 236.4ZM326.0 243.2 324.0 243.2 324.2 242.0 325.0 241.4 326.0 241.9 326.0 243.2ZM359.0 244.3 357.6 243.0 359.0 241.2 360.2 243.0 359.0 244.3ZM420.0 246.4 417.0 244.2 415.0 244.6 413.6 244.0 416.0 242.2 420.0 243.4 421.0 244.0 420.0 246.4ZM430.0 255.5 429.0 255.2 428.3 253.0 428.5 251.0 430.8 249.0 430.5 248.0 429.0 247.5 428.0 248.0 427.6 250.0 426.0 251.3 423.5 250.0 423.7 247.0 424.0 245.6 425.0 245.1 426.0 247.4 427.2 246.0 429.0 245.5 431.0 242.4 432.6 243.0 433.9 245.0 434.0 246.0 433.0 246.2 431.1 250.0 431.5 251.0 433.0 251.2 433.7 253.0 431.0 254.0 430.0 255.5ZM371.0 245.7 370.0 245.8 369.7 245.0 372.0 243.9 372.0 245.0 371.0 245.7ZM436.0 250.8 434.2 250.0 433.5 248.0 434.3 245.0 436.0 243.6 436.0 250.8ZM409.0 255.3 407.0 255.1 406.7 254.0 406.5 250.0 408.0 246.7 409.6 248.0 410.4 253.0 410.4 254.0 409.0 255.3ZM322.0 254.3 320.1 254.0 320.0 253.0 321.0 252.4 323.0 252.9 323.7 250.0 326.0 248.7 327.5 249.0 329.0 252.2 325.0 253.3 323.0 253.1 322.0 254.3ZM416.0 252.0 414.0 251.0 415.7 251.0 416.0 252.0ZM333.0 253.1 332.0 253.7 331.4 253.0 332.0 252.1 333.0 253.1ZM367.0 255.7 366.8 254.0 368.0 253.9 367.0 255.7ZM423.0 256.8 422.3 256.0 423.0 254.8 424.0 254.8 423.0 256.8ZM324.0 259.1 322.7 258.0 323.0 255.8 327.0 255.6 325.9 258.0 324.0 259.1ZM421.0 259.3 419.0 259.9 416.0 259.0 414.5 256.0 416.0 255.5 416.1 257.0 417.0 257.7 422.0 256.4 422.7 257.0 421.0 259.3ZM431.0 258.6 430.4 257.0 431.0 256.8 431.6 258.0 431.0 258.6ZM405.0 259.3 403.9 258.0 405.0 257.5 405.6 258.0 405.0 259.3ZM401.0 260.3 400.2 260.0 400.0 258.8 401.1 259.0 401.0 260.3ZM436.0 284.5 434.0 284.7 433.2 284.0 432.5 280.0 430.9 279.0 432.0 278.0 433.0 278.9 434.0 278.4 433.0 275.0 434.0 274.1 438.0 275.2 442.0 270.7 442.8 271.0 444.0 274.9 447.0 272.7 449.0 271.8 450.0 272.2 451.4 276.0 451.0 277.8 449.0 278.3 447.0 277.0 439.0 276.7 437.6 278.0 438.8 280.0 436.0 284.5ZM455.0 290.0 454.0 290.2 452.0 289.0 451.9 285.0 449.9 284.0 447.4 280.0 448.0 279.5 451.0 279.5 452.8 281.0 453.2 283.0 455.3 286.0 455.0 290.0ZM446.0 300.5 443.6 299.0 444.6 297.0 443.5 293.0 444.0 291.7 448.0 290.5 448.9 292.0 445.3 297.0 446.8 299.0 446.0 300.5ZM453.0 296.3 451.0 295.3 451.1 293.0 452.0 292.1 453.4 293.0 453.0 296.3ZM450.0 304.4 447.5 303.0 450.0 301.0 450.0 298.8 451.6 301.0 450.0 304.4ZM462.0 304.2 461.0 304.8 460.3 304.0 461.0 300.7 462.0 304.2Z"/>
<path fill="#008C00" fill-rule="evenodd" d="M178.0 70.0 176.3 70.0 175.9 69.0 178.0 67.4 179.2 68.0 178.0 70.0ZM218.0 76.0 214.0 75.8 213.0 75.0 213.0 73.0 214.0 72.1 218.3 72.0 218.0 76.0ZM179.0 75.5 177.4 75.0 179.0 72.5 179.9 74.0 179.0 75.5ZM490.0 78.0 489.1 78.0 489.0 75.7 492.0 75.3 490.0 78.0ZM251.0 87.2 249.1 87.0 251.9 85.0 253.0 83.3 255.7 82.0 256.5 80.0 259.0 80.0 258.4 82.0 259.4 84.0 259.0 85.4 257.0 84.4 255.0 86.0 253.0 85.5 251.0 87.2ZM213.0 89.6 213.0 88.0 217.3 86.0 216.7 84.0 213.8 82.0 216.0 80.1 218.1 82.0 218.3 87.0 217.9 88.0 215.0 88.4 213.0 89.6ZM458.0 92.0 456.0 91.0 458.0 87.0 460.0 86.0 460.2 90.0 458.0 92.0ZM454.0 91.7 453.0 91.4 453.0 89.8 454.5 90.0 455.0 91.0 454.0 91.7ZM209.0 94.7 207.3 94.0 207.7 92.0 209.0 91.0 210.1 92.0 209.0 94.7ZM229.0 93.6 227.7 92.0 229.0 90.5 229.9 92.0 229.0 93.6ZM252.0 92.4 250.8 92.0 251.0 90.6 252.1 91.0 252.0 92.4ZM248.0 95.6 246.0 95.3 244.4 94.0 245.3 92.0 248.9 93.0 249.0 94.8 248.0 95.6ZM259.0 97.4 258.0 97.8 256.4 97.0 256.9 94.0 258.0 93.4 259.3 94.0 259.0 97.4ZM456.0 100.6 450.0 98.2 448.0 98.2 447.2 97.0 449.0 96.7 450.7 94.0 451.4 94.0 451.1 96.0 453.0 97.6 454.0 98.1 456.0 97.5 457.0 98.3 457.4 99.0 456.0 100.6ZM231.0 102.1 225.7 102.0 227.0 100.2 231.3 99.0 232.0 95.8 234.0 96.1 235.0 98.5 233.0 101.0 231.0 102.1ZM295.0 98.5 293.1 98.0 294.0 96.5 295.1 97.0 295.0 98.5ZM480.0 115.1 473.0 114.3 470.5 112.0 469.0 107.4 468.0 107.0 468.2 106.0 465.2 103.0 468.9 100.0 468.4 98.0 469.1 97.0 473.0 96.4 476.9 97.0 477.3 98.0 475.0 99.4 474.0 101.0 476.1 103.0 471.0 102.9 469.2 104.0 469.1 105.0 470.0 106.2 472.0 105.9 478.0 108.6 481.0 108.5 480.9 114.0 480.0 115.1ZM216.0 102.0 215.0 102.3 214.0 101.0 214.0 98.3 216.3 100.0 216.0 102.0ZM441.0 107.2 439.0 107.1 438.0 107.9 438.0 106.0 436.8 105.0 441.8 101.0 442.0 99.5 443.0 98.8 443.3 100.0 442.2 102.0 442.6 105.0 441.0 107.2ZM456.0 102.9 454.2 102.0 456.0 101.7 456.0 102.9ZM247.0 111.3 245.9 111.0 245.7 110.0 246.9 108.0 247.0 106.0 248.0 103.6 250.0 102.7 250.7 104.0 250.0 106.4 247.4 108.0 247.9 110.0 247.0 111.3ZM245.0 105.2 244.0 105.7 243.3 105.0 244.0 103.9 245.0 105.2ZM458.0 105.0 457.0 104.0 458.0 103.4 458.0 105.0ZM287.0 107.7 286.4 107.0 287.0 105.4 287.7 107.0 287.0 107.7ZM462.0 112.7 461.0 112.7 459.2 109.0 461.9 107.0 465.0 106.3 465.0 108.0 462.0 112.7ZM210.0 109.8 208.2 109.0 208.7 108.0 211.0 107.4 210.0 109.8ZM232.0 110.6 230.0 110.1 229.4 109.0 230.0 108.0 232.9 108.0 232.0 110.6ZM275.0 112.8 271.3 112.0 270.7 110.0 268.7 108.0 275.0 107.5 275.5 110.0 275.0 112.8ZM270.0 117.9 267.8 117.0 265.0 112.0 263.5 112.0 264.0 111.3 265.0 112.0 268.0 110.9 271.0 112.5 271.9 115.0 270.0 117.9ZM450.0 113.3 447.0 113.6 446.5 112.0 450.0 110.4 450.7 112.0 450.0 113.3ZM461.0 116.0 460.0 116.2 459.0 115.3 459.0 112.9 460.6 113.0 461.0 116.0ZM286.0 121.2 285.0 120.0 285.6 118.0 284.8 116.0 287.0 113.6 288.7 115.0 288.6 116.0 286.5 118.0 286.0 121.2ZM445.0 122.7 442.0 122.1 439.8 119.0 439.1 116.0 440.0 114.5 441.7 115.0 443.1 117.0 445.0 118.0 444.4 120.0 445.6 122.0 445.0 122.7ZM435.0 120.2 433.9 120.0 435.0 115.3 436.2 116.0 435.3 118.0 435.9 119.0 435.0 120.2ZM251.0 121.3 250.0 121.8 246.0 121.2 244.0 119.6 248.0 116.8 251.0 121.3ZM276.0 121.3 272.4 120.0 276.0 117.1 277.0 117.3 278.0 119.0 277.0 120.9 276.0 121.3ZM424.0 119.0 423.0 119.1 422.2 118.0 423.9 118.0 424.0 119.0ZM426.0 119.5 425.1 118.0 426.0 117.0 427.3 118.0 426.0 119.5ZM459.0 125.2 457.0 125.8 456.3 124.0 459.0 123.1 459.0 125.2ZM450.0 137.7 448.0 135.6 444.0 135.3 442.0 133.0 440.0 134.1 438.2 134.0 437.5 131.0 436.0 129.7 435.0 129.9 434.3 127.0 435.0 126.3 439.3 127.0 440.0 123.7 442.0 125.3 445.4 125.0 446.4 126.0 446.1 127.0 448.5 129.0 449.2 134.0 451.4 136.0 450.0 137.7ZM448.0 125.5 446.4 125.0 448.0 124.6 448.6 125.0 448.0 125.5ZM297.0 130.4 295.7 128.0 297.0 126.8 298.0 127.2 298.8 129.0 297.0 130.4ZM425.0 130.2 423.7 128.0 424.0 126.7 426.0 126.8 427.0 128.0 426.0 130.0 425.0 130.2ZM251.0 129.1 249.0 129.8 247.6 129.0 247.8 128.0 251.0 128.0 251.0 129.1ZM387.0 131.1 385.2 129.0 387.0 127.2 389.3 129.0 387.0 131.1ZM392.0 133.7 391.0 133.6 390.1 132.0 391.2 130.0 390.9 129.0 394.0 127.9 395.9 131.0 392.0 133.7ZM431.0 130.6 428.3 130.0 428.0 129.0 430.0 127.3 432.1 128.0 431.0 130.6ZM445.6 129.0 445.7 128.0 445.0 127.7 443.5 129.0 445.0 129.7 445.6 129.0ZM266.0 134.6 264.9 134.0 265.8 130.0 267.0 129.6 267.3 132.0 266.0 134.6ZM458.0 134.5 456.5 134.0 457.0 132.4 459.0 133.0 458.0 134.5ZM393.0 138.6 388.9 137.0 389.1 136.0 391.0 134.8 392.0 135.3 393.0 138.6ZM462.0 138.8 459.0 137.8 463.0 135.6 464.0 137.0 462.0 138.8ZM343.0 139.1 342.2 137.0 343.0 136.5 344.7 138.0 343.0 139.1ZM466.0 141.2 464.9 141.0 465.0 140.0 465.8 138.0 467.0 137.7 466.0 141.2ZM227.0 140.9 225.5 139.0 227.0 138.3 229.0 138.9 227.0 140.9ZM269.0 142.5 268.0 142.6 267.3 141.0 269.0 138.7 269.6 141.0 269.0 142.5ZM415.0 164.8 412.7 161.0 413.8 159.0 412.5 157.0 412.7 155.0 411.0 152.9 409.9 154.0 409.0 159.0 405.0 161.2 402.9 161.0 401.6 160.0 400.0 156.4 398.0 154.8 396.0 157.7 394.3 158.0 393.8 157.0 396.8 153.0 395.1 149.0 399.0 146.6 402.0 148.6 408.0 149.3 407.6 146.0 409.9 141.0 413.0 138.4 413.8 145.0 411.3 148.0 414.2 151.0 414.1 155.0 415.6 157.0 414.3 159.0 415.0 160.2 419.8 162.0 415.0 164.8ZM443.0 140.4 441.9 140.0 442.0 138.5 443.5 140.0 443.0 140.4ZM284.0 142.0 282.8 142.0 282.9 141.0 285.0 139.2 285.9 140.0 285.6 141.0 284.0 142.0ZM394.0 144.2 391.9 143.0 392.0 140.5 393.0 142.0 394.0 142.0 394.0 144.2ZM434.0 142.0 432.9 142.0 434.0 140.1 435.1 141.0 434.0 142.0ZM310.0 143.4 307.8 143.0 308.1 142.0 310.0 141.0 311.1 142.0 310.0 143.4ZM352.0 143.7 350.7 143.0 351.0 141.4 352.2 142.0 352.0 143.7ZM453.0 145.1 448.0 145.2 446.1 144.0 445.9 142.0 447.0 141.4 450.0 144.5 453.0 142.4 454.0 143.0 453.0 145.1ZM386.0 146.3 384.0 146.3 383.2 145.0 386.0 142.6 388.3 144.0 388.2 145.0 386.0 146.3ZM239.0 149.1 237.9 148.0 239.0 146.9 239.0 149.1ZM369.0 159.2 367.0 159.6 365.9 159.0 367.7 157.0 367.3 155.0 368.2 153.0 365.6 151.0 367.8 148.0 371.0 146.5 372.0 146.8 372.4 148.0 371.3 152.0 369.7 154.0 370.1 157.0 369.0 159.2ZM379.0 149.8 376.0 149.0 376.1 148.0 378.0 146.8 379.0 147.4 379.6 148.0 379.0 149.8ZM288.0 149.2 286.0 149.3 286.0 148.0 288.0 147.8 288.0 149.2ZM438.0 149.8 437.0 149.6 436.0 148.0 437.9 148.0 438.0 149.8ZM392.0 152.3 390.0 150.6 390.0 149.5 391.0 148.7 392.3 149.0 392.8 150.0 392.0 152.3ZM386.0 164.3 385.0 164.7 384.2 164.0 384.5 162.0 387.6 158.0 384.0 153.7 382.0 152.8 378.0 152.8 377.4 152.0 379.0 150.5 381.0 150.1 383.0 151.7 387.9 151.0 389.0 154.0 391.0 154.2 391.5 155.0 390.0 156.9 388.7 157.0 391.4 160.0 390.0 160.7 388.0 159.8 386.0 164.3ZM403.6 153.0 402.0 150.5 401.0 150.4 399.4 152.0 401.0 153.4 403.0 153.6 403.6 153.0ZM433.0 156.5 431.3 154.0 435.2 153.0 434.8 155.0 433.0 156.5ZM456.0 166.1 455.0 166.3 452.8 164.0 450.0 163.2 447.6 161.0 446.8 157.0 449.6 156.0 450.0 152.5 452.0 153.0 453.0 155.0 453.1 158.0 458.0 165.0 458.0 165.9 456.0 166.1ZM380.0 157.2 377.0 157.5 375.3 155.0 376.0 154.5 378.0 156.7 381.0 155.4 382.3 156.0 380.0 157.2ZM310.0 157.7 309.0 157.0 309.0 156.0 311.2 156.0 310.0 157.7ZM360.0 157.8 358.7 157.0 360.0 155.6 360.8 157.0 360.0 157.8ZM315.0 161.1 313.9 160.0 315.0 158.5 315.7 160.0 315.0 161.1ZM437.0 179.1 435.0 179.8 435.2 176.0 432.0 173.4 430.1 170.0 431.2 167.0 437.0 163.7 440.0 166.0 439.9 169.0 436.2 174.0 436.1 175.0 438.1 177.0 438.2 178.0 437.0 179.1ZM382.0 170.6 380.7 170.0 379.8 168.0 383.0 166.4 383.1 169.0 382.0 170.6ZM391.0 173.1 390.3 172.0 390.5 169.0 394.0 166.4 394.6 167.0 393.2 169.0 393.1 171.0 391.0 173.1ZM413.0 186.9 409.7 186.0 409.3 184.0 410.6 181.0 408.5 179.0 413.9 176.0 416.0 172.8 416.0 171.0 414.5 169.0 415.0 167.3 416.0 166.6 419.0 167.2 419.8 168.0 419.0 172.0 417.0 176.2 415.8 177.0 416.3 180.0 412.2 184.0 413.5 186.0 413.0 186.9ZM363.0 171.6 361.2 171.0 360.8 170.0 361.4 169.0 363.0 169.2 363.6 171.0 363.0 171.6ZM365.0 174.4 364.0 174.9 363.4 174.0 364.0 172.0 366.0 171.3 366.2 173.0 365.0 174.4ZM392.0 187.1 389.6 186.0 389.3 185.0 391.0 184.0 393.0 184.7 391.9 180.0 393.0 176.8 395.0 174.0 396.1 174.0 395.1 175.0 395.4 176.0 398.8 177.0 399.6 180.0 397.8 183.0 398.3 186.0 392.0 187.1ZM405.0 175.2 404.0 175.3 404.0 174.4 405.0 174.4 405.0 175.2ZM384.0 180.6 382.3 179.0 384.0 176.7 385.9 178.0 384.0 180.6ZM388.0 179.4 386.2 178.0 387.0 176.6 389.0 177.0 389.3 178.0 388.0 179.4ZM419.0 178.2 418.0 178.6 417.7 177.0 419.0 178.2ZM324.0 179.1 323.0 179.9 322.3 178.0 324.0 177.4 324.0 179.1ZM355.0 180.3 354.0 180.8 353.2 180.0 354.0 177.9 355.3 179.0 355.0 180.3ZM370.0 186.6 365.0 186.2 364.0 184.2 362.4 183.0 362.0 180.6 360.5 181.0 360.0 182.3 359.0 181.9 358.5 181.0 360.0 178.5 362.0 179.1 366.0 177.0 368.0 178.1 371.0 177.8 373.2 180.0 374.7 184.0 372.0 184.2 370.0 186.6ZM448.0 180.1 447.0 180.1 446.3 179.0 448.0 178.2 448.6 179.0 448.0 180.1ZM463.0 180.7 462.0 180.5 462.0 179.5 464.0 178.4 464.0 179.7 463.0 180.7ZM387.0 185.2 386.3 183.0 388.0 181.5 389.3 183.0 387.0 185.2ZM268.0 188.1 267.5 186.0 266.1 185.0 268.0 183.7 271.5 186.0 271.0 187.1 268.0 188.1ZM286.0 186.2 285.0 185.5 285.0 183.8 288.8 185.0 286.0 186.2ZM460.0 185.7 459.0 185.8 458.2 184.0 460.0 184.0 460.0 185.7ZM382.0 191.1 380.6 189.0 381.0 187.6 382.0 187.1 383.2 188.0 383.5 190.0 382.0 191.1ZM456.0 189.3 455.0 189.9 454.1 189.0 455.0 187.9 456.0 189.3ZM256.0 191.2 255.0 191.1 254.4 190.0 255.0 188.1 256.5 189.0 256.0 191.2ZM398.0 193.0 396.8 192.0 398.0 190.7 399.1 192.0 398.0 193.0ZM413.0 191.5 412.0 192.0 412.0 190.6 413.0 190.2 413.7 191.0 413.0 191.5ZM415.0 198.1 412.0 198.2 408.5 196.0 408.0 193.9 411.0 192.3 412.0 195.5 413.0 195.3 415.1 192.0 417.2 191.0 416.1 194.0 416.1 197.0 415.0 198.1ZM444.0 193.0 443.0 193.9 441.8 193.0 443.0 191.0 444.0 190.7 444.9 191.0 444.0 193.0ZM464.0 193.6 462.4 193.0 462.4 192.0 464.0 191.3 464.8 192.0 464.0 193.6ZM440.0 200.1 437.6 199.0 436.5 194.0 437.0 192.8 438.5 194.0 438.4 196.0 439.0 196.3 441.0 194.7 442.0 195.5 441.0 199.1 440.0 200.1ZM304.0 196.9 304.0 193.8 304.7 196.0 304.0 196.9ZM399.0 198.2 396.7 197.0 400.0 193.6 401.0 193.4 401.4 196.0 399.0 198.2ZM269.0 198.4 266.1 197.0 265.9 196.0 269.1 195.0 270.4 197.0 269.0 198.4ZM404.0 198.3 402.3 197.0 402.4 196.0 404.0 194.6 405.7 196.0 404.0 198.3ZM263.0 197.0 261.2 197.0 263.0 195.6 263.8 196.0 263.0 197.0ZM461.0 199.3 457.0 200.0 455.5 199.0 460.0 195.6 462.0 195.8 462.7 197.0 461.0 199.3ZM339.0 201.1 337.0 200.1 336.0 197.0 338.0 196.4 339.0 197.0 339.0 198.5 341.1 198.0 341.3 199.0 339.0 201.1ZM258.0 199.1 257.6 198.0 259.0 197.6 259.5 198.0 258.0 199.1ZM346.0 209.6 344.8 208.0 344.9 205.0 343.5 203.0 343.4 200.0 346.0 197.9 347.3 199.0 346.3 202.0 347.8 206.0 347.5 208.0 346.0 209.6ZM408.0 206.6 407.0 206.4 406.1 205.0 406.8 203.0 405.6 201.0 408.0 198.6 409.2 200.0 407.6 202.0 410.1 204.0 408.0 206.6ZM427.0 201.7 425.2 200.0 426.0 198.2 429.2 199.0 427.0 201.7ZM360.0 204.1 358.0 204.7 357.4 204.0 358.0 200.2 361.7 201.0 361.3 203.0 360.0 204.1ZM370.0 204.1 368.7 203.0 370.0 201.9 370.9 203.0 370.0 204.1ZM413.0 207.0 411.1 206.0 414.0 203.7 414.8 206.0 413.0 207.0ZM297.0 206.0 295.6 206.0 295.7 205.0 297.2 205.0 297.0 206.0ZM389.0 212.4 388.0 212.7 387.3 211.0 385.5 210.0 386.0 207.2 391.0 205.4 392.0 204.3 395.0 205.3 395.0 207.6 389.2 209.0 388.4 211.0 389.0 212.4ZM380.0 207.4 379.1 207.0 380.0 206.3 380.5 207.0 380.0 207.4ZM339.0 212.2 338.0 212.3 337.3 211.0 339.0 208.6 340.4 210.0 340.0 211.8 339.0 212.2ZM381.0 213.8 380.0 213.9 379.0 212.0 380.0 209.9 381.0 209.7 382.3 211.0 382.0 212.9 381.0 213.8ZM342.0 217.2 339.1 214.0 342.9 212.0 344.3 212.0 344.9 213.0 344.0 216.0 342.0 217.2ZM395.0 212.3 394.0 212.7 393.5 212.0 394.0 211.2 395.0 212.3ZM249.0 216.3 247.3 215.0 248.0 212.7 250.0 213.0 250.2 215.0 249.0 216.3ZM369.0 227.1 368.0 227.0 366.9 225.0 367.5 223.0 365.2 220.0 365.5 219.0 369.7 216.0 371.0 213.6 374.0 212.4 376.0 214.4 379.0 214.5 379.6 215.0 379.1 219.0 381.0 221.7 383.1 222.0 382.0 224.3 381.0 224.6 380.0 223.4 376.0 222.4 368.5 225.0 369.0 227.1ZM286.0 216.4 284.0 215.3 284.0 213.9 288.0 214.0 288.1 215.0 286.0 216.4ZM358.0 220.4 357.2 218.0 357.6 217.0 359.0 216.8 359.6 218.0 358.0 220.4ZM364.0 220.3 363.0 220.5 362.0 219.0 363.0 216.7 364.5 219.0 364.0 220.3ZM289.0 230.5 287.0 229.5 286.2 225.0 283.8 224.0 283.7 223.0 286.0 220.4 289.8 228.0 290.0 230.0 289.0 230.5ZM305.0 221.9 303.0 221.0 305.0 220.7 305.5 221.0 305.0 221.9ZM343.0 224.3 341.0 223.1 341.0 221.0 344.9 222.0 343.0 224.3ZM297.0 223.0 296.0 222.9 296.0 221.6 297.0 221.4 297.0 223.0ZM363.0 224.4 361.4 224.0 361.7 223.0 363.0 222.4 363.0 224.4ZM331.0 226.2 329.8 226.0 330.0 224.0 331.0 223.1 333.0 223.5 332.7 225.0 331.0 226.2ZM354.0 243.8 351.0 243.0 351.4 241.0 353.3 239.0 352.2 237.0 352.5 235.0 351.2 233.0 351.3 230.0 350.0 228.8 347.5 229.0 345.3 226.0 348.0 223.7 355.0 225.0 356.0 227.5 359.0 225.7 361.1 228.0 360.8 233.0 357.9 234.0 355.4 242.0 354.0 243.8ZM379.0 233.4 377.0 233.3 376.7 232.0 379.5 230.0 379.5 229.0 378.2 228.0 379.0 226.2 380.0 225.9 381.7 231.0 379.0 233.4ZM343.0 227.4 341.4 227.0 343.0 226.3 343.0 227.4ZM343.0 233.0 341.0 232.5 341.0 230.6 343.0 231.7 343.0 233.0ZM291.0 235.1 290.0 235.2 289.6 234.0 290.0 231.5 291.5 233.0 291.0 235.1ZM385.0 235.3 383.0 235.7 381.2 235.0 380.9 234.0 382.0 231.6 383.0 231.1 385.8 232.0 386.0 235.0 385.0 235.3ZM375.0 242.8 372.0 240.1 371.6 236.0 370.0 232.6 373.5 235.0 373.9 238.0 375.9 241.0 375.0 242.8ZM403.0 242.3 401.7 241.0 402.7 239.0 401.8 235.0 403.0 234.3 404.1 236.0 403.3 239.0 403.9 241.0 403.0 242.3ZM343.0 242.5 341.0 242.2 338.9 239.0 342.0 236.7 342.3 239.0 344.7 241.0 343.0 242.5ZM431.0 246.1 431.0 244.0 431.9 245.0 431.0 246.1ZM345.0 247.3 343.4 247.0 343.0 246.1 344.0 244.8 348.5 245.0 345.0 247.3ZM396.0 251.2 394.5 251.0 395.6 249.0 392.6 247.0 393.0 245.3 394.0 245.0 396.1 247.0 397.1 250.0 396.0 251.2ZM339.0 248.2 338.0 248.7 337.0 246.4 338.0 246.0 339.0 246.7 339.0 248.2ZM436.0 248.6 435.0 248.7 434.7 248.0 435.0 246.8 436.0 246.6 436.0 248.6ZM349.0 251.1 347.6 251.0 347.0 247.7 348.3 248.0 349.0 251.1ZM353.0 256.3 352.0 256.0 350.4 251.0 352.0 248.1 353.0 247.9 354.5 249.0 354.8 251.0 353.9 256.0 353.0 256.3ZM346.0 257.0 345.0 257.5 342.4 256.0 342.2 253.0 343.0 250.9 345.1 252.0 346.0 257.0ZM383.0 258.4 382.0 258.9 379.0 258.1 376.0 256.4 373.0 258.8 371.3 256.0 373.3 253.0 373.0 250.6 374.0 250.3 376.0 251.9 380.0 251.9 378.0 252.0 376.9 254.0 381.0 256.6 383.0 256.5 385.0 254.4 387.0 254.0 389.0 254.4 390.6 256.0 390.4 257.0 389.0 257.2 387.0 255.3 386.0 255.6 383.0 258.4ZM441.0 275.0 440.3 274.0 441.0 272.9 441.9 274.0 441.0 275.0ZM448.0 275.1 446.8 275.0 446.9 274.0 448.0 273.5 449.0 274.0 448.0 275.1ZM446.0 295.2 445.0 294.7 444.6 293.0 447.0 292.3 447.2 294.0 446.0 295.2Z"/>
<path fill="#FFFF00" fill-rule="evenodd" d="M175.0 72.2 173.7 71.0 174.0 69.0 172.3 67.0 174.0 64.6 176.3 66.0 174.1 69.0 175.7 71.0 175.0 72.2ZM170.0 69.7 168.5 69.0 169.0 67.4 171.6 68.0 170.0 69.7ZM205.0 75.7 203.0 74.1 201.0 74.2 200.2 73.0 201.0 72.2 204.0 72.6 206.0 71.3 207.1 73.0 205.0 75.7ZM221.0 77.5 220.0 77.8 218.0 75.0 221.0 73.8 221.0 77.5ZM210.0 81.4 209.0 81.6 208.3 79.0 213.0 75.3 215.0 75.7 214.0 77.8 212.0 77.5 211.7 80.0 210.0 81.4ZM184.0 77.1 182.9 77.0 184.0 75.6 184.9 76.0 184.0 77.1ZM194.0 83.1 192.8 83.0 193.0 79.9 194.6 82.0 194.0 83.1ZM276.0 83.3 274.0 83.7 273.5 83.0 274.0 80.0 276.1 80.0 276.0 83.3ZM294.0 87.2 293.0 87.2 291.0 85.3 288.0 86.6 287.0 86.3 285.7 82.0 288.0 81.0 293.0 82.4 295.1 86.0 294.0 87.2ZM261.0 84.1 258.0 83.6 258.0 81.2 262.0 82.2 262.3 83.0 261.0 84.1ZM175.0 85.0 173.7 84.0 174.0 82.1 175.0 82.2 175.0 85.0ZM198.0 86.3 194.9 86.0 196.5 83.0 199.2 83.0 199.3 85.0 198.0 86.3ZM247.0 86.5 245.0 86.5 243.8 85.0 245.0 82.8 247.0 82.7 248.7 84.0 247.0 86.5ZM283.0 84.7 281.0 84.9 279.7 84.0 279.6 83.0 280.0 82.6 283.6 84.0 283.0 84.7ZM209.0 89.2 207.0 89.6 206.1 89.0 204.6 86.0 205.0 85.0 208.0 84.7 208.6 86.0 208.2 87.0 209.5 89.0 209.0 89.2ZM257.0 88.3 256.2 87.0 257.0 85.7 258.3 87.0 257.0 88.3ZM195.0 88.4 193.7 88.0 194.0 86.4 195.0 87.2 195.0 88.4ZM267.0 92.6 265.0 92.2 263.1 90.0 266.0 87.0 267.7 89.0 267.8 92.0 267.0 92.6ZM194.0 101.1 193.0 100.7 192.0 97.8 190.0 97.7 189.0 99.1 188.0 99.1 185.9 96.0 184.0 95.0 182.3 96.0 185.0 98.3 182.0 99.5 181.0 99.5 179.0 97.2 177.0 97.1 176.2 96.0 179.0 93.1 180.0 90.0 181.0 89.9 183.0 92.9 186.0 93.1 188.0 94.4 189.5 91.0 190.0 90.3 191.0 90.6 193.0 95.2 197.4 98.0 197.0 99.8 194.0 101.1ZM201.0 91.6 199.9 91.0 201.0 90.0 201.5 91.0 201.0 91.6ZM261.0 93.2 260.3 92.0 260.9 91.0 262.0 90.9 261.0 93.2ZM229.0 95.3 228.0 95.9 227.0 95.2 227.0 93.6 229.3 94.0 229.0 95.3ZM255.0 95.1 253.0 95.0 253.0 93.9 254.0 93.4 256.0 94.0 255.0 95.1ZM259.0 97.9 256.5 95.0 260.0 95.2 260.6 96.0 259.0 97.9ZM297.0 97.3 296.9 96.0 298.0 94.9 299.6 95.0 299.0 96.5 297.0 97.3ZM207.0 100.5 206.2 99.0 208.0 95.6 207.0 100.5ZM203.0 98.7 201.5 98.0 202.0 96.3 203.5 98.0 203.0 98.7ZM225.0 103.3 223.7 103.0 223.3 100.0 225.0 97.5 227.5 101.0 225.0 103.3ZM243.0 101.1 242.0 100.9 241.9 100.0 243.0 98.6 244.0 98.6 244.3 100.0 243.0 101.1ZM267.0 104.1 266.0 104.4 263.0 103.1 261.0 101.2 259.3 102.0 258.8 104.0 257.0 104.7 255.6 104.0 255.3 102.0 258.0 98.3 259.0 98.1 260.0 99.3 263.0 98.1 266.4 100.0 267.0 104.1ZM284.0 109.5 283.0 109.9 281.7 109.0 280.3 105.0 283.3 101.0 286.0 98.9 287.0 99.1 287.8 104.0 286.4 107.0 285.0 107.1 284.0 109.5ZM234.0 107.1 232.2 107.0 231.7 106.0 233.6 103.0 232.9 101.0 234.0 99.4 235.2 100.0 235.7 103.0 234.0 107.1ZM230.0 102.2 229.0 101.0 230.5 101.0 230.0 102.2ZM291.0 106.8 290.0 106.8 288.4 104.0 290.0 102.4 291.0 102.3 292.3 104.0 291.0 106.8ZM222.0 105.7 221.8 104.0 223.0 103.9 222.0 105.7ZM201.0 108.5 199.0 108.0 195.9 105.0 198.2 105.0 201.0 107.5 201.0 108.5ZM232.0 144.4 231.0 144.7 229.0 141.9 228.0 143.3 225.2 142.0 225.0 139.8 227.1 138.0 227.0 137.2 226.0 137.1 224.0 137.9 221.0 137.0 218.0 139.8 216.0 140.1 213.0 142.4 206.6 142.0 205.7 140.0 206.8 137.0 206.1 133.0 203.7 128.0 204.9 124.0 214.0 123.3 215.5 121.0 211.9 116.0 208.6 113.0 206.3 107.0 204.8 106.0 205.0 104.5 207.0 105.9 213.0 106.4 214.0 107.1 218.2 114.0 221.0 116.4 222.5 119.0 224.3 128.0 224.0 129.1 222.0 128.3 221.3 129.0 223.0 130.8 226.5 130.0 228.0 127.8 229.0 128.2 230.9 131.0 230.8 132.0 228.8 133.0 229.1 135.0 230.0 135.8 234.0 136.7 236.0 138.3 238.0 137.9 239.0 135.9 242.0 136.8 241.0 131.0 241.3 128.0 242.0 126.9 244.0 127.0 244.4 129.0 243.2 132.0 244.7 135.0 244.0 136.8 242.0 137.2 240.0 142.1 238.0 140.5 233.0 142.2 232.0 143.0 232.0 144.4ZM242.0 114.2 241.2 114.0 242.7 110.0 242.4 109.0 245.0 105.4 247.4 106.0 250.0 110.6 252.0 110.3 252.5 111.0 251.0 113.3 249.0 111.7 246.4 111.0 246.4 109.0 245.0 108.3 243.6 113.0 242.0 114.2ZM230.0 112.0 227.0 110.0 227.0 107.4 230.0 106.5 230.8 107.0 230.9 110.0 230.0 112.0ZM280.0 136.3 276.2 135.0 275.0 132.2 277.0 128.9 279.0 129.4 280.0 124.0 282.0 120.2 284.0 120.0 287.0 121.7 289.4 120.0 290.0 118.0 291.0 120.5 294.9 114.0 294.3 111.0 292.9 110.0 293.2 109.0 296.0 106.7 298.0 108.6 300.0 108.8 299.0 111.8 297.0 112.8 295.7 115.0 297.0 117.5 298.5 118.0 296.3 122.0 293.3 124.0 294.4 126.0 294.0 126.8 290.0 126.2 288.5 131.0 287.0 132.3 287.1 130.0 286.1 129.0 284.0 129.0 282.2 131.0 281.4 135.0 280.0 136.3ZM194.0 109.1 193.0 109.1 193.0 107.5 194.3 108.0 194.0 109.1ZM442.0 111.2 440.6 110.0 441.0 108.8 442.5 110.0 442.0 111.2ZM238.0 133.7 236.0 133.1 230.3 128.0 233.0 124.9 232.9 123.0 232.0 122.4 227.0 124.2 226.0 123.0 226.6 122.0 230.7 120.0 229.9 115.0 230.7 114.0 232.0 114.5 232.8 116.0 234.6 116.0 233.9 112.0 238.0 109.5 237.7 112.0 239.8 115.0 239.7 117.0 242.0 118.3 245.0 116.7 246.6 118.0 245.1 120.0 245.0 123.7 243.0 123.0 239.9 124.0 239.9 131.0 238.0 133.7ZM279.0 115.9 277.0 114.5 276.1 112.0 278.0 109.5 280.3 113.0 279.0 115.9ZM268.0 114.6 266.5 114.0 266.9 112.0 266.4 111.0 267.0 110.8 267.2 112.0 268.5 113.0 268.9 114.0 268.0 114.6ZM285.0 114.3 283.6 114.0 284.0 111.4 285.5 112.0 285.9 113.0 285.0 114.3ZM446.0 119.2 443.0 118.8 441.0 114.6 439.0 115.2 437.0 114.7 436.4 114.0 437.0 112.5 442.0 112.1 443.2 115.0 447.1 117.0 447.2 118.0 446.0 119.2ZM206.0 116.6 203.3 115.0 203.8 114.0 205.9 114.0 206.0 116.6ZM195.0 117.3 193.0 117.3 191.7 116.0 192.0 115.3 193.0 114.9 195.7 116.0 195.0 117.3ZM435.0 116.5 434.9 115.0 436.0 115.0 435.0 116.5ZM427.0 124.2 426.0 124.4 424.9 123.0 424.6 120.0 425.6 119.0 424.5 117.0 425.0 116.0 428.2 116.0 427.7 118.0 429.3 122.0 427.0 124.2ZM256.0 118.0 255.0 118.5 254.2 117.0 256.0 116.6 256.0 118.0ZM440.0 119.0 437.7 119.0 439.0 117.4 440.5 118.0 440.0 119.0ZM422.0 121.1 421.0 121.0 421.0 119.3 422.0 119.1 423.4 120.0 422.0 121.1ZM260.0 128.3 258.8 127.0 258.5 124.0 260.0 121.0 261.3 127.0 260.0 128.3ZM277.0 127.3 273.2 127.0 276.0 125.5 277.1 126.0 277.0 127.3ZM272.0 131.6 271.0 131.5 270.4 130.0 272.0 127.7 272.9 128.0 272.8 131.0 272.0 131.6ZM215.0 136.0 218.0 134.0 215.0 133.2 213.8 135.0 215.0 136.0ZM267.0 135.9 265.5 135.0 266.0 132.7 267.7 134.0 267.0 135.9ZM461.0 135.9 459.0 135.0 459.0 133.0 460.6 133.0 462.0 134.0 461.0 135.9ZM321.0 235.1 318.0 235.9 312.0 235.2 311.4 230.0 309.4 229.0 308.0 226.9 306.4 229.0 303.0 229.1 301.0 227.9 300.0 225.9 298.0 225.5 295.0 223.3 291.7 224.0 287.0 229.0 285.8 229.0 285.4 228.0 287.7 226.0 287.4 223.0 286.0 220.4 284.3 221.0 283.0 225.2 281.5 224.0 282.8 222.0 282.0 221.2 279.8 222.0 280.6 226.0 282.5 229.0 280.0 229.7 278.5 228.0 278.8 223.0 276.9 219.0 279.5 218.0 279.9 217.0 277.0 216.3 276.4 214.0 274.4 212.0 273.3 206.0 274.0 205.2 278.0 207.9 279.0 207.5 280.0 205.8 282.6 204.0 281.0 200.0 278.4 200.0 277.6 202.0 276.0 203.1 274.0 201.2 270.0 203.1 267.7 203.0 267.0 202.0 269.0 202.0 269.5 201.0 269.0 199.7 268.0 199.4 266.0 200.8 262.0 200.5 257.0 197.9 255.3 195.0 252.5 193.0 253.5 191.0 249.0 188.3 249.0 186.9 251.0 187.8 251.5 186.0 251.3 184.0 250.0 182.5 247.0 182.3 246.0 179.8 240.2 180.0 237.3 179.0 237.0 177.8 238.0 176.3 242.0 176.4 243.8 175.0 242.2 173.0 243.0 171.3 245.0 171.8 246.2 171.0 245.0 169.6 243.0 170.1 242.0 169.2 239.4 164.0 239.7 163.0 245.0 158.0 248.9 156.0 248.1 154.0 250.8 152.0 253.1 148.0 250.5 144.0 252.0 144.0 253.0 145.6 255.0 146.1 257.3 145.0 256.3 142.0 257.0 140.1 263.3 138.0 261.0 137.5 261.0 135.9 264.0 135.8 269.0 138.2 269.5 140.0 268.3 144.0 265.6 147.0 266.0 147.6 269.0 147.7 270.4 149.0 266.0 150.8 261.0 158.2 254.7 165.0 253.5 168.0 253.2 169.0 255.0 170.6 257.9 171.0 256.7 175.0 258.4 178.0 258.3 181.0 260.0 182.6 262.0 182.2 263.7 184.0 266.0 184.8 269.0 188.7 271.0 189.4 276.0 194.7 279.0 194.6 284.0 197.3 287.0 196.9 289.0 198.0 294.7 199.0 294.4 200.0 290.6 201.0 290.7 202.0 293.0 203.9 298.0 200.7 299.9 205.0 301.0 205.7 303.2 203.0 304.0 198.4 308.0 201.5 309.0 199.7 312.0 199.1 321.0 200.1 321.6 201.0 321.0 204.5 319.0 205.8 315.8 206.0 318.0 207.2 318.7 210.0 315.4 212.0 314.8 214.0 315.9 218.0 313.1 220.0 313.2 223.0 314.0 224.1 318.0 221.9 319.8 223.0 318.0 223.6 315.1 226.0 314.5 228.0 312.4 230.0 314.0 230.7 315.4 228.0 319.0 226.2 322.0 222.7 323.0 219.2 324.0 223.0 326.0 225.0 324.1 228.0 324.4 230.0 322.0 232.0 321.0 230.8 317.1 233.0 320.0 233.4 322.0 232.0 322.3 234.0 321.0 235.1ZM291.0 146.3 287.0 146.6 286.3 146.0 289.0 143.1 291.0 142.9 294.0 138.3 296.0 138.0 296.5 139.0 291.0 146.3ZM283.0 146.8 282.6 145.0 283.2 143.0 282.5 141.0 287.0 140.3 287.9 142.0 285.0 143.2 283.0 146.8ZM275.0 144.6 273.9 144.0 275.0 143.6 275.6 144.0 275.0 144.6ZM366.0 224.1 364.9 224.0 364.8 220.0 364.0 218.9 361.0 219.1 359.0 217.0 356.0 219.7 353.0 220.6 351.0 219.0 352.5 217.0 352.1 216.0 349.0 217.3 345.4 215.0 344.9 213.0 348.0 209.9 349.4 207.0 348.7 204.0 344.2 199.0 344.9 197.0 347.0 196.4 351.0 197.3 356.0 195.0 358.0 196.4 359.4 199.0 357.0 199.7 355.0 198.8 353.3 201.0 353.4 204.0 354.7 205.0 356.0 208.3 359.6 206.0 357.8 203.0 359.0 201.2 361.0 200.9 361.7 200.0 361.1 198.0 362.1 196.0 360.8 195.0 361.0 192.3 362.4 191.0 362.8 188.0 364.0 187.4 365.0 187.9 365.6 191.0 372.7 197.0 370.1 200.0 367.1 206.0 369.1 207.0 369.4 208.0 367.3 212.0 369.0 214.0 370.0 217.3 371.0 217.1 374.1 213.0 372.3 210.0 372.1 209.0 373.7 206.0 371.9 202.0 378.0 200.8 378.5 200.0 377.0 197.8 373.2 197.0 374.2 195.0 377.0 193.3 380.0 195.2 383.0 193.8 383.7 196.0 382.0 199.2 385.0 201.2 388.0 200.9 389.0 199.0 387.0 197.4 386.8 196.0 389.0 192.9 391.8 192.0 392.0 191.2 394.0 191.4 394.0 190.3 392.8 190.0 392.0 190.9 386.0 186.0 383.9 186.0 383.1 185.0 384.0 183.5 385.0 182.7 386.5 184.0 387.0 185.6 388.0 185.9 389.2 185.0 389.9 182.0 392.0 180.3 397.0 179.3 398.0 176.0 400.2 175.0 400.1 171.0 401.0 169.7 403.1 170.0 404.0 166.4 405.0 167.4 406.0 171.6 407.0 172.4 409.0 172.4 410.0 169.0 407.5 167.0 407.5 165.0 410.0 161.4 414.0 158.7 415.2 160.0 415.3 163.0 412.4 166.0 414.2 167.0 415.0 169.7 416.0 170.4 419.0 168.8 421.0 170.0 419.6 172.0 420.0 173.8 421.0 173.5 423.0 171.0 419.9 165.0 420.0 163.8 422.9 161.0 420.6 158.0 422.0 156.0 421.0 155.2 418.0 155.2 416.7 154.0 416.0 150.6 412.0 148.2 410.0 151.4 408.0 151.0 406.0 152.1 403.0 149.5 398.0 150.6 395.0 149.6 393.6 151.0 394.0 152.0 396.0 152.0 400.0 154.2 401.0 152.3 403.9 153.0 403.9 154.0 401.1 156.0 399.0 160.1 398.0 160.4 396.3 159.0 395.0 156.7 394.0 156.7 391.3 159.0 390.5 163.0 394.0 166.4 396.0 166.2 397.4 167.0 395.6 169.0 395.1 174.0 394.0 174.2 392.1 171.0 393.2 170.0 393.0 168.7 391.0 169.6 389.0 168.3 386.3 168.0 386.0 167.0 388.4 165.0 388.0 163.3 384.1 166.0 384.0 167.0 380.0 168.1 375.1 164.0 374.0 164.0 372.0 166.1 371.0 165.8 370.8 163.0 367.7 160.0 367.8 157.0 369.0 156.3 368.4 158.0 371.5 159.0 374.4 156.0 372.0 151.5 371.0 151.3 368.0 153.7 366.0 152.6 363.0 153.9 361.0 152.7 359.4 154.0 359.0 156.4 357.1 155.0 356.3 153.0 354.3 153.0 355.9 156.0 355.2 158.0 352.0 159.0 354.6 162.0 352.0 164.0 352.9 166.0 352.0 169.0 352.3 171.0 355.7 171.0 357.4 169.0 357.7 168.0 355.6 166.0 355.2 164.0 357.2 162.0 357.0 158.9 358.0 158.9 360.0 160.0 359.9 163.0 361.0 164.7 363.0 163.5 364.6 166.0 364.2 168.0 362.3 169.0 365.0 171.2 368.0 171.4 369.1 173.0 366.0 176.6 363.1 175.0 362.0 172.9 361.0 172.4 360.3 173.0 360.3 177.0 356.5 179.0 356.0 180.7 360.0 181.2 363.0 178.9 364.0 181.0 362.3 183.0 361.1 187.0 359.0 187.8 357.5 187.0 356.9 184.0 354.0 181.1 350.0 180.9 348.0 183.5 346.6 182.0 348.0 177.7 348.6 179.0 350.0 179.6 352.0 178.9 353.0 179.4 354.3 178.0 354.0 177.0 351.1 175.0 351.7 172.0 350.2 169.0 348.7 168.0 349.0 164.0 347.9 161.0 348.4 159.0 347.0 158.1 346.4 156.0 347.0 154.9 349.0 157.9 350.0 157.3 351.0 154.2 353.7 153.0 352.0 152.2 349.0 152.1 348.0 153.6 345.8 151.0 346.0 147.5 347.0 147.0 350.0 147.8 353.0 146.2 359.0 147.5 359.9 150.0 361.0 150.2 373.0 148.3 375.0 149.0 375.3 152.0 377.0 154.0 378.3 151.0 381.0 148.5 382.9 150.0 383.5 153.0 380.7 154.0 379.4 158.0 381.0 159.0 380.5 161.0 382.0 161.6 382.6 160.0 381.2 159.0 382.8 157.0 384.0 157.5 386.0 162.8 387.0 162.6 388.0 161.0 387.0 158.5 388.0 158.5 389.0 160.3 390.0 159.9 390.9 159.0 389.7 156.0 391.0 155.0 393.0 155.2 393.3 154.0 390.9 150.0 389.0 149.7 387.0 151.1 385.9 151.0 385.0 147.6 386.0 148.8 389.0 146.8 392.0 146.7 395.0 148.4 400.0 145.1 405.0 146.9 409.0 146.9 411.0 146.5 414.0 143.4 415.0 143.4 417.0 145.7 425.8 146.0 428.0 149.3 431.0 146.6 434.2 146.0 431.7 150.0 435.0 152.1 436.1 151.0 435.1 147.0 441.0 146.1 441.3 147.0 439.7 150.0 440.1 151.0 441.0 152.0 444.0 151.4 446.0 152.9 447.0 152.6 447.8 151.0 447.0 149.6 444.9 149.0 444.7 147.0 447.0 146.4 449.0 147.9 450.0 147.5 450.6 149.0 450.0 151.0 448.0 153.4 446.0 153.1 445.6 155.0 447.0 156.7 449.0 154.5 451.0 156.4 451.7 155.0 450.9 153.0 452.0 153.0 453.0 155.0 453.1 158.0 456.1 161.0 458.1 165.0 458.9 170.0 461.0 171.0 462.0 172.7 464.0 182.4 465.0 183.3 469.0 183.6 469.8 185.0 469.8 187.0 466.7 189.0 467.0 190.0 469.4 191.0 468.0 194.0 466.0 194.2 462.0 192.7 460.0 194.5 459.0 194.4 457.6 193.0 458.0 187.0 453.0 185.7 449.0 185.2 446.0 186.7 442.0 185.3 434.0 187.2 426.0 186.1 424.3 184.0 424.9 183.0 427.8 183.0 427.4 181.0 425.5 179.0 426.3 177.0 425.0 174.6 424.0 174.7 422.0 177.3 421.0 177.5 420.0 175.4 419.0 175.8 418.1 179.0 416.0 182.0 412.0 182.3 411.0 181.4 409.0 181.9 408.2 181.0 408.7 180.0 412.0 177.5 415.0 178.0 415.0 176.2 413.0 175.6 412.0 176.7 409.0 176.9 404.0 174.8 403.0 177.4 400.7 179.0 399.5 184.0 397.1 187.0 398.0 188.3 401.0 188.7 401.2 190.0 397.0 192.6 395.0 193.0 395.0 194.9 396.0 195.3 398.0 193.7 400.0 193.6 403.0 196.4 406.0 196.4 409.1 193.0 409.0 190.9 411.0 189.5 414.0 189.9 415.0 193.2 417.9 195.0 417.0 196.6 415.8 197.0 417.0 198.1 417.0 199.1 416.0 199.8 413.0 199.6 410.0 200.9 407.6 200.0 407.1 201.0 408.0 203.0 410.0 201.3 413.1 203.0 411.0 204.0 412.2 208.0 408.0 207.9 405.0 206.8 404.0 208.0 404.7 210.0 408.9 212.0 406.0 217.0 404.0 218.2 399.0 217.9 395.3 216.0 391.0 215.3 389.5 213.0 390.4 212.0 390.0 210.8 388.7 211.0 388.4 214.0 387.0 214.0 383.5 209.0 382.0 207.5 381.0 207.6 378.1 209.0 379.0 212.0 385.5 214.0 384.2 218.0 382.0 218.5 382.2 216.0 380.0 215.3 378.0 213.1 375.8 216.0 375.0 219.3 372.0 220.0 370.0 218.2 368.8 219.0 368.7 220.0 371.9 223.0 366.0 224.1ZM332.0 146.9 332.0 145.0 332.9 146.0 332.0 146.9ZM251.0 149.2 246.5 149.0 249.0 146.8 250.0 146.8 251.5 149.0 251.0 149.2ZM293.0 149.9 291.4 149.0 291.7 147.0 293.0 146.3 294.0 146.7 294.2 148.0 293.0 149.9ZM289.0 151.0 286.0 150.3 283.0 151.6 281.5 149.0 283.0 147.2 286.0 149.3 290.0 150.0 289.0 151.0ZM415.0 155.3 412.9 155.0 414.0 152.8 415.9 154.0 415.0 155.3ZM456.0 157.0 454.0 152.2 455.8 154.0 456.0 157.0ZM408.0 159.2 406.4 158.0 407.0 156.5 410.0 154.4 411.6 155.0 412.6 156.0 410.0 156.4 408.0 159.2ZM425.7 162.0 425.8 161.0 423.4 161.0 425.0 162.7 425.7 162.0ZM429.5 161.0 428.0 160.2 426.1 161.0 428.0 161.9 429.5 161.0ZM380.6 164.0 380.4 163.0 378.0 161.7 378.0 163.0 379.0 164.0 380.6 164.0ZM403.0 166.2 402.0 164.9 403.4 162.0 405.0 161.2 406.1 162.0 405.8 163.0 404.1 164.0 403.0 166.2ZM253.2 166.0 252.8 163.0 251.0 163.0 250.6 166.0 252.0 166.8 253.2 166.0ZM343.0 165.1 341.6 165.0 343.0 163.9 343.0 165.1ZM339.0 171.8 335.7 170.0 338.0 166.9 339.5 171.0 339.0 171.8ZM454.0 170.0 455.6 169.0 456.0 168.0 455.3 167.0 452.7 168.0 454.0 170.0ZM238.0 174.1 237.0 175.0 236.3 173.0 238.0 172.6 238.0 174.1ZM339.0 175.1 337.4 174.0 339.0 172.4 339.5 174.0 339.0 175.1ZM373.0 192.1 371.0 192.6 370.4 192.0 371.0 190.0 369.0 188.0 370.0 184.5 367.9 183.0 373.0 177.5 377.0 177.2 380.0 172.5 380.8 174.0 380.8 177.0 380.0 181.0 377.2 185.0 378.6 188.0 376.7 188.0 375.8 186.0 376.2 185.0 375.0 184.0 374.0 185.0 373.8 188.0 372.3 190.0 373.0 192.1ZM372.0 175.0 371.4 174.0 372.0 173.7 372.8 174.0 372.0 175.0ZM386.0 178.2 384.0 178.3 383.6 177.0 385.0 176.4 387.6 177.0 386.0 178.2ZM448.7 178.0 447.0 176.3 445.4 177.0 447.0 178.3 448.7 178.0ZM455.6 183.0 454.0 180.6 450.0 179.6 449.0 180.9 450.0 183.0 453.0 182.2 455.6 183.0ZM422.0 186.2 421.0 186.6 419.1 185.0 420.0 182.0 422.0 181.0 422.6 182.0 422.0 186.2ZM366.8 196.0 366.0 194.8 364.3 196.0 366.0 196.8 366.8 196.0ZM401.8 201.0 401.0 200.3 400.4 201.0 401.0 202.0 401.8 201.0ZM422.0 203.1 421.0 203.2 421.0 202.2 422.0 202.2 422.0 203.1ZM380.1 205.0 380.7 204.0 379.0 203.3 378.4 204.0 380.1 205.0ZM329.0 212.1 327.6 210.0 328.7 208.0 328.1 205.0 329.0 204.8 330.0 205.0 330.3 206.0 330.1 210.0 329.0 212.1ZM326.0 208.2 323.0 208.7 321.3 208.0 320.9 207.0 322.2 206.0 324.3 206.0 326.0 208.2ZM345.0 210.3 343.1 208.0 345.0 205.6 346.4 207.0 345.0 210.3ZM365.6 208.0 366.0 206.6 364.0 206.9 362.7 208.0 364.0 208.9 365.6 208.0ZM289.1 213.0 289.3 212.0 288.0 211.1 287.5 213.0 288.0 213.7 289.1 213.0ZM365.1 215.0 361.7 213.0 361.4 215.0 362.0 215.5 365.1 215.0ZM322.0 216.1 319.5 216.0 319.4 215.0 321.0 214.4 322.0 215.0 322.0 216.1ZM412.0 216.2 410.0 216.8 409.6 216.0 411.0 215.4 412.0 216.2ZM347.0 230.8 343.8 226.0 344.0 224.5 345.7 223.0 343.4 222.0 342.9 218.0 344.0 217.4 346.4 219.0 346.0 221.5 352.4 224.0 351.0 225.7 349.0 226.3 347.0 230.8ZM412.0 222.5 410.9 222.0 411.0 220.5 412.4 221.0 412.0 222.5ZM329.0 225.6 327.5 224.0 327.3 222.0 328.0 221.6 329.0 221.6 329.7 223.0 329.0 225.6ZM305.0 226.0 305.4 224.0 304.0 223.9 303.4 225.0 304.0 227.0 305.0 226.0ZM424.0 227.5 422.6 227.0 423.0 225.4 424.0 225.2 424.4 226.0 424.7 227.0 424.0 227.5ZM377.0 231.2 375.6 230.0 375.8 229.0 378.0 227.4 379.2 228.0 379.6 230.0 377.0 231.2ZM395.0 228.5 393.3 228.0 394.0 227.2 395.5 228.0 395.0 228.5ZM410.0 228.6 409.0 228.4 409.0 227.4 410.0 227.2 410.7 228.0 410.0 228.6ZM432.0 230.1 431.3 229.0 433.5 229.0 432.0 230.1ZM355.0 234.2 349.9 233.0 352.0 230.6 353.0 230.6 356.7 233.0 355.0 234.2ZM364.0 240.7 363.0 240.5 362.5 239.0 363.0 236.1 364.2 237.0 363.1 236.0 363.0 233.0 365.0 233.1 367.0 235.9 368.0 236.0 371.8 231.0 373.2 231.0 374.0 235.0 370.0 235.2 369.0 236.5 368.0 236.0 366.4 238.0 365.0 238.3 364.0 240.7ZM347.0 234.2 346.0 235.0 344.0 234.5 343.3 234.0 343.5 232.0 346.0 231.8 347.2 233.0 347.0 234.2ZM381.0 239.1 379.5 239.0 379.2 238.0 380.0 236.5 381.4 238.0 381.0 239.1ZM364.0 243.2 363.1 243.0 364.0 241.6 365.0 241.9 367.0 239.2 368.0 239.1 368.8 241.0 368.4 242.0 365.0 242.2 364.0 243.2ZM463.0 302.5 456.7 302.0 456.0 300.1 455.0 300.4 454.4 302.0 450.7 302.0 449.0 300.0 450.5 299.0 450.5 298.0 448.7 298.0 448.8 300.0 448.0 300.0 447.0 299.8 446.8 297.0 446.0 296.0 443.0 297.2 442.0 296.0 442.0 293.4 439.0 292.0 434.6 288.0 430.9 275.0 435.0 269.9 436.0 269.5 437.2 271.0 441.0 272.3 442.5 271.0 440.0 269.0 442.0 268.1 452.0 276.0 452.8 278.0 452.3 279.0 456.1 283.0 456.1 284.0 459.0 287.0 459.0 288.0 462.0 292.0 462.2 297.0 460.6 299.0 463.3 302.0 463.0 302.5ZM457.4 288.0 455.0 285.5 453.2 286.0 455.0 289.0 457.4 288.0Z"/>
<path fill="#FF9900" fill-rule="evenodd" d="M292.0 84.0 288.6 83.0 289.0 82.4 292.0 82.9 292.0 84.0ZM266.0 90.8 265.0 90.0 266.0 88.9 266.0 90.8ZM181.0 93.6 180.4 93.0 181.0 91.9 181.5 93.0 181.0 93.6ZM191.0 95.7 189.5 95.0 191.0 93.0 191.5 95.0 191.0 95.7ZM283.0 107.6 282.0 107.8 281.0 105.0 285.0 101.8 285.7 103.0 283.0 107.6ZM214.0 140.0 213.0 140.6 210.0 139.2 209.3 137.0 207.5 136.0 207.0 134.9 208.9 133.0 209.0 132.0 206.2 130.0 205.2 127.0 206.0 125.6 215.0 123.6 217.0 121.4 219.0 122.5 220.5 121.0 217.0 120.3 214.0 118.3 212.3 115.0 209.0 112.0 207.9 108.0 209.0 107.3 212.0 107.4 214.0 108.7 218.2 115.0 221.0 117.2 221.3 121.0 222.1 122.0 222.5 126.0 220.0 128.2 220.5 131.0 219.9 132.0 213.0 132.7 211.0 131.9 209.2 133.0 210.6 136.0 214.4 139.0 214.0 140.0ZM238.0 132.4 236.4 132.0 236.6 129.0 232.5 128.0 234.7 124.0 233.3 122.0 232.2 118.0 237.0 116.0 240.8 119.0 240.4 121.0 238.7 123.0 238.7 126.0 237.7 129.0 238.8 131.0 238.0 132.4ZM295.0 122.1 294.0 122.6 292.8 121.0 295.0 116.2 296.1 119.0 295.0 122.1ZM282.0 128.3 280.5 127.0 280.7 125.0 282.0 122.9 283.2 127.0 282.0 128.3ZM288.0 124.2 287.1 123.0 289.0 122.8 288.0 124.2ZM288.0 128.0 286.0 128.1 284.9 127.0 286.0 125.4 288.0 127.0 288.0 128.0ZM280.0 135.4 278.8 135.0 277.4 132.0 278.0 131.7 280.0 133.5 280.0 135.4ZM220.0 136.1 219.0 136.9 218.2 136.0 220.0 134.8 220.0 136.1ZM234.0 140.7 232.0 140.2 230.0 140.8 228.7 140.0 228.8 139.0 230.0 137.6 232.0 137.8 234.0 139.4 234.0 140.7ZM265.0 142.2 262.0 141.7 259.0 143.0 257.4 142.0 258.0 140.9 261.0 140.6 266.0 138.4 268.2 139.0 268.0 140.7 265.0 142.2ZM227.0 142.7 225.7 141.0 227.0 139.9 227.7 141.0 227.0 142.7ZM276.0 201.2 274.0 199.7 271.0 200.3 269.0 198.0 262.7 200.0 260.0 197.6 257.7 197.0 255.9 193.0 256.0 189.6 254.0 190.0 252.7 189.0 252.5 184.0 250.0 181.3 247.9 181.0 248.0 179.0 246.4 178.0 246.2 177.0 249.8 175.0 249.0 174.0 246.0 174.6 244.3 173.0 246.4 172.0 246.9 169.0 245.0 168.1 243.0 168.9 242.0 168.2 239.9 164.0 241.0 162.3 244.0 160.9 245.4 159.0 249.4 157.0 250.0 155.0 249.5 154.0 252.0 152.1 254.0 152.5 254.5 152.0 253.6 150.0 255.0 148.4 257.0 150.5 259.0 149.1 262.0 149.0 262.3 148.0 260.4 146.0 263.0 144.4 265.0 144.9 264.2 148.0 265.8 150.0 264.0 153.6 256.0 163.0 255.0 163.6 253.0 161.7 250.0 161.6 249.0 160.8 245.5 162.0 248.2 165.0 250.6 170.0 255.5 174.0 257.9 179.0 257.4 181.0 259.0 183.0 262.0 183.6 266.0 188.4 271.1 191.0 272.2 192.0 272.4 194.0 274.4 195.0 276.0 197.7 279.0 197.7 276.0 201.2ZM401.0 149.1 398.6 149.0 398.2 148.0 400.0 146.7 401.9 147.0 402.5 148.0 401.0 149.1ZM422.0 150.5 421.0 150.3 418.0 147.0 420.0 146.6 422.0 147.3 425.0 146.6 425.0 147.9 422.0 150.5ZM348.0 150.3 347.0 150.7 346.7 150.0 347.0 147.9 348.1 148.0 348.0 150.3ZM360.0 152.2 359.0 152.7 355.0 151.7 352.9 148.0 357.0 148.3 358.6 151.0 360.5 152.0 360.0 152.2ZM406.0 150.4 404.5 149.0 406.0 148.1 407.3 149.0 406.0 150.4ZM380.0 153.0 379.3 152.0 381.0 150.2 382.1 152.0 380.0 153.0ZM434.0 186.5 428.2 185.0 432.4 181.0 430.0 181.4 429.3 180.0 430.0 175.0 431.5 172.0 430.0 171.6 428.0 173.7 427.1 172.0 426.0 171.9 423.4 169.0 426.7 166.0 426.9 164.0 428.0 163.1 430.0 164.5 431.5 160.0 431.7 159.0 431.0 158.8 426.0 159.9 422.4 158.0 424.0 156.2 426.5 155.0 427.2 154.0 426.7 152.0 428.0 151.0 430.0 150.7 434.0 153.6 435.8 157.0 434.8 160.0 436.0 160.6 438.0 158.4 443.9 156.0 443.1 154.0 444.0 153.0 444.3 155.0 446.0 157.3 447.0 157.9 449.0 157.4 450.5 159.0 449.0 161.4 447.0 159.5 446.1 160.0 446.2 162.0 447.0 163.7 449.8 165.0 452.0 170.9 455.0 171.7 455.0 174.4 456.0 174.7 457.2 174.0 458.0 172.2 461.0 172.2 461.9 174.0 461.9 177.0 463.3 180.0 463.0 183.0 461.0 185.7 459.8 185.0 461.0 183.0 460.0 182.1 458.0 182.6 454.0 177.9 452.0 177.6 452.7 175.0 451.0 173.2 448.0 173.3 443.0 177.8 440.9 176.0 440.8 178.0 439.5 180.0 440.6 184.0 439.0 185.1 436.0 184.0 434.0 186.5ZM379.0 156.2 378.0 156.0 379.0 154.1 379.0 156.2ZM398.0 159.2 396.6 156.0 396.9 155.0 398.1 156.0 398.0 159.2ZM453.0 158.4 451.4 158.0 453.0 156.1 453.0 158.4ZM376.0 162.0 373.0 162.8 370.0 161.0 372.0 160.8 374.0 158.0 377.0 158.0 377.4 159.0 376.0 162.0ZM454.0 166.2 452.0 166.3 450.1 165.0 450.5 164.0 453.6 163.0 455.0 161.3 456.3 163.0 454.0 166.2ZM384.0 164.3 383.0 164.5 383.0 163.1 384.0 162.9 384.0 164.3ZM412.0 164.3 410.6 164.0 411.0 163.0 413.0 162.2 413.4 163.0 412.0 164.3ZM422.0 167.1 420.8 165.0 422.0 163.9 422.9 166.0 422.0 167.1ZM391.0 166.2 389.5 166.0 390.0 165.2 391.0 165.5 391.0 166.2ZM412.0 171.2 411.0 167.7 413.0 168.0 414.0 169.0 413.9 170.0 412.0 171.2ZM402.0 174.1 401.0 172.0 404.0 170.6 404.8 173.0 402.0 174.1ZM417.0 174.6 416.0 174.5 415.9 173.0 418.0 170.4 418.7 171.0 418.3 173.0 417.0 174.6ZM353.0 174.2 353.0 172.8 354.9 173.0 353.0 174.2ZM358.0 175.2 357.0 175.2 355.8 173.0 358.0 172.5 358.6 173.0 358.0 175.2ZM366.0 174.3 364.0 174.3 363.9 173.0 366.0 173.0 366.0 174.3ZM243.0 179.1 239.4 179.0 237.8 178.0 239.0 177.2 241.0 177.5 243.0 179.1ZM378.0 181.5 376.0 181.4 375.2 180.0 375.8 179.0 378.0 178.5 378.7 179.0 378.0 181.5ZM372.0 182.1 371.0 182.8 370.3 182.0 371.0 180.3 373.0 179.6 373.4 180.0 372.0 182.1ZM397.0 191.2 396.0 191.0 392.3 187.0 392.8 186.0 391.3 183.0 393.0 180.7 397.0 180.7 399.0 179.6 399.1 182.0 396.9 184.0 395.8 187.0 398.6 190.0 397.0 191.2ZM415.0 180.1 412.2 180.0 413.0 179.4 415.0 180.1ZM437.5 181.0 437.5 180.0 436.4 180.0 436.5 181.0 437.5 181.0ZM447.0 185.2 446.0 185.8 443.1 184.0 441.9 181.0 442.3 180.0 445.0 179.4 446.6 181.0 448.3 184.0 447.0 185.2ZM360.0 186.5 359.0 186.9 358.0 186.0 359.0 182.6 360.9 183.0 360.0 186.5ZM455.0 185.3 451.4 185.0 450.6 184.0 453.0 183.7 455.7 185.0 455.0 185.3ZM467.0 193.2 462.0 191.6 460.0 193.9 459.0 193.8 458.2 192.0 459.0 188.5 464.0 188.9 465.0 184.4 468.0 183.7 469.2 185.0 469.0 186.4 467.0 187.2 464.2 190.0 469.0 192.0 467.0 193.2ZM364.0 194.6 362.0 194.3 362.0 193.0 364.0 192.4 364.9 193.0 364.0 194.6ZM404.0 217.1 398.0 216.6 394.0 213.5 391.9 214.0 391.3 213.0 393.0 209.5 394.6 208.0 392.0 204.0 390.2 203.0 390.3 199.0 388.4 197.0 389.0 195.0 393.0 193.9 394.0 196.5 397.0 197.1 398.1 195.0 399.0 194.4 400.4 195.0 398.5 198.0 399.5 200.0 399.1 202.0 399.3 203.0 402.0 203.8 402.6 205.0 403.6 211.0 402.2 212.0 404.0 217.1ZM414.0 196.3 412.0 193.9 413.0 193.7 414.4 195.0 414.0 196.3ZM410.0 199.0 408.3 197.0 409.0 195.0 410.2 195.0 411.3 197.0 411.6 198.0 410.0 199.0ZM365.0 205.2 364.0 205.7 362.9 205.0 362.6 202.0 364.0 200.0 363.3 198.0 365.8 198.0 365.8 199.0 364.0 200.0 365.7 200.0 368.0 195.1 369.0 195.4 369.8 198.0 366.5 204.0 365.0 205.2ZM377.0 196.5 375.0 196.0 376.0 195.1 377.0 195.3 377.8 196.0 377.0 196.5ZM348.0 201.1 345.7 199.0 345.3 198.0 346.0 197.3 347.0 197.0 350.4 199.0 348.0 201.1ZM357.0 198.6 356.1 198.0 357.0 197.3 357.5 198.0 357.0 198.6ZM405.0 200.6 403.3 200.0 403.4 199.0 405.0 197.5 407.0 197.5 407.4 198.0 405.0 200.6ZM312.0 224.5 309.0 222.4 303.0 222.9 301.0 224.8 298.7 224.0 298.0 221.9 290.0 222.9 288.0 220.0 290.0 218.0 289.3 215.0 290.2 212.0 289.7 211.0 288.0 209.6 287.0 210.1 286.1 212.0 286.7 214.0 285.8 215.0 285.0 212.0 280.3 208.0 286.3 203.0 286.0 200.0 284.0 201.3 283.0 201.1 283.0 199.5 284.0 198.9 286.0 200.0 287.9 199.0 289.0 199.6 288.9 204.0 291.0 206.0 293.0 205.4 295.1 206.0 295.5 204.0 297.0 203.1 299.5 206.0 302.0 206.6 304.0 204.2 307.0 202.6 311.4 205.0 311.1 207.0 312.0 207.9 315.3 208.0 316.0 209.0 313.0 209.5 312.0 211.0 314.1 218.0 312.0 218.7 311.0 217.6 310.6 218.0 310.7 220.0 312.0 220.6 312.5 222.0 312.0 224.5ZM319.0 204.3 312.0 203.6 310.7 201.0 310.9 200.0 313.0 199.6 321.0 201.0 320.0 203.9 319.0 204.3ZM387.0 210.2 386.0 210.3 385.8 209.0 382.7 207.0 382.1 204.0 380.8 202.0 381.0 200.7 383.0 200.9 387.3 204.0 387.6 207.0 386.2 209.0 387.0 210.2ZM360.0 204.0 359.0 202.6 360.6 203.0 360.0 204.0ZM377.0 211.5 376.0 211.9 375.0 211.3 373.3 209.0 375.1 206.0 373.6 203.0 375.0 202.2 376.5 203.0 377.0 211.5ZM355.0 219.2 353.7 219.0 353.0 215.2 351.0 214.8 349.0 215.6 348.0 215.0 349.0 213.3 350.0 213.0 349.2 210.0 350.7 208.0 350.5 206.0 352.0 204.8 353.9 206.0 353.2 209.0 353.8 211.0 356.0 213.2 357.3 213.0 358.0 207.9 359.1 208.0 360.0 209.7 361.0 209.1 365.6 210.0 365.9 211.0 366.1 213.0 365.0 213.5 362.0 211.9 360.8 212.0 358.4 216.0 355.0 219.2ZM324.0 207.6 323.0 207.9 322.5 207.0 324.0 206.9 324.0 207.6ZM277.0 211.1 276.0 211.9 274.9 211.0 276.0 208.0 277.6 210.0 277.0 211.1ZM282.0 217.1 278.0 214.3 279.0 211.8 284.9 215.0 282.0 217.1ZM324.0 226.1 321.3 226.0 323.0 225.2 324.0 226.1ZM280.0 229.1 279.4 228.0 280.0 227.2 280.5 228.0 280.0 229.1ZM319.0 231.3 316.0 231.2 316.1 229.0 319.0 228.1 320.1 230.0 319.0 231.3ZM345.0 234.1 344.0 232.8 345.7 233.0 345.0 234.1ZM453.0 301.2 450.7 301.0 452.9 299.0 452.0 297.2 448.0 296.3 446.0 294.3 444.0 294.1 442.0 292.1 439.0 291.1 435.0 287.5 431.7 276.0 433.0 273.5 436.0 273.5 438.0 272.4 441.0 272.9 445.0 271.0 451.2 276.0 451.8 277.0 450.8 280.0 455.8 283.0 451.0 284.8 451.3 286.0 454.0 289.8 459.0 289.4 461.2 292.0 461.8 295.0 461.2 297.0 459.4 298.0 459.0 300.9 457.0 299.3 455.0 299.0 453.0 301.2ZM442.0 279.0 441.0 278.9 440.0 276.9 438.4 276.0 438.2 277.0 439.0 278.0 442.0 279.0Z"/>
<path fill="#FF0000" fill-rule="evenodd" d="M220.0 119.2 214.9 118.0 213.9 115.0 210.0 111.9 209.4 109.0 211.0 108.4 212.8 109.0 212.3 111.0 214.0 111.3 220.0 117.0 220.6 118.0 220.0 119.2ZM236.0 123.1 234.5 122.0 235.4 120.0 234.7 119.0 237.0 117.5 238.8 119.0 236.0 123.1ZM218.0 131.5 213.0 131.6 209.0 130.4 206.6 127.0 213.0 124.8 221.0 124.0 221.5 126.0 217.0 128.0 218.8 130.0 218.0 131.5ZM236.0 127.3 235.1 126.0 237.0 125.4 237.0 126.8 236.0 127.3ZM263.0 153.9 262.0 153.9 261.3 152.0 264.0 149.6 264.4 151.0 263.0 153.9ZM255.0 161.5 253.1 160.0 251.0 160.5 248.4 159.0 256.0 151.8 259.0 151.2 260.0 154.0 259.7 156.0 256.4 158.0 255.0 161.5ZM430.0 153.1 428.6 153.0 428.8 152.0 429.6 152.0 430.0 153.1ZM432.0 157.4 430.1 157.0 431.0 155.4 433.0 155.0 433.0 156.7 432.0 157.4ZM427.0 159.2 425.0 158.0 426.0 156.6 427.0 156.0 429.8 157.0 429.4 158.0 427.0 159.2ZM444.0 175.8 443.0 175.7 442.0 174.4 437.0 174.0 435.0 170.2 431.0 170.2 429.0 169.1 428.2 168.0 429.0 166.4 432.0 167.5 433.9 167.0 432.5 165.0 432.0 161.6 433.0 160.9 436.0 162.1 439.0 164.6 440.0 163.0 438.2 160.0 443.0 157.5 445.0 157.9 444.3 163.0 445.9 165.0 445.7 167.0 442.8 171.0 443.2 173.0 444.7 174.0 444.0 175.8ZM245.0 165.3 242.0 165.0 240.9 164.0 241.2 163.0 244.0 162.2 245.4 164.0 245.0 165.3ZM450.0 172.2 448.0 172.0 447.4 170.0 447.6 168.0 449.0 167.2 450.3 169.0 450.0 172.2ZM250.0 172.8 248.0 172.1 248.0 170.8 249.0 170.2 250.0 170.9 250.8 172.0 250.0 172.8ZM253.0 175.2 250.9 174.0 250.4 173.0 251.0 172.3 253.7 174.0 253.0 175.2ZM460.0 175.2 459.3 174.0 461.0 173.4 461.0 174.8 460.0 175.2ZM432.0 176.3 431.0 176.0 431.2 175.0 432.2 175.0 432.0 176.3ZM256.0 180.2 254.0 180.3 252.0 178.5 250.0 178.4 249.3 177.0 255.0 176.4 257.2 179.0 256.0 180.2ZM434.0 179.1 433.3 177.0 434.0 176.3 439.0 177.1 439.0 178.4 436.0 177.4 434.0 179.1ZM461.0 181.2 456.7 178.0 457.0 176.3 460.0 176.4 462.0 178.7 462.4 180.0 461.0 181.2ZM433.0 186.0 431.2 185.0 431.4 184.0 433.0 182.8 434.0 182.9 433.9 185.0 433.0 186.0ZM255.0 188.2 254.0 188.7 253.3 188.0 253.2 186.0 254.0 184.8 257.0 183.3 257.7 184.0 257.5 185.0 255.0 188.2ZM467.0 186.1 466.4 185.0 468.0 185.0 467.0 186.1ZM264.0 197.6 262.0 197.9 261.0 196.3 258.9 196.0 257.2 193.0 257.2 189.0 260.0 186.6 263.0 186.7 265.8 190.0 265.9 191.0 263.8 194.0 265.2 196.0 264.0 197.6ZM261.6 194.0 260.0 192.3 258.5 193.0 260.0 194.8 261.6 194.0ZM391.0 197.5 389.4 197.0 390.0 195.6 391.5 196.0 391.0 197.5ZM394.0 202.5 391.8 201.0 393.0 199.5 394.0 200.1 394.0 202.5ZM314.0 202.1 312.0 202.1 311.8 201.0 313.0 200.4 314.0 201.0 314.0 202.1ZM319.0 203.1 317.5 203.0 317.5 202.0 319.0 201.8 319.0 203.1ZM396.0 205.0 394.6 204.0 394.8 203.0 396.7 203.0 396.0 205.0ZM302.0 222.2 298.0 219.6 295.0 221.6 292.0 222.0 290.8 220.0 290.2 214.0 291.3 212.0 290.9 211.0 287.0 208.0 285.6 210.0 284.1 210.0 283.0 208.0 287.0 204.3 292.0 207.9 296.0 207.2 298.0 205.7 300.0 207.1 303.0 207.7 307.0 204.4 308.0 204.9 308.7 207.0 310.0 207.5 310.6 209.0 307.7 213.0 311.0 212.8 312.0 215.4 309.4 217.0 308.6 221.0 302.0 222.2ZM386.0 207.5 384.0 207.2 383.7 206.0 386.0 205.0 386.8 206.0 386.0 207.5ZM400.0 208.1 398.8 208.0 399.0 205.6 400.2 206.0 400.0 208.1ZM395.0 211.8 394.3 211.0 395.0 209.9 396.0 211.0 395.0 211.8ZM401.0 215.5 398.0 215.3 397.0 213.2 395.4 212.0 396.0 211.1 397.0 212.7 399.0 211.7 401.8 214.0 401.0 215.5ZM306.1 219.0 306.2 217.0 304.7 216.0 303.4 213.0 302.6 213.0 301.7 214.0 303.7 216.0 300.4 218.0 300.1 219.0 302.0 219.9 306.1 219.0ZM455.0 296.7 448.0 295.0 448.0 292.0 447.0 290.8 444.0 291.5 443.0 290.5 440.0 290.7 436.0 287.4 433.9 283.0 434.6 279.0 432.8 276.0 433.0 275.0 434.0 274.3 436.5 275.0 437.2 279.0 436.6 281.0 438.0 282.4 439.1 282.0 439.0 280.4 442.0 280.7 443.1 279.0 442.0 277.2 438.1 274.0 441.0 273.8 444.0 271.7 446.0 272.0 447.7 275.0 450.6 277.0 449.4 280.0 451.0 282.0 445.0 283.9 444.2 286.0 448.0 288.4 450.0 288.0 452.0 290.4 458.0 290.8 458.5 293.0 455.0 296.7ZM450.0 288.0 448.8 287.0 449.0 285.1 450.0 288.0ZM461.0 296.1 459.7 296.0 460.0 293.7 461.0 294.3 461.0 296.1Z"/>
<path fill="#CC0000" fill-rule="evenodd" d="M215.0 127.8 213.2 126.0 215.3 126.0 215.7 127.0 215.0 127.8ZM210.0 128.4 208.8 127.0 211.0 126.9 210.0 128.4ZM258.0 156.0 256.0 156.9 254.0 156.0 257.0 152.0 258.0 151.9 259.0 154.0 258.0 156.0ZM253.0 158.0 252.9 157.0 254.0 156.2 254.4 157.0 253.0 158.0ZM439.0 169.5 437.0 169.4 436.1 168.0 437.0 165.8 439.7 168.0 439.0 169.5ZM442.0 169.3 440.5 168.0 440.8 167.0 444.0 165.5 444.7 167.0 442.0 169.3ZM439.0 172.5 438.0 172.9 437.5 172.0 439.0 171.6 439.6 172.0 439.0 172.5ZM256.0 179.1 254.0 179.0 254.0 178.0 256.0 178.0 256.0 179.1ZM263.0 191.5 262.0 191.6 260.1 190.0 262.0 187.7 263.5 191.0 263.0 191.5ZM291.0 209.5 290.0 209.4 289.0 207.8 290.5 208.0 291.0 209.5ZM294.0 221.2 292.2 221.0 291.9 220.0 292.5 218.0 295.1 217.0 294.9 214.0 293.4 212.0 294.7 209.0 295.0 208.3 298.0 207.6 300.1 208.0 302.3 211.0 300.7 213.0 300.4 216.0 297.6 218.0 296.4 220.0 294.0 221.2ZM306.0 212.5 305.0 212.6 304.2 211.0 306.0 208.3 309.0 208.7 308.8 210.0 306.0 212.5ZM310.0 215.3 308.6 215.0 310.0 213.7 310.9 214.0 310.9 215.0 310.0 215.3ZM445.0 280.2 443.7 278.0 444.9 276.0 442.2 275.0 442.2 274.0 445.0 272.2 446.1 273.0 446.4 275.0 449.5 277.0 449.5 278.0 445.0 280.2ZM441.0 289.4 440.0 289.6 436.0 286.2 435.0 282.5 440.0 285.3 441.9 282.0 443.0 282.2 443.6 284.0 442.3 288.0 441.0 289.4ZM455.0 295.0 453.0 295.1 451.4 294.0 451.5 292.0 455.0 292.2 456.0 294.0 455.0 295.0Z"/>
<path fill="#9955CC" fill-rule="evenodd" d="M298.0 215.0 296.0 214.3 295.8 212.0 297.0 213.8 298.2 214.0 298.0 215.0ZM295.0 220.0 293.2 220.0 293.5 219.0 295.0 218.6 295.7 219.0 295.0 220.0ZM445.0 274.1 443.7 274.0 444.0 273.0 445.1 273.0 445.0 274.1Z"/></g>
<path d="M115.1,62.8 L116.2,63.6 L117.4,64.4 L118.5,65.2 L119.6,65.9 L120.3,67.3 L121.0,68.6 L120.5,70.6 L120.1,72.6 L121.6,73.2 L123.2,73.8 L124.7,74.5 L126.3,75.1 L127.8,75.7 L129.4,76.3 L131.0,76.9 L132.6,77.5 L134.3,78.1 L136.0,78.4 L137.6,78.7 L139.3,79.0 L141.0,79.2 L142.7,79.5 L143.9,79.5 L145.0,79.6 L146.5,80.2 L147.9,80.8 L149.4,81.4 L150.8,81.9 L152.3,82.5 L153.7,83.1 L155.2,83.7 L156.7,84.2 L158.1,84.8 L158.5,82.7 L158.8,80.6 L159.6,78.5 L160.5,76.4 L161.3,74.2 L162.1,72.1 L162.9,70.0 L163.7,67.9 L164.5,65.7 L165.3,63.6 L166.1,61.5 L167.0,59.4 L167.8,57.3 M158.1,84.8 L158.4,87.5 L158.8,90.3 L156.9,92.2 L155.1,94.1 L153.1,96.0 L151.0,97.9 L151.3,100.1 L150.5,102.5 L149.6,104.8 L148.8,106.9 L148.0,109.0 L147.2,111.1 L146.4,113.2 L145.6,115.3 L144.8,117.4 L144.0,119.6 L143.2,121.7 M173.6,59.5 L172.8,61.7 L172.0,64.0 L171.2,66.3 L170.4,68.5 L170.5,70.4 L170.6,72.4 L170.7,74.3 L171.8,75.9 L172.9,77.5 L174.0,79.0 L174.5,81.8 L174.9,84.5 L174.4,86.6 L173.9,88.8 L173.3,90.9 L172.8,93.1 L173.7,95.4 L174.6,97.8 L175.6,100.2 L176.8,102.2 L178.0,104.3 L179.2,106.3 L180.4,108.4 L182.3,108.4 L184.1,108.4 L185.8,109.1 L187.5,109.7 L189.1,110.3 L190.8,110.9 L192.5,111.5 M193.8,106.5 L193.2,108.9 L192.5,111.3 L191.9,113.7 L191.3,116.1 L190.6,118.5 L190.0,120.9 L189.3,123.3 L188.7,125.7 L188.0,128.1 L187.4,130.6 L186.7,133.0 L186.1,135.4 M93.9,99.5 L95.6,100.3 L97.3,101.2 L98.9,102.0 L100.6,102.9 L102.3,103.7 L103.9,104.6 L105.6,105.4 L107.3,106.2 L109.0,107.0 L110.7,107.8 L112.4,108.6 L114.0,109.4 L115.7,110.2 L117.4,111.0 L119.2,111.7 L120.9,112.5 L122.6,113.3 L124.3,114.0 L126.0,114.7 L127.7,115.5 L129.4,116.2 L131.2,116.9 L132.9,117.6 L134.6,118.3 L136.4,119.0 L138.1,119.7 L139.9,120.4 L141.6,121.1 L143.3,121.7 L145.1,122.4 L146.9,123.0 L148.6,123.7 L150.4,124.3 L152.1,124.9 L153.9,125.6 L155.7,126.2 L157.4,126.8 L159.2,127.4 L161.0,128.0 L162.8,128.5 L164.5,129.1 L166.3,129.7 L168.1,130.2 L169.9,130.8 L171.7,131.3 L173.5,131.9 L175.3,132.4 L177.1,132.9 L178.9,133.4 L180.7,134.0 L182.5,134.4 L184.3,134.9 L186.1,135.4 M122.5,113.2 L121.5,115.5 L120.4,117.8 L119.4,120.2 L118.4,122.5 L117.4,124.8 L116.3,127.1 L115.3,129.5 L114.3,131.8 L113.2,134.2 L112.2,136.5 L111.1,138.9 L110.1,141.2 L111.1,143.7 L112.2,146.3 L113.3,148.8 L114.4,151.3 L115.5,153.8 L116.6,156.3 L117.8,158.8 L119.0,161.3 L120.1,163.8 L121.4,166.4 L122.6,168.9 L123.8,171.4 L125.1,173.9 L126.3,176.4 L127.6,179.0 L128.9,181.5 L130.3,184.0 L131.6,186.5 L133.0,189.0 L134.3,191.6 L135.7,194.1 L137.1,196.6 M137.1,196.6 L137.7,199.4 L138.2,202.2 L138.8,205.0 L136.9,207.0 L135.0,208.9 L133.0,210.8 L131.0,212.7 L130.2,215.0 L129.4,217.4 L128.5,219.7 M137.1,196.6 L137.7,194.3 L138.2,192.0 L138.8,189.7 L139.3,187.5 L139.9,185.2 L141.8,185.8 L143.7,186.4 L145.6,187.0 L146.4,184.6 L147.2,182.1 L148.0,179.6 L148.8,177.2 L149.6,174.7 L150.4,172.3 L151.2,169.8 L152.0,167.4 L152.7,165.0 L153.5,162.6 L154.3,160.1 L155.1,157.7 L155.9,155.3 L156.7,152.9 L157.4,150.5 L158.2,148.1 L159.0,145.7 L159.8,143.3 L160.5,140.9 L161.3,138.5 L162.1,136.2 L162.9,133.8 L163.6,131.4 L164.4,129.1 M148.5,178.0 L150.5,178.7 L152.5,179.3 L154.5,179.9 L156.6,180.5 L158.6,181.1 L160.6,181.7 L162.6,182.3 L164.7,182.9 L166.7,183.5 L168.7,184.0 L170.7,184.6 L172.8,185.1 L174.8,185.7 L176.9,186.2 L178.9,186.7 L180.9,187.2 L183.0,187.7 L185.0,188.2 L187.1,188.7 L189.1,189.2 M183.5,145.2 L185.3,145.7 L187.2,146.2 L189.1,146.7 L190.9,147.1 L192.8,147.6 L194.7,148.0 L196.6,148.5 L198.4,148.9 L200.3,149.3 L202.2,149.7 L204.1,150.1 L206.0,150.5 L207.9,150.9 L209.7,151.3 L211.6,151.7 L213.5,152.1 L215.4,152.4 L217.3,152.8 L219.2,153.1 L221.1,153.5 L223.0,153.8 L224.9,154.1 L226.8,154.4 L228.7,154.7 L230.6,155.0 L232.5,155.3 L234.4,155.6 L236.3,155.9 L238.3,156.1 L240.2,156.4 L242.1,156.6 L244.0,156.9 L245.9,157.1 L247.8,157.3 L249.7,157.5 L251.7,157.7 L251.4,160.3 L251.1,162.8 L250.9,165.3 L250.6,167.9 L252.5,168.1 L254.5,168.3 L256.5,168.4 L258.4,168.6 L260.4,168.8 L262.4,168.9 L264.3,169.1 L266.3,169.2 L268.2,169.4 L270.2,169.5 L272.2,169.6 L274.1,169.7 L276.1,169.8 L278.1,169.9 L280.0,170.0 L282.0,170.1 L284.0,170.1 L286.0,170.2 L287.9,170.2 L289.9,170.3 L291.9,170.3 L293.8,170.3 L295.8,170.3 L297.8,170.4 L299.7,170.3 L301.7,170.3 L303.7,170.3 M198.4,148.9 L197.9,151.4 L197.3,153.8 L196.7,156.3 L196.2,158.8 L195.6,161.2 L195.0,163.7 L194.4,166.2 L193.9,168.7 L193.3,171.2 L192.7,173.7 L192.1,176.2 L191.6,178.7 L191.0,181.2 L190.4,183.8 L189.8,186.3 L189.2,188.8 L188.6,191.4 L188.1,193.9 L187.5,196.5 L186.9,199.0 L186.3,201.6 L185.7,204.1 L185.1,206.7 L184.5,209.3 L183.9,211.9 L183.3,214.5 L182.7,217.1 L182.1,219.7 L181.5,222.3 L180.9,224.9 L180.3,227.5 L179.7,230.1 L179.1,232.7 L178.5,235.4 L177.9,238.0 L177.3,240.7 L176.6,243.3 L176.0,246.0 L175.4,248.7 M193.8,106.5 L195.5,107.0 L197.2,107.4 L198.9,107.8 L200.6,108.2 L202.3,108.7 L204.0,109.1 L205.7,109.5 L207.4,109.9 L209.1,110.3 L210.9,110.6 L212.6,111.0 L214.3,111.4 L216.0,111.7 L217.7,112.1 L219.4,112.4 L221.2,112.8 L222.9,113.1 L224.6,113.4 L226.3,113.7 L228.1,114.0 L229.8,114.3 L231.5,114.6 L233.3,114.9 L235.0,115.2 L236.7,115.4 L238.5,115.7 L240.2,115.9 L241.9,116.2 M247.4,77.6 L247.0,80.0 L246.7,82.4 L246.3,84.8 L246.0,87.2 L245.7,89.6 L245.3,92.0 L245.0,94.4 L244.7,96.8 L244.3,99.2 L244.0,101.6 L243.6,104.0 L243.3,106.5 L243.0,108.9 L242.6,111.3 L242.3,113.8 L241.9,116.2 L241.6,118.6 L241.2,121.1 L240.9,123.5 L240.5,126.0 L240.2,128.5 L239.9,130.9 L239.5,133.4 L239.2,135.9 L238.8,138.4 L238.5,140.8 L238.1,143.3 L237.8,145.8 L237.4,148.3 L237.1,150.8 L236.7,153.3 L236.3,155.9 M243.2,107.0 L244.9,107.3 L246.6,107.5 L248.3,107.7 L250.0,107.9 L251.7,108.1 L253.4,108.3 L255.1,108.5 L256.8,108.7 L258.5,108.9 L260.2,109.0 L261.9,109.2 L263.6,109.3 L265.3,109.5 L267.0,109.6 L268.7,109.8 L270.4,109.9 L272.2,110.0 L273.9,110.1 L275.6,110.2 L277.3,110.3 L279.0,110.4 L280.7,110.5 L282.4,110.5 L284.1,110.6 L285.8,110.7 L287.5,110.7 L289.3,110.8 L291.0,110.8 L292.7,110.8 L294.4,110.8 M290.4,81.1 L290.5,83.5 L290.6,85.9 L290.7,88.3 L290.7,90.7 L291.2,93.2 L291.7,95.6 L292.2,98.0 L292.7,100.5 L293.0,102.5 L293.4,104.6 L293.7,106.7 L294.0,108.8 L294.4,110.8 L294.6,112.9 L294.9,115.0 L295.1,117.1 L295.1,119.3 L295.1,121.6 L295.0,123.8 L295.0,126.0 L295.0,128.3 L295.0,130.5 L295.0,132.7 L295.0,135.0 L294.8,137.5 L294.7,140.0 L294.6,142.5 L294.5,145.0 M239.2,135.9 L240.9,136.1 L242.7,136.4 L244.4,136.6 L246.2,136.8 L248.0,137.0 L249.7,137.2 L251.5,137.4 L253.3,137.6 L255.0,137.8 L256.8,138.0 L258.6,138.1 L260.3,138.3 L262.1,138.4 L263.9,138.6 L265.6,138.7 L267.4,138.9 L269.2,139.0 L271.0,139.1 L272.7,139.2 L274.5,139.3 L276.3,139.4 L278.1,139.5 L279.8,139.6 L281.3,140.3 L282.7,141.0 L284.2,141.8 L285.9,141.6 L287.6,141.5 L289.4,141.4 L291.2,142.7 L293.0,144.0 L294.9,145.0 L295.7,147.5 L296.5,150.0 L297.3,152.5 L298.2,155.1 L299.0,157.6 L299.3,159.9 L299.7,162.1 L300.0,164.4 L301.2,166.4 L302.4,168.4 L303.7,170.3 L304.5,172.6 L305.4,174.9 L307.4,177.2 L309.5,179.5 L309.5,181.9 L309.6,184.3 L309.6,186.7 L309.7,189.1 L309.7,191.6 L309.8,194.0 L309.8,196.4 L309.8,198.9 L309.9,201.3 L309.9,203.9 L310.0,206.6 L310.4,208.9 L310.8,211.2 L311.2,213.5 L311.5,215.9 L311.9,218.2 L311.9,220.5 L312.0,222.9 L312.0,225.2 L312.0,227.6 L312.0,230.0 L312.0,232.3 L312.0,234.7 L312.0,237.1 L314.0,237.5 L316.0,237.9 L316.1,240.3 L316.2,242.7 L316.3,245.1 L316.3,247.5 L316.4,250.0 L316.5,252.4 L316.6,254.8 L317.8,257.5 L319.1,260.2 L320.4,262.9 L321.7,265.7 L321.4,267.9 L321.1,270.1 L320.9,272.4 L320.6,274.6 L319.9,277.2 L319.3,279.7 M189.1,189.2 L191.2,189.6 L193.2,190.1 L195.3,190.5 L197.3,191.0 L199.4,191.4 L201.4,191.8 L203.5,192.2 L205.6,192.6 L207.6,193.0 L209.7,193.4 L211.7,193.8 L213.8,194.1 L215.9,194.5 L217.9,194.8 L220.0,195.2 L222.1,195.5 L224.2,195.8 L226.2,196.1 L228.3,196.4 L230.4,196.7 L232.5,197.0 L234.5,197.3 L236.6,197.6 L238.7,197.8 L240.8,198.1 L242.9,198.3 L245.0,198.6 L247.0,198.8 L249.1,199.0 L251.2,199.2 L253.3,199.4 L255.4,199.6 L257.5,199.8 L259.6,199.9 L261.7,200.1 L263.8,200.2 L265.8,200.4 L267.9,200.5 L270.0,200.6 L272.1,200.8 L274.2,200.9 L276.3,201.0 L278.4,201.1 L280.5,201.1 L282.6,201.2 L284.7,201.3 L286.8,201.3 L288.9,201.4 L291.0,201.4 L293.1,201.4 L295.2,201.4 L297.3,201.5 L299.4,201.5 L301.5,201.4 L303.6,201.4 L305.7,201.4 L307.8,201.4 L309.9,201.3 M239.4,197.9 L239.0,200.5 L238.7,203.1 L238.4,205.7 L238.1,208.4 L237.8,211.0 L237.4,213.6 L237.1,216.3 L236.8,218.9 L236.5,221.6 L236.1,224.2 L235.8,226.9 L235.5,229.6 L235.2,232.3 L234.8,234.9 L234.5,237.6 L234.2,240.3 L233.9,243.0 L233.5,245.7 L233.2,248.5 L232.9,251.2 L230.6,250.9 L228.4,250.6 L226.1,250.3 L223.9,250.0 L221.7,249.7 L219.4,249.4 L217.2,249.1 L215.0,248.7 L212.7,248.4 L210.5,248.0 L208.3,247.6 L206.0,247.3 L203.8,246.9 L201.6,246.5 L199.4,246.1 M238.7,203.1 L240.8,203.4 L243.0,203.6 L245.1,203.9 L247.2,204.1 L249.3,204.3 L251.4,204.5 L253.6,204.7 L255.7,204.9 L257.8,205.1 L259.9,205.2 L262.1,205.4 L264.2,205.5 L264.0,208.1 L263.8,210.7 L263.6,213.2 L263.5,215.8 L263.3,218.4 L263.1,220.9 L262.9,223.5 L262.7,226.1 L264.5,227.2 L266.2,228.3 L267.9,229.4 L269.6,230.4 L271.7,230.9 L273.8,231.4 L275.8,231.8 L277.6,232.8 L279.4,233.7 L281.1,234.7 L282.9,235.2 L284.7,235.6 L286.5,236.1 L288.3,236.5 L290.6,235.7 L292.8,235.0 L294.9,234.8 L296.9,234.7 L298.9,234.6 L300.9,234.4 L303.1,235.0 L305.4,235.5 L307.6,236.0 L309.8,236.6 L312.0,237.1 M295.0,135.0 L296.8,135.0 L298.6,135.0 L300.4,135.0 L302.2,135.0 L304.0,134.9 L305.8,134.9 L307.6,134.9 L309.4,134.8 L311.3,134.8 L313.1,134.7 L314.9,134.7 L316.7,134.6 L318.5,134.5 L320.3,134.4 L322.1,134.3 L323.9,134.2 L325.7,134.1 L327.5,134.0 L329.3,133.8 L331.2,133.7 L333.0,133.6 M333.0,133.6 L331.6,131.7 L330.2,129.8 L328.8,127.9 L327.5,126.0 L325.8,125.0 L324.1,124.0 L322.5,123.0 L320.8,121.9 L320.8,119.6 L320.8,117.3 L320.8,115.0 L321.7,113.2 L322.6,111.3 L323.5,109.5 L323.4,107.4 L323.3,105.4 L323.1,103.3 L324.8,102.5 M335.8,102.9 L337.0,104.1 L338.2,105.3 L339.8,105.9 L341.4,106.4 L343.0,107.0 L344.7,107.6 L345.9,107.6 L347.2,107.6 L348.5,107.6 L349.8,107.9 L351.1,108.2 L352.4,108.5 L353.6,109.9 L354.9,111.2 L355.8,113.0 L356.8,114.9 M359.1,140.7 L357.4,140.9 L355.6,141.2 L353.9,141.4 L352.1,141.6 L350.4,141.8 L348.6,142.1 L346.9,142.3 L345.1,142.4 L343.4,142.6 L341.6,142.8 L339.9,143.0 L338.1,143.2 M333.0,133.6 L333.4,136.0 L333.9,138.5 L335.3,140.0 L336.7,141.6 L338.1,143.2 L339.4,145.3 L340.8,147.4 L342.1,149.4 L340.7,151.3 L339.3,153.2 L338.1,155.8 L336.7,158.5 L336.5,160.6 L336.3,162.6 L335.2,163.8 L334.0,165.1 L334.4,167.4 L334.8,169.7 L335.1,172.0 L337.2,174.2 L339.3,176.4 L341.3,178.7 L342.9,179.2 L344.4,179.7 L346.0,180.3 L346.4,182.3 L346.8,184.4 L347.2,186.4 L347.6,188.5 L349.9,190.3 L352.2,192.2 L353.4,194.1 L354.6,196.1 L355.9,198.1 L354.7,200.8 L353.5,203.6 L353.0,206.3 L352.4,209.1 L351.9,211.4 L351.3,213.7 L350.8,216.0 L350.3,218.4 L348.4,221.2 L347.3,223.8 L346.2,226.3 L345.1,228.8 L344.0,231.4 L343.7,234.0 L343.4,236.7 L343.0,239.4 L342.7,242.1 L343.7,244.7 L344.6,247.2 L345.6,249.8 L344.4,252.1 L343.2,254.4 L342.0,256.7 L340.8,259.0 L340.4,261.8 L340.0,264.6 M300.0,164.4 L301.9,164.4 L303.7,164.4 L305.6,164.4 L307.4,164.3 L309.3,164.3 L311.1,164.2 L313.0,164.2 L314.8,164.1 L316.7,164.0 L318.5,164.0 L320.4,163.9 L322.2,163.8 L324.1,163.7 L325.9,163.6 L327.8,163.5 L329.6,163.3 L331.5,163.2 L332.7,164.1 L334.0,165.1 M310.0,206.6 L312.1,206.5 L314.2,206.5 L316.3,206.4 L318.5,206.3 L320.6,206.2 L322.7,206.1 L324.8,206.0 L326.9,205.9 L329.0,205.8 L331.1,205.6 L333.3,205.5 L335.4,205.3 L337.5,205.2 L339.6,205.0 L341.7,204.8 L343.8,204.6 L345.9,204.4 L348.0,204.2 L347.3,206.9 L346.7,209.7 L348.6,209.5 L350.5,209.3 L352.4,209.1 M316.2,243.7 L318.4,243.6 L320.6,243.5 L322.8,243.4 L325.0,243.3 L327.2,243.2 L329.5,243.1 L331.7,242.9 L333.9,242.8 L336.1,242.6 L338.3,242.5 L340.5,242.3 L342.7,242.1 M340.0,264.6 L342.2,264.4 L344.5,264.2 L346.8,264.0 L349.0,263.8 L351.3,263.6 L353.5,263.4 L355.8,263.2 L358.0,262.9 L358.6,265.1 L359.2,267.3 L359.7,269.5 L360.3,271.6 M353.5,203.6 L355.6,203.4 L357.6,203.1 L359.7,202.8 L361.7,202.5 L363.7,202.2 L365.8,201.8 L367.8,201.5 L369.9,201.2 L371.9,200.8 L373.9,200.5 L376.0,200.1 L378.0,199.7 L380.0,199.3 L382.1,199.0 L384.1,198.6 L386.1,198.2 L388.1,197.7 L390.1,197.3 L392.2,196.9 L394.2,196.5 L396.2,196.0 L398.2,195.5 L400.2,195.1 L402.2,194.6 M355.9,198.1 L357.6,197.3 L359.3,196.6 L361.1,195.8 L361.9,193.8 L362.8,191.7 L363.6,189.7 L365.5,188.1 L367.4,186.5 L369.2,186.4 L371.1,186.2 L372.9,186.1 L374.8,185.9 L376.5,184.6 L378.1,183.3 L379.8,181.9 L381.4,180.6 L383.0,178.9 L384.6,177.2 L386.2,175.5 L387.0,173.2 L387.8,171.0 L389.7,171.3 L391.5,171.6 L393.4,171.9 L395.3,172.3 L397.1,172.6 L399.0,172.9 L400.9,173.2 L402.9,173.5 L404.8,173.8 L406.8,174.1 L408.2,171.7 L409.5,169.3 L410.9,166.9 L412.3,164.4 L413.8,161.9 L414.9,160.6 L416.1,159.2 L417.2,157.8 L417.2,155.4 L417.2,152.9 L417.2,150.4 L417.2,147.9 M406.8,174.1 L408.5,176.1 L410.3,178.2 L412.1,180.2 L413.9,182.2 L414.6,184.2 L412.9,185.7 L411.1,187.2 L409.4,188.7 L407.6,190.2 L405.8,191.7 L404.0,193.1 L402.2,194.6 M363.9,188.6 L364.8,186.0 L365.7,183.4 L366.5,180.9 L366.3,178.7 L366.2,176.5 L366.0,174.3 L365.8,172.1 L365.4,169.6 L365.1,167.2 L364.7,164.8 L364.3,162.3 L364.0,159.9 L363.6,157.5 L363.3,155.0 L362.9,152.6 L362.5,150.2 L362.2,147.8 M387.7,171.0 L387.2,168.6 L386.7,166.2 L386.3,163.8 L385.8,161.4 L385.3,159.1 L384.9,156.7 L384.4,154.3 L383.9,152.0 L383.5,149.6 L383.0,147.3 L382.5,144.9 M367.5,147.0 L369.4,146.7 L371.2,146.4 L373.1,146.0 L375.0,145.7 L376.8,145.4 L378.7,145.0 L380.6,144.7 L382.4,144.3 L384.1,144.0 L385.8,143.8 L387.6,143.5 L389.3,143.2 L391.0,142.8 L392.7,142.5 M417.2,147.9 L416.6,145.7 L416.0,143.5 L415.4,141.3 L414.8,139.1 L414.2,137.0 L413.6,134.8 M419.7,157.0 L419.1,154.7 L418.4,152.4 L417.8,150.2 L417.2,147.9 M419.7,157.0 L421.6,156.4 L423.5,155.9 L425.4,155.4 L427.3,154.8 L429.2,154.3 L431.1,153.7 L433.0,153.1 L434.9,152.5 L436.7,152.0 L438.6,151.4 L440.5,150.8 L442.4,150.1 L444.3,149.5 L446.1,148.9 L448.0,148.3 L449.9,147.6 L451.7,147.0 L453.6,146.3 L455.4,145.6 L456.2,147.7 L456.9,149.7 L457.7,151.8 L458.5,153.8 L459.2,155.9 L460.0,157.9 L461.9,157.3 L463.7,156.6 L465.6,155.8 M418.3,130.4 L418.6,131.7 L419.0,133.1 L420.8,132.5 L422.6,132.0 L424.3,131.5 L426.1,131.0 L427.8,130.4 L429.6,129.9 L431.4,129.3 L433.1,128.8 L434.9,128.2 L436.6,127.6 L438.4,127.0 L440.1,126.4 L441.8,125.8 L443.6,125.2 L445.3,124.6 L447.0,124.0 L448.8,123.4 L450.5,122.7 L452.8,124.1 L455.2,125.6 L457.6,127.0 L459.3,127.3 L461.1,127.6 L462.8,127.9 L464.6,128.3 M457.6,127.0 L457.3,129.1 L457.1,131.3 L456.9,133.4 L456.7,135.6 L458.8,136.9 L461.0,138.3 L459.8,140.7 L458.6,143.0 L457.3,144.1 L456.4,144.9 L455.4,145.6 M427.6,154.7 L428.1,156.4 L428.6,158.1 L429.1,159.9 L430.6,158.4 L432.0,156.9 L433.5,155.3 L434.9,154.5 L436.3,153.7 L437.7,152.9 L439.9,153.7 L442.2,154.5 L444.4,155.3 L446.5,156.1 L448.7,156.9 L449.7,159.2 L450.6,161.4 L451.5,163.7 L453.5,163.7 L455.6,163.7 L457.6,163.8 M442.2,154.5 L440.6,155.5 L439.0,156.4 L437.4,157.4 L436.2,160.2 L435.0,163.0 L433.9,164.9 L432.7,166.9 L431.6,168.8 L430.5,171.0 L429.4,173.1 L428.3,175.2 L426.8,177.1 L425.3,178.9 L423.8,180.8 L422.1,181.5 L420.3,182.2 L418.6,183.0 L416.8,183.7 L415.7,183.9 L414.6,184.2 M466.2,176.8 L464.2,177.5 L462.3,178.2 L460.3,178.8 L458.4,179.5 L456.4,180.1 L454.4,180.8 L452.5,181.4 L450.5,182.0 L448.6,182.6 L446.6,183.2 L444.6,183.8 L442.6,184.4 L440.7,185.0 L438.7,185.5 L436.7,186.1 L434.7,186.6 L432.7,187.2 L430.7,187.7 L428.8,188.2 L426.8,188.8 L424.8,189.3 L422.8,189.8 L420.8,190.3 L418.8,190.8 L416.7,191.3 L414.6,191.8 L412.6,192.3 L410.5,192.8 L408.4,193.2 L406.4,193.7 L404.3,194.2 L402.2,194.6 M418.8,190.8 L418.0,193.1 L417.2,195.5 L415.7,196.9 L414.3,198.4 L412.9,199.8 L411.2,201.3 L409.6,202.7 L407.9,204.2 L406.2,205.7 L404.8,207.3 L403.3,209.0 L401.8,210.7 L400.3,212.4 M400.3,212.4 L398.2,212.8 L396.0,213.2 L393.9,213.6 L391.7,214.0 L389.6,214.4 L387.4,214.8 L385.2,215.2 L383.1,215.6 L380.9,215.9 L378.8,216.3 L376.6,216.6 L374.4,216.9 L372.2,217.3 L370.1,217.6 L367.9,217.9 L365.7,218.2 L363.6,218.5 L361.4,218.7 L359.2,219.0 L357.0,219.3 L354.9,219.5 L352.7,219.7 L350.5,220.0 L348.3,220.2 M400.3,212.4 L402.4,211.9 L404.5,211.5 L406.6,211.0 L408.7,210.6 L410.8,210.1 L410.3,208.0 L412.3,207.6 L414.2,207.1 L416.2,206.7 L418.1,206.2 L420.1,205.7 L422.0,205.2 L424.0,204.7 L425.9,204.2 L427.9,203.7 L429.4,205.4 L431.0,207.1 L432.9,206.6 L434.8,206.2 L436.8,205.7 L438.7,205.2 L440.6,204.7 L443.1,206.1 L445.6,207.4 L448.1,208.8 L450.6,210.2 L453.2,211.6 M410.8,210.1 L413.6,212.2 L416.3,214.3 L418.1,216.5 L419.8,218.7 L421.6,220.8 L423.5,222.9 L425.4,224.9 L427.8,227.1 L430.3,229.3 L432.8,231.5 L434.6,233.1 L436.5,234.7 L438.4,236.3 M389.3,214.5 L390.1,216.9 L391.0,219.4 L391.8,221.8 L392.7,224.3 L393.5,226.7 L394.4,229.2 L395.3,231.7 L396.2,234.2 L397.1,236.6 L398.1,238.5 L399.2,240.3 L400.3,242.1 L400.7,244.5 L401.1,246.8 L401.5,249.2 L401.9,251.5 L402.3,253.9 L402.7,256.3 L403.7,257.7 L404.7,259.2 L407.0,258.8 L409.3,258.5 L411.6,258.2 L413.9,257.8 L416.2,257.5 L418.5,257.1 L420.8,256.7 L423.1,256.3 L425.4,255.9 L427.7,255.5 L430.0,255.1 L431.9,256.7 L433.5,255.2 L435.1,253.6 L436.7,252.1 M402.7,256.3 L400.5,256.7 L398.3,257.1 L396.1,257.5 L393.8,257.9 L391.6,258.3 L389.4,258.6 L387.2,259.0 L384.9,259.4 L382.7,259.7 L380.5,260.0 L378.2,260.4 L378.9,263.0 L379.7,265.6 L380.4,268.3 M366.7,218.0 L366.8,220.6 L367.0,223.2 L367.2,225.7 L367.3,228.3 L367.5,230.9 L367.6,233.4 L367.8,236.0 L367.9,238.6 L368.1,241.2 L368.2,243.8 L368.4,246.4 L368.6,249.0 L368.7,251.7 L369.1,254.1 L369.5,256.5 L370.0,259.0 L370.4,261.5 L370.8,263.6 L371.2,265.8 L371.5,268.0 M453.2,89.5 L454.0,91.8 L454.9,94.2 L455.7,96.5 L456.6,98.8 L457.9,100.6 L459.2,102.4 L460.0,104.3 L460.7,106.2 L461.5,108.1 L462.2,110.0 L462.6,112.4 L463.0,114.8 L463.4,117.2 L463.9,119.5 L464.4,121.9 L464.9,124.3 L465.5,126.7 L466.3,127.4 M465.0,84.4 L465.7,86.8 L466.4,89.2 L466.0,92.1 L465.5,95.1 L465.8,97.6 L466.2,100.2 L466.5,102.8 L466.8,105.4 L467.3,106.6 L467.9,107.9 M462.3,110.2 L464.0,109.5 L465.7,108.8 L467.4,108.1 L469.0,107.4 L470.7,106.6 L472.4,105.9 L474.0,105.2 L475.7,104.4 L477.1,103.0 L478.5,101.6 M463.4,117.4 L465.1,116.7 L466.8,116.0 L468.5,115.3 L470.2,114.5 L471.9,113.8 L473.5,113.1 L475.2,112.4 L476.2,114.5 L477.1,116.7 L478.1,118.8 M478.1,111.1 L479.4,112.4 L480.8,113.8 L482.1,115.1 M466.5,80.5 L467.6,82.7 L468.7,84.8 L469.8,86.9 L470.9,89.1 L472.0,91.2 L473.1,93.4 L474.2,95.5 L475.5,96.8 L476.9,98.1 L478.2,99.4" fill="none" stroke="#1a1a1a" stroke-width="0.85" stroke-linejoin="round"/>
<path d="M120.7,42.4 L119.9,44.5 L119.0,46.7 L118.8,48.8 L118.6,50.9 L118.4,53.0 L118.1,54.7 L117.7,56.5 L116.8,58.5 L115.8,60.5 L114.9,62.5 L114.2,64.3 L113.4,66.0 L112.7,67.8 L112.0,69.5 L110.7,71.4 L109.5,73.2 L108.2,75.1 L107.0,76.9 L105.5,79.0 L104.0,81.0 L102.5,83.0 L101.0,85.0 L99.4,87.0 L98.2,88.3 L96.9,89.6 L95.6,90.9 L95.2,93.0 L94.8,95.2 L94.4,97.3 L93.9,99.5 L92.9,101.8 L91.9,104.1 L90.9,106.5 L89.9,108.8 L88.3,110.1 L86.7,111.4 L85.1,112.7 L85.4,115.3 L85.6,117.9 L85.9,120.5 L85.1,122.6 L84.3,124.6 L83.5,126.7 L82.7,128.7 L83.3,131.6 L83.9,134.4 L84.6,137.2 L85.1,139.5 L85.7,141.7 L86.3,143.9 L85.6,145.9 L84.9,147.9 L84.2,149.9 L85.2,151.8 L86.1,153.7 L85.7,155.6 L85.3,157.4 L85.4,160.2 L85.5,163.0 L85.7,165.8 L85.8,168.6 L86.6,170.9 L87.3,173.3 L88.1,175.7 L87.4,177.7 L86.8,179.8 L86.1,181.8 L86.9,183.4 L88.4,184.2 L89.9,185.0 L91.4,185.8 L92.9,186.6 L94.2,188.2 L95.4,189.7 L96.7,191.3 L98.0,192.9 L99.5,195.2 L100.9,197.6 L102.7,199.2 L104.5,200.8 L105.8,203.6 L107.2,206.4 L107.1,209.0 L107.0,211.6 L106.9,214.2 M120.7,42.4 L121.7,43.4 L122.8,44.5 L123.8,45.5 L124.9,46.6 L125.9,47.7 L127.0,48.7 L128.4,49.1 L129.8,49.4 L131.2,49.7 L132.0,48.0 L132.9,46.3 L133.7,44.6 L134.6,42.9 L133.8,42.5 L132.9,42.0 M131.2,49.7 L132.0,51.2 L132.9,52.8 L132.0,53.9 L131.1,55.1 L130.3,56.3 L129.5,57.5 L128.0,58.2 L126.6,58.8 L126.1,56.9 L127.5,56.0 L128.9,55.1 L129.7,53.8 L130.4,52.6 L130.7,50.0 M86.6,143.8 L87.3,142.7 L89.0,142.0 L90.4,143.0 L91.5,143.6 L92.6,144.1 M87.2,144.4 L86.8,146.5 L87.6,148.7 L88.0,147.1 L87.9,144.7 L88.3,142.6 M85.7,187.5 L87.2,188.5 L88.7,189.5 L90.3,190.5 L91.8,191.4 L93.7,191.6 M106.9,214.2 L109.1,214.8 L111.2,215.3 L113.4,215.9 L115.5,216.5 L117.7,217.0 L119.9,217.6 L122.0,218.1 L124.2,218.6 L126.3,219.2 L128.5,219.7 L126.9,221.8 L128.8,223.3 L130.8,224.8 L132.7,226.4 L134.7,227.9 L136.6,229.4 L138.6,230.9 L140.6,232.4 L142.6,233.9 L144.6,235.3 L146.6,236.8 L148.6,238.3 L150.7,239.7 L152.7,241.2 L154.7,242.6 L156.8,244.1 L159.0,244.6 L161.2,245.2 L163.4,245.8 L165.6,246.3 L167.8,246.9 L170.0,247.4 L172.2,247.9 L174.4,248.4 L176.6,248.9 L178.8,249.4 L181.0,249.9 L183.2,250.4 L183.7,247.9 L184.2,245.5 L186.5,246.0 L188.7,246.4 L190.9,246.9 L193.1,247.3 L195.3,247.8 L197.5,248.2 L199.7,248.6 M199.7,248.6 L200.9,250.9 L202.1,253.3 L204.0,255.4 L206.0,257.5 L207.9,259.7 L209.9,261.8 L211.9,263.9 L212.7,266.4 L213.6,268.9 L214.5,271.3 L215.3,273.8 L216.2,276.3 L217.9,277.7 L219.6,279.1 L221.3,280.6 L223.1,281.9 L225.0,283.2 L226.8,284.5 L228.4,283.3 L230.1,282.2 L232.3,280.2 L234.5,278.2 L236.7,276.2 L238.7,276.4 L240.6,276.6 L242.5,276.8 L244.5,277.0 L246.3,278.8 L248.1,280.6 L249.9,282.4 L251.0,285.0 L252.2,287.6 L253.3,290.2 L255.1,293.1 L256.9,295.9 L258.7,298.8 L260.6,301.7 L262.4,304.6 L263.1,306.9 L263.7,309.3 L264.4,311.6 L264.8,313.6 L265.2,315.6 L266.9,317.5 L268.8,317.9 L270.5,319.1 L272.3,320.4 L274.1,321.6 L276.1,322.2 L278.2,322.8 L280.3,323.4 L282.4,324.0 L284.3,323.7 L286.1,323.4 M286.1,323.4 L285.6,321.2 L285.2,319.1 L284.7,317.0 L284.2,314.1 L283.8,311.2 L284.5,308.9 L285.3,306.7 L286.0,304.4 L287.1,302.1 L288.1,299.8 L290.7,297.6 L293.2,295.3 L295.2,294.2 L297.3,293.1 L299.3,291.9 L301.6,290.8 L303.9,289.7 L306.2,288.5 L308.4,286.5 L310.6,284.5 L312.4,283.5 L314.2,282.5 L315.9,281.5 L317.6,280.6 L319.3,279.7 L321.1,279.8 L322.9,279.9 L324.7,280.1 L327.2,280.2 L329.7,280.4 L332.1,280.5 L334.6,280.6 L336.6,280.6 L338.5,280.6 L340.5,280.6 L342.5,280.6 L344.5,281.8 L346.6,282.9 L348.7,284.1 L351.0,284.2 L353.4,284.4 L355.7,284.6 L357.7,284.0 L359.6,283.4 L361.5,282.8 L363.6,283.7 L365.7,284.6 L365.0,283.0 L364.3,281.4 L362.6,279.3 L360.9,277.2 L360.6,274.4 L360.3,271.6 L362.1,270.9 L364.0,270.1 L365.9,269.3 L367.8,268.9 L369.7,268.5 L371.5,268.0 L373.1,268.7 L374.6,269.3 L376.6,269.0 L378.5,268.6 L380.4,268.3 L382.5,267.5 L384.7,266.6 L386.9,265.8 L388.9,266.1 L390.9,266.3 L392.9,266.5 L394.9,266.7 L397.6,268.0 L400.3,269.2 L402.2,271.5 L403.8,271.0 L405.5,270.5 L407.4,269.2 L409.3,267.8 L411.2,266.5 L413.2,265.5 L415.2,264.5 L417.6,266.1 L419.9,267.7 L422.3,269.3 L425.3,271.5 L428.4,273.7 L429.3,276.2 L430.2,278.7 L431.2,281.2 L432.0,283.4 L432.7,285.6 L433.5,287.7 L434.3,289.9 L435.8,291.9 L437.3,293.9 L438.9,295.9 L441.0,297.8 L443.0,299.7 L444.6,301.7 L446.2,303.7 L447.8,305.7 L450.4,307.4 L453.1,309.2 L455.7,310.9 L458.3,312.1 L460.6,310.5 L463.0,309.0 L463.6,306.4 L464.3,303.8 L463.8,300.9 L463.3,298.0 L462.8,295.1 L462.3,292.2 L460.6,289.7 L459.0,287.1 L457.5,285.2 L456.0,283.2 L454.6,281.2 L453.1,279.2 L452.4,276.8 L451.7,274.3 L449.5,271.9 L447.3,269.6 L445.2,267.2 L443.9,265.3 L442.6,263.3 L441.3,261.3 L440.0,259.3 L438.9,256.9 L437.8,254.5 L436.7,252.1 M436.7,252.1 L436.7,249.8 L436.7,247.5 L436.7,245.2 L436.7,242.9 L437.6,239.8 L438.5,236.8 L439.8,233.6 L441.1,230.4 L442.9,228.4 L444.8,226.5 L446.4,224.3 L448.0,222.2 L449.6,220.0 L450.8,217.2 L452.0,214.4 L453.2,211.6 L454.7,210.9 L456.2,210.2 L457.7,209.6 L458.6,206.5 L459.4,203.4 L461.1,202.0 L462.7,200.6 L464.4,199.2 L466.0,197.8 L467.3,196.2 L468.6,194.6 L469.9,193.0 L471.2,191.7 L472.5,190.4 L473.8,189.1 L472.8,186.9 L471.7,184.7 L470.7,182.5 L469.2,180.6 L467.7,178.7 L466.2,176.8 L464.9,175.0 L463.7,173.3 L462.2,171.7 L460.8,170.2 L459.4,168.7 L458.5,166.2 L457.6,163.8 L456.2,161.5 L454.7,159.3 L453.9,157.3 L453.1,155.4 L452.4,153.5 L451.6,151.6 L453.1,150.0 L454.7,148.3 L454.8,151.0 L454.9,153.7 L456.0,155.9 L457.0,158.1 L458.1,160.3 L460.0,161.8 L461.9,163.3 L462.3,165.4 L462.7,167.5 L463.1,169.6 L463.5,171.6 L463.9,169.3 L464.3,166.9 L464.6,164.6 L465.0,162.2 L465.2,160.1 L465.4,158.0 L465.6,155.8 L464.9,154.3 L464.2,152.7 L462.6,151.4 L461.0,150.1 L459.5,148.8 L458.4,146.4 L457.3,144.1 L459.5,145.4 L461.8,146.8 L464.0,148.2 L464.5,149.5 L465.0,150.8 L466.0,147.8 L467.0,144.8 L467.0,142.2 L467.0,139.6 L467.0,137.1 L466.4,135.2 L465.8,133.4 L465.0,132.4 L466.2,132.2 L467.8,131.5 L469.4,130.8 L471.0,130.0 L472.6,129.3 L474.0,127.7 L475.4,126.1 L476.9,124.6 L478.3,123.0 L478.8,121.4 L477.2,122.6 L475.6,123.7 L474.0,124.8 L472.3,125.7 L470.6,126.5 L468.8,127.4 L467.1,128.2 L466.3,127.4 L467.7,126.1 L469.0,124.7 L470.5,123.7 L471.9,122.6 L473.4,121.5 L474.9,120.7 L476.3,119.9 L477.7,119.1 L478.8,118.2 L479.9,117.2 L481.1,116.2 L482.3,115.1 L483.8,114.2 L485.2,113.4 L486.7,112.6 L488.2,111.8 L489.6,111.1 L488.9,108.6 L486.1,107.2 L485.7,109.0 L485.3,110.9 L483.2,109.1 L481.4,107.9 L479.7,106.8 L480.2,105.2 L480.6,103.6 L479.6,102.6 L478.5,101.6 L478.2,99.4 L478.9,96.5 L479.5,93.6 L480.3,91.8 L481.1,90.1 L482.1,88.9 L483.1,87.6 L484.0,86.4 L485.3,84.8 L486.5,83.3 L487.7,81.7 L488.8,80.1 L490.1,78.9 L491.3,77.7 L492.5,76.4 L493.2,75.0 L493.9,73.5 L494.5,72.0 L492.5,70.8 L490.5,69.7 M490.5,69.7 L488.3,68.1 L486.2,66.4 L484.0,64.8 L483.0,62.8 L482.0,60.9 L480.9,59.0 L479.9,57.1 L478.8,55.1 L477.3,54.9 L475.9,54.6 L474.4,54.4 L472.9,54.8 L471.5,55.2 L470.1,55.7 L468.7,56.1 L468.6,58.4 L468.5,60.7 L468.4,63.1 L468.3,65.4 L468.2,67.8 L468.5,70.2 L468.8,72.6 L469.1,75.0 L468.2,76.8 L467.3,78.7 L466.5,80.5 L465.4,81.0 L464.4,81.5 L464.7,82.9 L465.0,84.4 L463.5,85.1 L462.1,85.7 L460.6,86.4 L459.1,87.0 L457.6,87.7 L456.1,88.3 L454.7,88.9 L453.2,89.5 L451.7,90.1 L450.2,90.7 L448.7,91.3 L447.3,91.9 L445.8,92.5 L444.3,93.0 L443.2,94.8 L442.1,96.6 L440.9,98.4 L439.8,100.2 L438.6,102.0 L437.7,103.7 L436.8,105.3 M436.8,105.3 L438.1,107.0 L437.9,109.4 L437.6,111.9 L436.2,112.8 L434.8,113.7 L433.4,114.6 L432.0,115.5 L430.6,116.4 L428.9,116.6 L427.2,116.8 L425.4,117.0 L424.2,117.6 L422.9,118.2 L421.7,118.8 L420.4,119.5 L421.5,121.1 L422.6,122.8 M422.6,122.8 L421.8,125.0 L420.9,127.3 L419.6,128.9 L418.3,130.4 L417.2,131.5 L416.2,132.6 L414.9,133.7 L413.6,134.9 L412.1,136.3 L410.6,137.6 L409.2,139.0 L407.7,140.4 L406.1,141.7 L404.7,142.3 L403.3,142.8 L401.8,143.3 L400.3,143.4 L398.7,143.5 L396.7,143.1 L394.7,142.7 L392.6,142.3 L393.9,139.5 L394.4,137.5 L395.0,135.6 L396.2,132.7 L396.7,130.6 L397.3,128.4 M397.3,128.4 L396.5,126.5 L395.7,124.6 L395.0,122.8 L393.0,120.9 L391.1,119.0 L390.1,120.5 L389.1,121.9 L388.0,123.3 L387.1,124.0 L386.1,124.7 L386.4,122.6 L386.7,120.5 L386.9,119.0 L387.1,117.4 L386.7,115.6 L386.3,113.7 L386.0,111.9 L385.6,110.0 L383.8,108.7 L382.0,107.4 L380.3,106.9 L378.6,106.3 L376.9,105.8 L375.2,105.3 M375.2,105.3 L374.1,106.0 L372.9,106.7 L371.8,107.4 L371.1,109.5 L370.4,111.7 L369.2,113.9 L368.0,116.1 L367.7,118.4 L367.4,120.7 L367.1,123.0 L366.7,125.4 L367.5,127.5 L368.4,129.6 L369.2,131.8 L370.0,133.9 L370.2,136.3 L370.3,138.6 L370.5,141.0 L369.5,143.0 L368.5,145.0 L367.5,147.0 L365.8,148.0 L364.1,148.9 L362.7,147.8 L361.3,146.7 L360.6,144.7 L359.8,142.7 L359.1,140.7 L358.6,138.9 L358.1,137.2 L357.6,135.4 L357.8,133.0 L357.9,130.6 L358.0,128.2 L358.2,125.7 L358.3,123.2 L358.4,120.6 L359.3,118.0 L360.2,115.4 L361.1,112.7 L359.8,113.9 L358.4,115.1 L357.1,116.3 L355.8,117.5 L355.3,119.2 L354.8,120.9 L355.5,118.9 L356.2,116.9 L356.8,114.9 L357.7,112.6 L358.7,110.3 L359.6,108.0 L360.9,107.3 L362.3,106.6 L363.7,105.8 L365.1,105.1 L366.6,104.8 L368.2,104.6 L369.8,104.3 L371.2,104.3 L372.6,104.3 L374.0,104.2 L375.4,104.2 L376.6,103.6 L377.9,103.0 L379.2,102.3 L380.4,101.7 L378.6,100.6 L376.7,99.5 L374.9,98.3 M374.9,98.3 L373.3,97.2 L371.7,96.0 L370.4,96.5 L369.1,96.9 L367.8,97.4 L366.6,97.9 L365.3,98.6 L364.1,99.3 L362.8,100.0 L361.6,100.7 L360.2,100.7 L358.8,100.7 L357.4,100.6 L356.1,100.6 L354.6,99.7 L353.1,98.8 L351.6,97.9 L350.1,97.0 L350.8,94.7 L351.5,92.4 L350.2,94.1 L348.8,95.7 L347.5,97.4 L345.9,98.5 L344.4,99.7 L342.9,100.9 L341.3,102.0 L339.9,102.3 L338.6,102.5 L337.2,102.7 L335.8,102.9 L334.2,101.2 L332.6,99.5 L331.2,100.4 L329.8,101.3 L328.5,102.3 L327.1,102.1 L325.7,101.9 L324.4,101.8 L325.8,100.3 L327.1,98.8 L328.5,97.3 L329.8,95.7 L331.1,94.2 L332.6,93.3 L334.0,92.3 L335.5,91.4 L336.9,90.4 L338.4,89.5 L339.8,88.5 M339.8,88.5 L338.2,88.5 L336.6,88.5 L335.1,88.4 L333.5,88.4 L331.9,88.3 L330.3,88.2 L328.8,88.0 L327.2,87.8 L325.6,87.7 L324.1,87.5 L322.5,86.9 L320.9,86.3 L319.3,85.8 L317.7,85.2 L316.1,84.6 L314.6,84.5 L313.1,84.3 L311.5,84.2 L310.0,84.1 L308.4,83.9 L306.8,83.0 L305.2,82.1 L303.6,81.1 L303.6,79.3 L303.6,77.5 L305.1,77.4 L304.4,79.3 L303.6,81.1 L302.0,81.1 L300.4,81.2 L298.9,81.2 L297.3,81.2 L295.7,81.1 L294.1,81.1 L292.6,81.1 L291.0,81.1 L289.4,81.1 L287.8,81.0 L286.2,81.0 L284.7,80.9 L283.1,80.8 L281.5,80.8 L279.9,80.7 L278.4,80.6 L276.8,80.5 L275.2,80.4 L273.6,80.3 L272.0,80.2 L270.5,80.1 L268.9,80.0 L267.3,79.9 L265.7,79.7 L264.2,79.6 L262.6,79.4 L261.0,79.3 L259.5,79.1 L257.9,78.9 L256.3,78.8 L254.8,78.6 L253.2,78.4 L251.6,78.2 L250.1,78.0 L248.5,77.8 L246.9,77.6 L245.4,77.3 L243.8,77.1 L242.2,76.9 L240.7,76.6 L239.1,76.4 L237.6,76.1 L236.0,75.9 L234.5,75.6 L232.9,75.3 L231.3,75.0 L229.8,74.7 L228.2,74.5 L226.7,74.1 L225.1,73.8 L223.6,73.5 L222.0,73.2 L220.5,72.9 L219.0,72.5 L217.4,72.2 L215.9,71.8 L214.3,71.5 L212.8,71.1 L211.3,70.8 L209.7,70.4 L208.2,70.0 L206.7,69.6 L205.1,69.2 L203.6,68.8 L202.1,68.4 L200.6,68.0 L199.1,67.6 L197.5,67.1 L196.0,66.7 L194.5,66.3 L193.0,65.8 L191.5,65.4 L190.0,64.9 L188.5,64.4 L187.0,64.0 L185.4,63.5 L183.9,63.0 L182.4,62.5 L181.0,62.0 L179.5,61.5 L178.0,61.0 L176.5,60.5 L175.0,59.9 L173.5,59.4 L172.0,58.9 L170.5,58.3 L169.1,57.8 L167.6,57.2 L166.1,56.7 L164.6,56.1 L163.2,55.5 L161.7,54.9 L160.2,54.3 L158.8,53.7 L157.3,53.1 L155.9,52.5 L154.4,51.9 L152.9,51.3 L151.5,50.7 L150.1,50.0 L148.6,49.4 L147.2,48.8 L145.7,48.1 L144.3,47.5 L142.9,46.8 L141.4,46.1 L140.0,45.5 L138.6,44.8 L137.2,44.1 L135.7,43.4 L134.3,42.7 L132.9,42.0" fill="none" stroke="#111" stroke-width="1.0" stroke-linejoin="round"/>
<g fill="#000"><circle cx="130" cy="57" r="2.6"/><circle cx="121" cy="72.4" r="2.6"/><circle cx="160.4" cy="68.4" r="2.6"/><circle cx="105" cy="100" r="2.6"/><circle cx="155" cy="108.75" r="2.6"/><circle cx="97" cy="140.5" r="2.6"/><circle cx="86" cy="145.5" r="2.6"/><circle cx="114.5" cy="137" r="2.6"/><circle cx="176" cy="145.2" r="2.6"/><circle cx="102.5" cy="178" r="2.6"/><circle cx="136.75" cy="183.75" r="2.6"/><circle cx="101" cy="195.75" r="2.6"/><circle cx="117" cy="203" r="2.6"/><circle cx="107.5" cy="211.75" r="2.6"/><circle cx="162.5" cy="203" r="2.6"/><circle cx="155" cy="219" r="2.6"/><circle cx="205.7" cy="213.4" r="2.6"/><circle cx="248.6" cy="218" r="2.6"/><circle cx="284" cy="218.6" r="2.6"/><circle cx="289" cy="245" r="2.6"/><circle cx="274" cy="282.4" r="2.6"/><circle cx="304.6" cy="277.4" r="2.6"/><circle cx="283.6" cy="324.6" r="2.6"/><circle cx="212.5" cy="102.5" r="2.6"/><circle cx="266.25" cy="101.75" r="2.6"/><circle cx="221.8" cy="134.3" r="2.6"/><circle cx="268" cy="125" r="2.6"/><circle cx="323.75" cy="101.25" r="2.6"/><circle cx="317.8" cy="121.1" r="2.6"/><circle cx="354.1" cy="121.7" r="2.6"/><circle cx="375.7" cy="134.3" r="2.6"/><circle cx="392.8" cy="137.4" r="2.6"/><circle cx="405.6" cy="143" r="2.6"/><circle cx="316" cy="154.4" r="2.6"/><circle cx="299.6" cy="157.4" r="2.6"/><circle cx="359.4" cy="146.4" r="2.6"/><circle cx="375.6" cy="167" r="2.6"/><circle cx="401" cy="158.8" r="2.6"/><circle cx="389.4" cy="170.4" r="2.6"/><circle cx="308.6" cy="178" r="2.6"/><circle cx="344" cy="181" r="2.6"/><circle cx="230" cy="167.4" r="2.6"/><circle cx="253" cy="175" r="2.6"/><circle cx="424" cy="121.8" r="2.6"/><circle cx="470" cy="115.6" r="2.6"/><circle cx="466" cy="130" r="2.6"/><circle cx="446.3" cy="143.5" r="2.6"/><circle cx="459.4" cy="142.6" r="2.6"/><circle cx="420" cy="148.6" r="2.6"/><circle cx="451" cy="153" r="2.6"/><circle cx="431.4" cy="180" r="2.6"/><circle cx="445" cy="191.3" r="2.6"/><circle cx="458.9" cy="111.4" r="2.6"/><circle cx="479.4" cy="106.6" r="2.6"/><circle cx="456.8" cy="93.4" r="2.6"/><circle cx="378.6" cy="204.6" r="2.6"/><circle cx="401.6" cy="203" r="2.6"/><circle cx="351.4" cy="219.6" r="2.6"/><circle cx="331.6" cy="224.4" r="2.6"/><circle cx="402.4" cy="227.4" r="2.6"/><circle cx="382" cy="232" r="2.6"/><circle cx="353.4" cy="249.4" r="2.6"/><circle cx="429" cy="203.4" r="2.6"/><circle cx="431" cy="216.6" r="2.6"/><circle cx="443.6" cy="225.4" r="2.6"/><circle cx="435" cy="255" r="2.6"/><circle cx="354.6" cy="275" r="2.6"/><circle cx="434" cy="285" r="2.6"/><circle cx="445" cy="276.8" r="2.6"/><circle cx="463" cy="302.7" r="2.6"/></g>
<g font-size="7.4" fill="#111" stroke="#111" stroke-width="0.3"><text x="134" y="60" textLength="21" lengthAdjust="spacingAndGlyphs">Seattle</text><text x="108.75" y="80" textLength="26.75" lengthAdjust="spacingAndGlyphs">Portland</text><text x="148" y="75" textLength="26" lengthAdjust="spacingAndGlyphs">Spokane</text><text x="110" y="103" textLength="27" lengthAdjust="spacingAndGlyphs">Medford</text><text x="152.5" y="118.7" textLength="16.5" lengthAdjust="spacingAndGlyphs">Boise</text><text x="71" y="137" textLength="38" lengthAdjust="spacingAndGlyphs">Sacramento</text><text x="86" y="154" textLength="43" lengthAdjust="spacingAndGlyphs">San Francisco</text><text x="119" y="140" textLength="17" lengthAdjust="spacingAndGlyphs">Reno</text><text x="160.5" y="153.5" textLength="40.5" lengthAdjust="spacingAndGlyphs">Salt Lake City</text><text x="92" y="175" textLength="34" lengthAdjust="spacingAndGlyphs">Bakersfield</text><text x="131" y="179" textLength="30" lengthAdjust="spacingAndGlyphs">Las Vegas</text><text x="104" y="193.5" textLength="37" lengthAdjust="spacingAndGlyphs">Los Angeles</text><text x="120" y="209" textLength="40" lengthAdjust="spacingAndGlyphs">Palm Springs</text><text x="86" y="221" textLength="31.5" lengthAdjust="spacingAndGlyphs">San Diego</text><text x="154" y="198" textLength="26" lengthAdjust="spacingAndGlyphs">Flagstaff</text><text x="145" y="228" textLength="25" lengthAdjust="spacingAndGlyphs">Phoenix</text><text x="191" y="222.5" textLength="41" lengthAdjust="spacingAndGlyphs">Albuquerque</text><text x="236.4" y="227" textLength="25.6" lengthAdjust="spacingAndGlyphs">Amarillo</text><text x="263" y="214.5" textLength="45" lengthAdjust="spacingAndGlyphs">Oklahoma City</text><text x="282" y="254.5" textLength="18" lengthAdjust="spacingAndGlyphs">Dallas</text><text x="251.6" y="278.4" textLength="38" lengthAdjust="spacingAndGlyphs">San Antonio</text><text x="294.4" y="274.4" textLength="25.6" lengthAdjust="spacingAndGlyphs">Houston</text><text x="288.4" y="323.6" textLength="35.6" lengthAdjust="spacingAndGlyphs">Brownsville</text><text x="203.75" y="98" textLength="21.25" lengthAdjust="spacingAndGlyphs">Billings</text><text x="252.5" y="98" textLength="27.5" lengthAdjust="spacingAndGlyphs">Bismarck</text><text x="211" y="130" textLength="21.5" lengthAdjust="spacingAndGlyphs">Casper</text><text x="260" y="132" textLength="19" lengthAdjust="spacingAndGlyphs">Pierre</text><text x="305" y="96.5" textLength="21" lengthAdjust="spacingAndGlyphs">Duluth</text><text x="301" y="129" textLength="38" lengthAdjust="spacingAndGlyphs">Minneapolis</text><text x="325" y="117.5" textLength="31" lengthAdjust="spacingAndGlyphs">Green Bay</text><text x="362" y="129" textLength="42" lengthAdjust="spacingAndGlyphs">Grand Rapids</text><text x="396" y="139" textLength="23" lengthAdjust="spacingAndGlyphs">Detroit</text><text x="381" y="150" textLength="29" lengthAdjust="spacingAndGlyphs">Cleveland</text><text x="301" y="150.5" textLength="36" lengthAdjust="spacingAndGlyphs">Des Moines</text><text x="273" y="159" textLength="22" lengthAdjust="spacingAndGlyphs">Omaha</text><text x="343.6" y="152.5" textLength="24.4" lengthAdjust="spacingAndGlyphs">Chicago</text><text x="349" y="163" textLength="41" lengthAdjust="spacingAndGlyphs">Indianapolis</text><text x="396" y="166" textLength="31" lengthAdjust="spacingAndGlyphs">Columbus</text><text x="375" y="178" textLength="35" lengthAdjust="spacingAndGlyphs">Cincinnati</text><text x="292" y="186" textLength="34" lengthAdjust="spacingAndGlyphs">Kansas City</text><text x="329" y="177" textLength="25" lengthAdjust="spacingAndGlyphs">St. Louis</text><text x="220" y="175" textLength="21" lengthAdjust="spacingAndGlyphs">Denver</text><text x="253" y="183" textLength="30" lengthAdjust="spacingAndGlyphs">Goodland</text><text x="413" y="120" textLength="22" lengthAdjust="spacingAndGlyphs">Buffalo</text><text x="474" y="121" textLength="26" lengthAdjust="spacingAndGlyphs">Hartford</text><text x="471.6" y="135" textLength="29.4" lengthAdjust="spacingAndGlyphs">New York</text><text x="423.6" y="140" textLength="32.4" lengthAdjust="spacingAndGlyphs">Harrisburg</text><text x="463.6" y="145" textLength="37.4" lengthAdjust="spacingAndGlyphs">Philadelphia</text><text x="407" y="156" textLength="29" lengthAdjust="spacingAndGlyphs">Pittsburgh</text><text x="455" y="159" textLength="31" lengthAdjust="spacingAndGlyphs">Baltimore</text><text x="432" y="174.4" textLength="28" lengthAdjust="spacingAndGlyphs">Roanoke</text><text x="448" y="193.5" textLength="20" lengthAdjust="spacingAndGlyphs">Raleigh</text><text x="439" y="106" textLength="19" lengthAdjust="spacingAndGlyphs">Albany</text><text x="483" y="106" textLength="22" lengthAdjust="spacingAndGlyphs">Boston</text><text x="435" y="89" textLength="29" lengthAdjust="spacingAndGlyphs">Burlington</text><text x="363" y="199" textLength="28" lengthAdjust="spacingAndGlyphs">Nashville</text><text x="390" y="209" textLength="25" lengthAdjust="spacingAndGlyphs">Knoxville</text><text x="354" y="218" textLength="27" lengthAdjust="spacingAndGlyphs">Memphis</text><text x="312" y="221" textLength="33" lengthAdjust="spacingAndGlyphs">Little Rock</text><text x="393" y="224.4" textLength="21" lengthAdjust="spacingAndGlyphs">Atlanta</text><text x="366" y="239" textLength="38" lengthAdjust="spacingAndGlyphs">Birmingham</text><text x="347" y="259" textLength="23" lengthAdjust="spacingAndGlyphs">Jackson</text><text x="432" y="206" textLength="29" lengthAdjust="spacingAndGlyphs">Charlotte</text><text x="435" y="217" textLength="30" lengthAdjust="spacingAndGlyphs">Columbia</text><text x="444.4" y="234" textLength="33.6" lengthAdjust="spacingAndGlyphs">Charleston</text><text x="409.6" y="264.4" textLength="36.4" lengthAdjust="spacingAndGlyphs">Jacksonville</text><text x="364.4" y="277.6" textLength="39.6" lengthAdjust="spacingAndGlyphs">New Orleans</text><text x="409" y="289" textLength="21" lengthAdjust="spacingAndGlyphs">Tampa</text><text x="452.7" y="277.3" textLength="24" lengthAdjust="spacingAndGlyphs">Orlando</text><text x="465" y="301.3" textLength="19" lengthAdjust="spacingAndGlyphs">Miami</text></g>
<!-- legend -->
<g font-size="8.2" fill="#1a1a1a" stroke="#1a1a1a" stroke-width="0.15"><rect x="140.4" y="349.5" width="29.1" height="8" fill="#E2FBE2" stroke="#A8A8A8" stroke-width="0.8"/><rect x="140.4" y="359.5" width="29.1" height="3" fill="#E2FBE2" stroke="#A8A8A8" stroke-width="0.8"/><text x="142.2" y="347.3" text-anchor="middle">0.01</text><text x="142.2" y="370.6" text-anchor="middle">0.25</text><rect x="170.7" y="349.5" width="29.1" height="8" fill="#C3F3C3" stroke="#A8A8A8" stroke-width="0.8"/><rect x="170.7" y="359.5" width="29.1" height="3" fill="#C3F3C3" stroke="#A8A8A8" stroke-width="0.8"/><text x="172.5" y="347.3" text-anchor="middle">0.1</text><text x="172.5" y="370.6" text-anchor="middle">3</text><rect x="200.9" y="349.5" width="29.1" height="8" fill="#00EE00" stroke="#A8A8A8" stroke-width="0.8"/><rect x="200.9" y="359.5" width="29.1" height="3" fill="#00EE00" stroke="#A8A8A8" stroke-width="0.8"/><text x="202.7" y="347.3" text-anchor="middle">0.25</text><text x="202.7" y="370.6" text-anchor="middle">6</text><rect x="231.2" y="349.5" width="29.1" height="8" fill="#00C000" stroke="#A8A8A8" stroke-width="0.8"/><rect x="231.2" y="359.5" width="29.1" height="3" fill="#00C000" stroke="#A8A8A8" stroke-width="0.8"/><text x="233.0" y="347.3" text-anchor="middle">0.50</text><text x="233.0" y="370.6" text-anchor="middle">13</text><rect x="261.5" y="349.5" width="29.1" height="8" fill="#008A00" stroke="#A8A8A8" stroke-width="0.8"/><rect x="261.5" y="359.5" width="29.1" height="3" fill="#008A00" stroke="#A8A8A8" stroke-width="0.8"/><text x="263.3" y="347.3" text-anchor="middle">0.75</text><text x="263.3" y="370.6" text-anchor="middle">19</text><rect x="291.8" y="349.5" width="29.1" height="8" fill="#FFFF00" stroke="#A8A8A8" stroke-width="0.8"/><rect x="291.8" y="359.5" width="29.1" height="3" fill="#FFFF00" stroke="#A8A8A8" stroke-width="0.8"/><text x="293.6" y="347.3" text-anchor="middle">1.0</text><text x="293.6" y="370.6" text-anchor="middle">25</text><rect x="322.0" y="349.5" width="29.1" height="8" fill="#FF9900" stroke="#A8A8A8" stroke-width="0.8"/><rect x="322.0" y="359.5" width="29.1" height="3" fill="#FF9900" stroke="#A8A8A8" stroke-width="0.8"/><text x="323.8" y="347.3" text-anchor="middle">1.5</text><text x="323.8" y="370.6" text-anchor="middle">38</text><rect x="352.3" y="349.5" width="29.1" height="8" fill="#FF0000" stroke="#A8A8A8" stroke-width="0.8"/><rect x="352.3" y="359.5" width="29.1" height="3" fill="#FF0000" stroke="#A8A8A8" stroke-width="0.8"/><text x="354.1" y="347.3" text-anchor="middle">2.0</text><text x="354.1" y="370.6" text-anchor="middle">51</text><rect x="382.6" y="349.5" width="29.1" height="8" fill="#D40000" stroke="#A8A8A8" stroke-width="0.8"/><rect x="382.6" y="359.5" width="29.1" height="3" fill="#D40000" stroke="#A8A8A8" stroke-width="0.8"/><text x="384.4" y="347.3" text-anchor="middle">2.5</text><text x="384.4" y="370.6" text-anchor="middle">64</text><rect x="412.8" y="349.5" width="29.1" height="8" fill="#B50000" stroke="#A8A8A8" stroke-width="0.8"/><rect x="412.8" y="359.5" width="29.1" height="3" fill="#B50000" stroke="#A8A8A8" stroke-width="0.8"/><text x="414.6" y="347.3" text-anchor="middle">3.0</text><text x="414.6" y="370.6" text-anchor="middle">76</text><rect x="443.1" y="349.5" width="29.1" height="8" fill="#9955CC" stroke="#A8A8A8" stroke-width="0.8"/><rect x="443.1" y="359.5" width="29.1" height="3" fill="#9955CC" stroke="#A8A8A8" stroke-width="0.8"/><text x="444.9" y="347.3" text-anchor="middle">4.0</text><text x="444.9" y="370.6" text-anchor="middle">102</text><polygon points="473.4,349.2 500.4,349.2 493.4,357.5 473.4,357.5" fill="#FF00FF" stroke="none"/><polygon points="473.4,359.6 491.7,359.6 488.4,362.6 473.4,362.6" fill="#FF00FF" stroke="none"/><text x="475.2" y="347.3" text-anchor="middle">&gt;5.0</text><text x="475.2" y="370.6" text-anchor="middle">&gt;127</text><text x="98" y="347.3" textLength="27" lengthAdjust="spacingAndGlyphs">INCHES</text><text x="111" y="370.5" textLength="14" lengthAdjust="spacingAndGlyphs">mm</text></g>
<!-- footer -->
<rect x="1" y="380" width="598" height="40" fill="#32637F"/>
<rect x="1" y="380" width="598" height="1" fill="#25506A"/>
<text x="8" y="404" font-size="16.5" fill="#7FC9C3" textLength="64" lengthAdjust="spacingAndGlyphs" style="font-weight:normal">weather</text>
<text x="72.5" y="404" font-size="16.5" fill="#B7CB32" textLength="46" lengthAdjust="spacingAndGlyphs">trends</text>
<text x="120.5" y="404.6" font-size="16.8" fill="#5BA9D6" textLength="26" lengthAdjust="spacingAndGlyphs">360</text>
<path d="M126,386 A15.5,15.5 0 1 1 124,409" fill="none" stroke="#8CC3D6" stroke-width="0.8"/>
<circle cx="149.3" cy="392.3" r="1.4" fill="#C6D63A"/>
<text x="18" y="413.5" font-size="6.3" fill="#95ADBE" textLength="94" lengthAdjust="spacingAndGlyphs">better business in any weather®</text>
</svg>
</body></html>
